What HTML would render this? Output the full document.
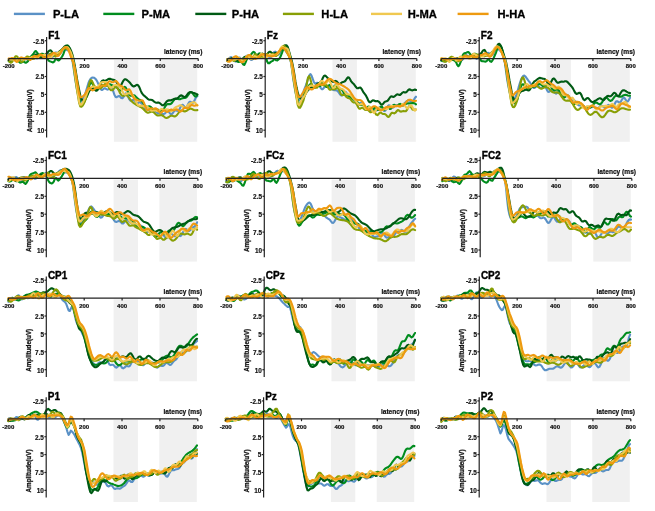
<!DOCTYPE html>
<html><head><meta charset="utf-8"><style>
html,body{margin:0;padding:0;background:#fff;}
svg{display:block;filter:blur(0.3px);}
text{font-family:"Liberation Sans",Arial,sans-serif;}
.t{font-weight:bold;font-size:10px;fill:#000;stroke:#000;stroke-width:0.35px;}
.lg{font-weight:bold;font-size:11.2px;fill:#000;stroke:#000;stroke-width:0.3px;}
.tk{font-weight:bold;font-size:6px;fill:#111;stroke:#111;stroke-width:0.2px;}
.ty{font-weight:bold;font-size:7.2px;fill:#111;stroke:#111;stroke-width:0.2px;}
.xl{font-weight:bold;font-size:6.6px;fill:#111;stroke:#111;stroke-width:0.2px;}
.yl{font-weight:bold;font-size:6.3px;fill:#111;stroke:#111;stroke-width:0.25px;}
.ax{stroke:#222;stroke-width:1.2;fill:none;}
.cv{fill:none;stroke-width:2.1;stroke-linejoin:round;stroke-linecap:round;}
</style></head><body>
<svg width="655" height="511" viewBox="0 0 655 511">
<rect width="655" height="511" fill="#fff"/>

<line x1="13.9" y1="13.9" x2="44.9" y2="13.9" stroke="#5a91c6" stroke-width="2.4"/>
<text class="lg" x="52.9" y="18">P-LA</text>
<line x1="103.3" y1="13.9" x2="134.3" y2="13.9" stroke="#008c1e" stroke-width="2.4"/>
<text class="lg" x="141.6" y="18">P-MA</text>
<line x1="195.3" y1="13.9" x2="226.3" y2="13.9" stroke="#005a14" stroke-width="2.4"/>
<text class="lg" x="231.8" y="18">P-HA</text>
<line x1="282.9" y1="13.9" x2="313.9" y2="13.9" stroke="#889f05" stroke-width="2.4"/>
<text class="lg" x="321.3" y="18">H-LA</text>
<line x1="371.0" y1="13.9" x2="402.0" y2="13.9" stroke="#f0c850" stroke-width="2.4"/>
<text class="lg" x="407.7" y="18">H-MA</text>
<line x1="457.6" y1="13.9" x2="488.6" y2="13.9" stroke="#ee9a10" stroke-width="2.4"/>
<text class="lg" x="497.4" y="18">H-HA</text>
<g><rect x="113.9" y="59.8" width="24.4" height="82.0" fill="#f0f0f0"/>
<rect x="159.7" y="59.8" width="37.5" height="82.0" fill="#f0f0f0"/>
<path class="cv" stroke="#5a91c6" d="M8.7,59.2 9.8,59.8 11.0,59.9 12.1,59.7 13.2,59.6 14.4,59.8 15.5,60.0 16.7,59.7 17.8,58.9 18.9,58.2 20.1,58.2 21.2,59.0 22.3,59.9 23.5,60.0 24.6,59.2 25.8,58.2 26.9,57.8 28.0,58.4 29.2,59.3 30.3,59.4 31.4,58.2 32.6,56.4 33.7,55.4 34.9,55.9 36.0,57.4 37.1,58.4 38.3,57.9 39.4,56.0 40.5,54.3 41.7,54.1 42.8,55.5 43.9,57.2 45.1,57.6 46.2,56.4 47.4,54.6 48.5,53.9 49.6,54.9 50.8,56.6 51.9,57.5 53.0,56.6 54.2,54.4 55.3,52.6 56.5,52.5 57.6,53.5 58.7,54.4 59.9,54.1 61.0,52.6 62.1,50.7 63.3,49.3 64.4,48.9 65.5,49.3 66.7,49.9 67.8,50.3 69.0,51.0 70.1,52.8 71.2,56.1 72.4,60.7 73.5,67.3 74.6,75.2 75.8,82.7 76.9,88.7 78.1,94.8 79.2,99.6 80.3,101.7 81.5,101.3 82.6,99.4 83.7,97.0 84.9,94.7 86.0,91.4 87.2,87.4 88.3,83.5 89.4,80.7 90.6,78.7 91.7,77.8 92.8,77.5 94.0,77.7 95.1,78.5 96.2,79.8 97.4,81.8 98.5,84.3 99.7,87.2 100.8,89.4 101.9,90.0 103.1,89.3 104.2,88.4 105.3,88.5 106.5,89.2 107.6,89.6 108.8,89.0 109.9,87.7 111.0,87.0 112.2,88.3 113.3,91.4 114.4,94.8 115.6,96.9 116.7,97.2 117.9,96.4 119.0,96.0 120.1,96.7 121.3,98.0 122.4,98.3 123.5,97.0 124.7,94.8 125.8,93.3 126.9,94.0 128.1,96.5 129.2,99.2 130.4,100.7 131.5,100.6 132.6,100.0 133.8,99.9 134.9,100.9 136.0,102.4 137.2,103.1 138.3,102.9 139.5,102.3 140.6,102.5 141.7,103.9 142.9,106.3 144.0,108.3 145.1,109.4 146.3,109.6 147.4,109.6 148.6,109.9 149.7,110.4 150.8,110.6 152.0,110.4 153.1,110.2 154.2,110.3 155.4,111.2 156.5,112.4 157.6,113.2 158.8,113.4 159.9,113.3 161.1,113.3 162.2,113.8 163.3,114.1 164.5,113.8 165.6,112.7 166.7,111.5 167.9,111.2 169.0,112.1 170.2,113.6 171.3,114.3 172.4,113.6 173.6,111.9 174.7,110.5 175.8,110.2 177.0,110.8 178.1,110.9 179.2,109.7 180.4,107.3 181.5,105.2 182.7,104.7 183.8,105.9 184.9,107.4 186.1,107.7 187.2,106.1 188.3,103.6 189.5,101.9 190.6,101.8 191.8,102.6 192.9,102.9 194.0,101.5 195.2,99.0 196.3,96.8 197.4,96.3"/>
<path class="cv" stroke="#008c1e" d="M8.7,61.2 9.8,60.6 11.0,60.3 12.1,60.2 13.2,60.0 14.4,59.7 15.5,59.5 16.7,59.6 17.8,60.4 18.9,61.6 20.1,62.6 21.2,62.7 22.3,62.1 23.5,61.5 24.6,62.2 25.8,62.8 26.9,62.1 28.0,61.2 29.2,59.1 30.3,57.2 31.4,56.1 32.6,54.8 33.7,53.3 34.9,51.5 36.0,51.0 37.1,52.5 38.3,54.4 39.4,54.9 40.5,54.4 41.7,53.8 42.8,53.8 43.9,54.6 45.1,55.7 46.2,56.8 47.4,58.4 48.5,60.6 49.6,61.2 50.8,61.6 51.9,62.1 53.0,62.5 54.2,61.7 55.3,59.4 56.5,59.0 57.6,60.0 58.7,60.5 59.9,59.4 61.0,58.1 62.1,56.5 63.3,54.2 64.4,51.2 65.5,48.2 66.7,46.1 67.8,45.5 69.0,46.9 70.1,49.9 71.2,53.9 72.4,58.0 73.5,62.2 74.6,67.0 75.8,73.9 76.9,81.8 78.1,89.4 79.2,97.3 80.3,103.3 81.5,105.2 82.6,104.5 83.7,102.6 84.9,100.3 86.0,97.7 87.2,93.9 88.3,89.5 89.4,85.3 90.6,82.5 91.7,82.3 92.8,84.4 94.0,87.3 95.1,89.4 96.2,90.1 97.4,89.5 98.5,87.9 99.7,86.1 100.8,84.9 101.9,84.7 103.1,85.3 104.2,86.0 105.3,86.1 106.5,85.5 107.6,84.7 108.8,84.2 109.9,84.2 111.0,84.7 112.2,85.3 113.3,85.8 114.4,86.0 115.6,86.4 116.7,87.3 117.9,88.6 119.0,89.9 120.1,90.6 121.3,90.2 122.4,89.0 123.5,87.6 124.7,86.9 125.8,87.7 126.9,89.7 128.1,92.3 129.2,94.5 130.4,95.6 131.5,95.7 132.6,95.4 133.8,95.3 134.9,95.8 136.0,96.9 137.2,98.1 138.3,99.1 139.5,99.6 140.6,100.2 141.7,101.2 142.9,102.7 144.0,104.5 145.1,106.0 146.3,106.7 147.4,106.7 148.6,106.4 149.7,106.4 150.8,107.0 152.0,108.2 153.1,109.3 154.2,110.0 155.4,110.1 156.5,109.8 157.6,109.6 158.8,109.9 159.9,110.6 161.1,111.1 162.2,110.9 163.3,109.7 164.5,107.8 165.6,105.9 166.7,104.5 167.9,104.0 169.0,104.1 170.2,104.1 171.3,103.5 172.4,102.2 173.6,100.5 174.7,99.1 175.8,98.5 177.0,98.6 178.1,99.0 179.2,99.3 180.4,99.1 181.5,98.6 182.7,98.2 183.8,97.9 184.9,97.9 186.1,97.5 187.2,96.5 188.3,94.8 189.5,93.1 190.6,92.0 191.8,92.2 192.9,93.6 194.0,95.3 195.2,96.5 196.3,96.4 197.4,94.9"/>
<path class="cv" stroke="#005a14" d="M8.7,60.2 9.8,60.7 11.0,60.9 12.1,60.5 13.2,59.7 14.4,59.1 15.5,58.9 16.7,59.2 17.8,59.5 18.9,59.5 20.1,59.1 21.2,58.7 22.3,58.5 23.5,58.7 24.6,59.1 25.8,59.3 26.9,59.2 28.0,58.9 29.2,58.6 30.3,58.4 31.4,58.1 32.6,57.5 33.7,56.4 34.9,55.2 36.0,54.5 37.1,54.6 38.3,55.5 39.4,56.5 40.5,57.1 41.7,57.0 42.8,56.3 43.9,55.4 45.1,54.6 46.2,53.8 47.4,52.7 48.5,51.4 49.6,50.5 50.8,50.4 51.9,51.6 53.0,53.9 54.2,55.8 55.3,56.2 56.5,55.1 57.6,53.5 58.7,52.0 59.9,51.1 61.0,50.3 62.1,49.2 63.3,47.9 64.4,46.6 65.5,45.8 66.7,45.6 67.8,46.0 69.0,47.1 70.1,48.8 71.2,51.2 72.4,54.6 73.5,59.1 74.6,64.7 75.8,71.5 76.9,78.4 78.1,84.7 79.2,90.1 80.3,95.5 81.5,99.1 82.6,100.5 83.7,100.6 84.9,99.6 86.0,98.1 87.2,95.8 88.3,93.1 89.4,90.7 90.6,89.3 91.7,88.8 92.8,88.8 94.0,89.3 95.1,90.2 96.2,90.8 97.4,90.3 98.5,88.5 99.7,85.7 100.8,82.9 101.9,81.0 103.1,80.4 104.2,80.6 105.3,80.7 106.5,80.3 107.6,79.5 108.8,78.9 109.9,78.8 111.0,79.1 112.2,79.6 113.3,79.8 114.4,80.0 115.6,80.8 116.7,82.5 117.9,84.5 119.0,86.1 120.1,86.2 121.3,84.8 122.4,82.5 123.5,80.4 124.7,79.3 125.8,79.3 126.9,80.0 128.1,81.0 129.2,82.0 130.4,83.3 131.5,84.8 132.6,86.0 133.8,86.5 134.9,86.1 136.0,85.2 137.2,84.8 138.3,85.5 139.5,87.6 140.6,90.3 141.7,92.8 142.9,94.5 144.0,95.6 145.1,96.4 146.3,97.5 147.4,98.6 148.6,99.5 149.7,99.8 150.8,99.8 152.0,100.0 153.1,100.7 154.2,101.7 155.4,102.5 156.5,102.7 157.6,102.6 158.8,102.6 159.9,103.2 161.1,104.2 162.2,105.2 163.3,105.3 164.5,104.4 165.6,102.8 166.7,101.4 167.9,100.6 169.0,100.4 170.2,100.4 171.3,100.2 172.4,99.6 173.6,99.1 174.7,98.9 175.8,98.9 177.0,98.7 178.1,97.9 179.2,96.6 180.4,95.6 181.5,95.4 182.7,96.0 183.8,96.8 184.9,97.0 186.1,96.2 187.2,94.7 188.3,93.2 189.5,92.3 190.6,92.1 191.8,92.4 192.9,92.8 194.0,93.1 195.2,93.5 196.3,94.0 197.4,94.4"/>
<path class="cv" stroke="#889f05" d="M8.7,60.4 9.8,62.1 11.0,62.7 12.1,61.9 13.2,60.0 14.4,57.9 15.5,56.4 16.7,56.2 17.8,57.2 18.9,59.1 20.1,60.9 21.2,61.9 22.3,61.7 23.5,60.6 24.6,59.0 25.8,57.5 26.9,56.6 28.0,56.6 29.2,57.1 30.3,57.8 31.4,58.5 32.6,58.9 33.7,58.8 34.9,58.2 36.0,57.3 37.1,56.3 38.3,55.3 39.4,54.7 40.5,54.5 41.7,55.0 42.8,55.9 43.9,56.9 45.1,57.6 46.2,57.6 47.4,56.8 48.5,55.5 49.6,54.2 50.8,53.5 51.9,53.6 53.0,54.4 54.2,55.6 55.3,56.4 56.5,56.3 57.6,55.2 58.7,53.5 59.9,51.9 61.0,50.5 62.1,49.4 63.3,48.7 64.4,48.5 65.5,48.4 66.7,48.7 67.8,49.1 69.0,49.8 70.1,51.4 71.2,54.2 72.4,58.5 73.5,65.1 74.6,73.4 75.8,81.9 76.9,89.3 78.1,96.5 79.2,103.0 80.3,106.4 81.5,106.7 82.6,105.8 83.7,103.9 84.9,101.5 86.0,98.1 87.2,93.1 88.3,87.6 89.4,82.9 90.6,80.1 91.7,80.4 92.8,82.8 94.0,85.4 95.1,86.7 96.2,87.3 97.4,87.8 98.5,88.3 99.7,88.5 100.8,88.2 101.9,87.3 103.1,86.1 104.2,84.7 105.3,83.9 106.5,84.1 107.6,85.4 108.8,87.3 109.9,89.2 111.0,90.3 112.2,90.3 113.3,89.4 114.4,88.0 115.6,87.2 116.7,87.3 117.9,88.7 119.0,90.9 120.1,93.2 121.3,95.0 122.4,95.8 123.5,95.8 124.7,95.4 125.8,95.1 126.9,95.5 128.1,96.5 129.2,98.0 130.4,99.7 131.5,101.1 132.6,102.2 133.8,103.1 134.9,103.8 136.0,104.5 137.2,105.3 138.3,105.9 139.5,106.5 140.6,107.1 141.7,107.7 142.9,108.6 144.0,109.7 145.1,110.9 146.3,112.0 147.4,112.6 148.6,112.6 149.7,112.2 150.8,111.7 152.0,111.5 153.1,111.9 154.2,112.8 155.4,114.0 156.5,115.0 157.6,115.5 158.8,115.5 159.9,115.2 161.1,115.1 162.2,115.3 163.3,116.0 164.5,117.0 165.6,117.8 166.7,118.0 167.9,117.6 169.0,116.8 170.2,116.0 171.3,115.7 172.4,115.8 173.6,116.2 174.7,116.4 175.8,116.0 177.0,115.0 178.1,113.5 179.2,112.0 180.4,111.0 181.5,110.6 182.7,110.8 183.8,111.2 184.9,111.4 186.1,111.1 187.2,110.4 188.3,109.5 189.5,108.8 190.6,108.6 191.8,108.9 192.9,109.5 194.0,110.0 195.2,110.3 196.3,110.3 197.4,110.1"/>
<path class="cv" stroke="#f0c850" d="M8.7,58.9 9.8,59.5 11.0,59.6 12.1,59.4 13.2,59.5 14.4,60.0 15.5,60.4 16.7,60.2 17.8,59.3 18.9,58.4 20.1,58.1 21.2,58.6 22.3,59.3 23.5,59.7 24.6,59.4 25.8,58.8 26.9,58.4 28.0,58.5 29.2,58.5 30.3,58.1 31.4,57.3 32.6,56.7 33.7,56.7 34.9,57.3 36.0,58.0 37.1,57.9 38.3,57.1 39.4,55.9 40.5,55.2 41.7,55.1 42.8,55.1 43.9,55.0 45.1,54.8 46.2,55.0 47.4,55.8 48.5,57.0 49.6,57.9 50.8,57.7 51.9,56.5 53.0,55.0 54.2,53.9 55.3,53.4 56.5,53.2 57.6,52.9 58.7,52.4 59.9,52.1 61.0,51.5 62.1,50.4 63.3,48.9 64.4,47.6 65.5,47.1 66.7,47.0 67.8,47.5 69.0,48.9 70.1,51.0 71.2,53.5 72.4,56.8 73.5,62.1 74.6,69.9 75.8,78.6 76.9,86.6 78.1,94.8 79.2,101.9 80.3,104.8 81.5,104.6 82.6,103.0 83.7,100.7 84.9,98.3 86.0,95.4 87.2,92.6 88.3,90.4 89.4,88.8 90.6,87.7 91.7,87.0 92.8,86.5 94.0,86.6 95.1,87.1 96.2,87.5 97.4,87.2 98.5,85.9 99.7,84.3 100.8,82.9 101.9,82.2 103.1,82.0 104.2,82.0 105.3,82.1 106.5,82.5 107.6,83.6 108.8,85.4 109.9,87.0 111.0,87.7 112.2,87.2 113.3,86.1 114.4,85.2 115.6,84.9 116.7,85.1 117.9,85.5 119.0,86.0 120.1,87.0 121.3,88.9 122.4,91.3 123.5,93.5 124.7,94.5 125.8,94.4 126.9,93.7 128.1,93.2 129.2,93.4 130.4,93.9 131.5,94.5 132.6,95.3 133.8,96.7 134.9,98.9 136.0,101.7 137.2,104.1 138.3,105.4 139.5,105.6 140.6,105.5 141.7,105.6 142.9,106.0 144.0,106.5 145.1,106.6 146.3,106.5 147.4,106.8 148.6,107.8 149.7,109.2 150.8,110.4 152.0,110.7 153.1,110.5 154.2,110.2 155.4,110.4 156.5,110.9 157.6,111.1 158.8,110.6 159.9,109.8 161.1,109.1 162.2,109.0 163.3,109.4 164.5,109.7 165.6,109.6 166.7,109.4 167.9,109.5 169.0,110.2 170.2,111.1 171.3,111.4 172.4,110.7 173.6,109.3 174.7,108.0 175.8,107.1 177.0,106.6 178.1,106.2 179.2,105.6 180.4,105.2 181.5,105.5 182.7,106.5 183.8,107.6 184.9,108.0 186.1,107.3 187.2,105.9 188.3,104.6 189.5,103.8 190.6,103.3 191.8,102.8 192.9,102.3 194.0,102.2 195.2,102.9 196.3,104.2 197.4,105.5"/>
<path class="cv" stroke="#ee9a10" d="M8.7,58.5 9.8,58.5 11.0,58.3 12.1,58.0 13.2,58.3 14.4,59.5 15.5,61.2 16.7,62.0 17.8,61.5 18.9,59.8 20.1,58.1 21.2,57.4 22.3,57.7 23.5,58.4 24.6,58.6 25.8,58.4 26.9,58.3 28.0,58.8 29.2,59.6 30.3,59.9 31.4,59.1 32.6,57.6 33.7,56.3 34.9,55.9 36.0,56.3 37.1,56.7 38.3,56.2 39.4,55.3 40.5,54.6 41.7,55.0 42.8,56.3 43.9,57.4 45.1,57.7 46.2,57.0 47.4,56.1 48.5,55.6 49.6,55.5 50.8,55.2 51.9,54.2 53.0,53.1 54.2,52.7 55.3,53.6 56.5,55.2 57.6,56.1 58.7,55.7 59.9,54.2 61.0,52.2 62.1,50.2 63.3,48.7 64.4,47.7 65.5,47.1 66.7,47.4 67.8,48.8 69.0,51.3 70.1,54.5 71.2,57.7 72.4,60.5 73.5,62.9 74.6,67.0 75.8,73.1 76.9,80.3 78.1,87.4 79.2,94.3 80.3,97.2 81.5,97.3 82.6,96.5 83.7,95.6 84.9,94.5 86.0,92.4 87.2,90.0 88.3,88.3 89.4,88.0 90.6,88.9 91.7,90.1 92.8,90.4 94.0,89.8 95.1,88.7 96.2,88.0 97.4,87.8 98.5,87.7 99.7,87.1 100.8,86.1 101.9,85.4 103.1,85.4 104.2,85.9 105.3,85.9 106.5,84.8 107.6,83.1 108.8,81.6 109.9,81.1 111.0,81.7 112.2,82.3 113.3,82.3 114.4,81.5 115.6,81.1 116.7,81.5 117.9,82.9 119.0,84.5 120.1,85.5 121.3,86.0 122.4,86.7 123.5,87.9 124.7,89.3 125.8,90.3 126.9,90.2 128.1,89.5 129.2,89.3 130.4,90.6 131.5,93.2 132.6,96.0 133.8,98.1 134.9,99.1 136.0,99.5 137.2,100.0 138.3,100.5 139.5,100.8 140.6,100.5 141.7,100.2 142.9,100.8 144.0,102.9 145.1,106.0 146.3,108.7 147.4,110.0 148.6,109.8 149.7,108.9 150.8,108.4 152.0,108.5 153.1,108.7 154.2,108.6 155.4,108.4 156.5,108.6 157.6,109.8 158.8,111.4 159.9,112.6 161.1,112.6 162.2,111.6 163.3,110.6 164.5,110.5 165.6,111.2 166.7,111.9 167.9,111.8 169.0,110.9 170.2,109.9 171.3,109.5 172.4,109.9 173.6,110.3 174.7,110.2 175.8,109.6 177.0,109.3 178.1,109.9 179.2,111.0 180.4,111.6 181.5,111.1 182.7,109.7 183.8,108.3 184.9,107.7 186.1,107.9 187.2,108.3 188.3,107.9 189.5,106.7 190.6,105.5 191.8,105.0 192.9,105.3 194.0,105.7 195.2,105.6 196.3,105.2 197.4,105.2"/>
<path class="ax" d="M8.7,58.6H198.2"/>
<path class="ax" d="M46.6,37.0V137.4"/>
<path class="ax" d="M8.7,58.6V61.0"/>
<text class="tk" x="8.7" y="68.3" text-anchor="middle">-200</text>
<path class="ax" d="M84.5,58.6V61.0"/>
<text class="tk" x="84.5" y="68.3" text-anchor="middle">200</text>
<path class="ax" d="M122.4,58.6V61.0"/>
<text class="tk" x="122.4" y="68.3" text-anchor="middle">400</text>
<path class="ax" d="M160.3,58.6V61.0"/>
<text class="tk" x="160.3" y="68.3" text-anchor="middle">600</text>
<path class="ax" d="M198.2,58.6V61.0"/>
<text class="tk" x="198.2" y="68.3" text-anchor="middle">800</text>
<path class="ax" d="M44.8,40.7H46.6"/>
<text class="ty" transform="translate(44.3,43.5) scale(0.89,1)" text-anchor="end">-2.5</text>
<path class="ax" d="M44.8,76.5H46.6"/>
<text class="ty" transform="translate(44.3,79.3) scale(0.89,1)" text-anchor="end">2.5</text>
<path class="ax" d="M44.8,94.4H46.6"/>
<text class="ty" transform="translate(44.3,97.2) scale(0.89,1)" text-anchor="end">5</text>
<path class="ax" d="M44.8,112.3H46.6"/>
<text class="ty" transform="translate(44.3,115.1) scale(0.89,1)" text-anchor="end">7.5</text>
<path class="ax" d="M44.8,130.2H46.6"/>
<text class="ty" transform="translate(44.3,133.0) scale(0.89,1)" text-anchor="end">10</text>
<text class="t" x="48.2" y="38.8">F1</text>
<text class="xl" x="202.4" y="54.1" text-anchor="end">latency (ms)</text>
<text class="yl" transform="translate(31.5,110.8) rotate(-90)" text-anchor="middle">Amplitude(uV)</text></g>
<g><rect x="332.5" y="59.8" width="24.4" height="82.0" fill="#f0f0f0"/>
<rect x="378.3" y="59.8" width="37.5" height="82.0" fill="#f0f0f0"/>
<path class="cv" stroke="#5a91c6" d="M227.3,59.9 228.4,59.0 229.6,57.9 230.7,57.2 231.8,57.4 233.0,58.7 234.1,60.5 235.3,61.6 236.4,61.2 237.5,59.6 238.7,58.0 239.8,57.6 240.9,58.7 242.1,60.4 243.2,61.0 244.4,59.9 245.5,57.6 246.6,55.8 247.8,55.6 248.9,57.0 250.0,59.0 251.2,60.0 252.3,59.5 253.5,57.9 254.6,56.3 255.7,55.4 256.9,55.3 258.0,55.6 259.1,55.8 260.3,55.9 261.4,56.0 262.5,56.1 263.7,55.9 264.8,55.5 266.0,55.1 267.1,55.2 268.2,56.1 269.4,57.2 270.5,57.5 271.6,56.4 272.8,54.2 273.9,52.1 275.1,51.6 276.2,52.6 277.3,54.1 278.5,54.7 279.6,53.6 280.7,51.2 281.9,48.9 283.0,47.8 284.1,48.4 285.3,50.2 286.4,52.0 287.6,53.6 288.7,55.2 289.8,57.8 291.0,62.4 292.1,70.0 293.2,78.7 294.4,86.1 295.5,92.2 296.7,97.2 297.8,100.2 298.9,100.5 300.1,99.0 301.2,96.5 302.3,94.0 303.5,91.6 304.6,88.7 305.8,85.7 306.9,82.4 308.0,78.8 309.2,75.5 310.3,74.0 311.4,75.4 312.6,78.5 313.7,81.7 314.8,83.4 316.0,83.2 317.1,82.7 318.3,83.4 319.4,85.3 320.5,87.7 321.7,89.2 322.8,89.1 323.9,87.8 325.1,86.3 326.2,85.7 327.4,85.9 328.5,86.8 329.6,87.7 330.8,88.4 331.9,89.1 333.0,89.8 334.2,90.2 335.3,90.3 336.5,90.4 337.6,91.0 338.7,92.4 339.9,94.2 341.0,95.4 342.1,95.4 343.3,94.0 344.4,92.4 345.5,91.8 346.7,93.1 347.8,95.4 349.0,97.5 350.1,98.3 351.2,97.7 352.4,97.1 353.5,97.6 354.6,99.6 355.8,102.2 356.9,104.1 358.1,104.4 359.2,103.6 360.3,102.8 361.5,102.9 362.6,103.9 363.7,105.5 364.9,106.9 366.0,107.9 367.2,108.8 368.3,109.5 369.4,109.9 370.6,109.9 371.7,109.4 372.8,109.1 374.0,109.3 375.1,110.1 376.2,110.6 377.4,110.3 378.5,108.9 379.7,107.3 380.8,106.7 381.9,107.7 383.1,109.6 384.2,111.1 385.3,110.8 386.5,108.9 387.6,106.6 388.8,105.3 389.9,105.5 391.0,106.8 392.2,107.7 393.3,107.5 394.4,106.4 395.6,105.3 396.7,105.0 397.9,105.5 399.0,106.2 400.1,106.4 401.3,105.9 402.4,105.1 403.5,104.1 404.7,103.2 405.8,102.1 406.9,101.1 408.1,100.3 409.2,100.4 410.4,101.2 411.5,101.9 412.6,101.7 413.8,100.1 414.9,98.0 416.0,96.7"/>
<path class="cv" stroke="#008c1e" d="M227.3,61.2 228.4,60.8 229.6,60.3 230.7,59.7 231.8,59.3 233.0,59.1 234.1,59.3 235.3,59.9 236.4,60.9 237.5,61.7 238.7,61.9 239.8,61.7 240.9,61.7 242.1,62.6 243.2,64.6 244.4,64.9 245.5,62.5 246.6,59.8 247.8,57.1 248.9,55.7 250.0,55.3 251.2,54.4 252.3,52.9 253.5,51.9 254.6,52.5 255.7,54.3 256.9,55.4 258.0,54.5 259.1,53.4 260.3,53.6 261.4,54.5 262.5,54.9 263.7,54.6 264.8,54.8 266.0,57.3 267.1,61.4 268.2,63.3 269.4,63.1 270.5,62.1 271.6,61.4 272.8,60.9 273.9,59.4 275.1,59.5 276.2,60.3 277.3,60.4 278.5,59.4 279.6,58.3 280.7,56.2 281.9,53.1 283.0,49.8 284.1,47.4 285.3,46.4 286.4,46.9 287.6,48.6 288.7,51.3 289.8,55.0 291.0,59.4 292.1,64.4 293.2,71.1 294.4,79.1 295.5,86.7 296.7,93.7 297.8,100.3 298.9,104.1 300.1,104.6 301.2,103.1 302.3,100.1 303.5,96.8 304.6,93.4 305.8,90.7 306.9,88.8 308.0,87.1 309.2,85.3 310.3,84.1 311.4,84.4 312.6,86.3 313.7,87.8 314.8,87.4 316.0,85.5 317.1,84.3 318.3,84.8 319.4,86.0 320.5,86.0 321.7,84.2 322.8,82.7 323.9,83.2 325.1,85.4 326.2,87.0 327.4,86.7 328.5,85.4 329.6,85.1 330.8,86.4 331.9,87.8 333.0,87.7 334.2,86.3 335.3,85.3 336.5,85.8 337.6,87.5 338.7,88.7 339.9,89.0 341.0,89.1 342.1,90.0 343.3,91.8 344.4,93.6 345.5,94.6 346.7,95.0 347.8,95.3 349.0,95.9 350.1,96.7 351.2,97.7 352.4,98.7 353.5,99.5 354.6,100.0 355.8,100.5 356.9,101.4 358.1,102.9 359.2,104.5 360.3,105.1 361.5,104.8 362.6,104.6 363.7,105.6 364.9,107.3 366.0,108.2 367.2,107.6 368.3,106.6 369.4,106.8 370.6,108.5 371.7,110.1 372.8,109.9 374.0,108.3 375.1,107.2 376.2,108.1 377.4,109.7 378.5,109.9 379.7,108.3 380.8,106.5 381.9,106.6 383.1,108.5 384.2,109.9 385.3,109.3 386.5,107.6 387.6,106.8 388.8,107.8 389.9,109.0 391.0,108.7 392.2,106.8 393.3,105.0 394.4,104.8 395.6,105.7 396.7,106.1 397.9,105.3 399.0,104.2 400.1,103.9 401.3,104.6 402.4,105.4 403.5,105.4 404.7,104.7 405.8,103.9 406.9,103.5 408.1,103.4 409.2,103.4 410.4,103.4 411.5,103.2 412.6,103.1 413.8,103.1 414.9,103.5 416.0,104.4"/>
<path class="cv" stroke="#005a14" d="M227.3,59.4 228.4,59.4 229.6,59.3 230.7,58.7 231.8,58.2 233.0,58.3 234.1,59.3 235.3,60.3 236.4,60.7 237.5,60.4 238.7,60.1 239.8,60.2 240.9,60.2 242.1,59.5 243.2,58.2 244.4,57.1 245.5,56.8 246.6,57.2 247.8,57.7 248.9,57.8 250.0,57.6 251.2,57.8 252.3,58.3 253.5,58.5 254.6,57.9 255.7,56.5 256.9,55.3 258.0,54.7 259.1,54.6 260.3,54.4 261.4,53.9 262.5,53.6 263.7,54.1 264.8,55.0 266.0,55.2 267.1,54.3 268.2,52.8 269.4,51.7 270.5,51.8 271.6,52.9 272.8,53.7 273.9,53.5 275.1,53.0 276.2,52.9 277.3,53.1 278.5,52.8 279.6,51.4 280.7,49.4 281.9,47.8 283.0,46.8 284.1,45.9 285.3,45.2 286.4,45.2 287.6,46.7 288.7,49.9 289.8,54.0 291.0,58.2 292.1,62.2 293.2,67.6 294.4,74.5 295.5,81.9 296.7,88.1 297.8,92.9 298.9,96.2 300.1,97.8 301.2,98.6 302.3,98.6 303.5,97.6 304.6,95.8 305.8,93.5 306.9,91.5 308.0,90.2 309.2,89.2 310.3,88.0 311.4,87.2 312.6,87.3 313.7,87.7 314.8,87.5 316.0,86.2 317.1,84.4 318.3,83.2 319.4,82.8 320.5,82.3 321.7,80.6 322.8,78.0 323.9,76.0 325.1,75.6 326.2,76.4 327.4,77.7 328.5,78.6 329.6,79.4 330.8,80.3 331.9,81.3 333.0,81.9 334.2,81.5 335.3,80.9 336.5,81.2 337.6,82.5 338.7,83.8 339.9,84.0 341.0,83.1 342.1,82.2 343.3,81.9 344.4,81.6 345.5,80.6 346.7,78.7 347.8,77.4 349.0,77.6 350.1,79.3 351.2,81.4 352.4,82.8 353.5,83.8 354.6,85.1 355.8,86.8 356.9,88.1 358.1,88.3 359.2,87.7 360.3,87.5 361.5,88.7 362.6,90.7 363.7,92.7 364.9,94.2 366.0,95.7 367.2,98.0 368.3,100.6 369.4,102.2 370.6,102.2 371.7,101.1 372.8,100.3 374.0,100.5 375.1,101.1 376.2,101.3 377.4,101.1 378.5,101.4 379.7,102.6 380.8,104.1 381.9,104.6 383.1,103.8 384.2,102.4 385.3,101.5 386.5,101.2 387.6,100.7 388.8,99.3 389.9,97.5 391.0,96.4 392.2,96.5 393.3,96.9 394.4,96.6 395.6,95.5 396.7,94.5 397.9,94.4 399.0,94.9 400.1,94.9 401.3,93.9 402.4,92.6 403.5,92.1 404.7,92.4 405.8,92.5 406.9,91.7 408.1,90.2 409.2,89.4 410.4,89.6 411.5,90.3 412.6,90.4 413.8,89.9 414.9,89.5 416.0,90.0"/>
<path class="cv" stroke="#889f05" d="M227.3,59.3 228.4,59.9 229.6,59.7 230.7,59.2 231.8,59.6 233.0,60.5 234.1,60.9 235.3,59.8 236.4,58.0 237.5,57.3 238.7,58.2 239.8,59.6 240.9,60.1 242.1,59.4 243.2,58.6 244.4,58.7 245.5,59.1 246.6,59.0 247.8,58.2 248.9,57.6 250.0,58.0 251.2,58.7 252.3,58.4 253.5,56.6 254.6,54.7 255.7,54.3 256.9,55.5 258.0,56.9 259.1,57.3 260.3,56.7 261.4,56.5 262.5,56.8 263.7,56.9 264.8,56.0 266.0,54.6 267.1,54.0 268.2,54.8 269.4,55.8 270.5,55.7 271.6,54.5 272.8,53.8 273.9,54.4 275.1,55.7 276.2,56.0 277.3,54.9 278.5,53.2 279.6,51.5 280.7,49.8 281.9,48.0 283.0,46.3 284.1,45.7 285.3,47.1 286.4,49.9 287.6,53.0 288.7,55.5 289.8,58.1 291.0,62.0 292.1,68.8 293.2,77.0 294.4,84.7 295.5,91.3 296.7,98.8 297.8,105.0 298.9,107.7 300.1,107.7 301.2,105.8 302.3,103.1 303.5,100.3 304.6,96.1 305.8,90.1 306.9,83.3 308.0,77.7 309.2,76.1 310.3,78.8 311.4,83.1 312.6,86.0 313.7,86.8 314.8,87.3 316.0,87.8 317.1,87.6 318.3,86.0 319.4,84.0 320.5,83.0 321.7,83.7 322.8,85.0 323.9,85.5 325.1,85.1 326.2,85.0 327.4,86.3 328.5,88.3 329.6,89.7 330.8,89.7 331.9,89.1 333.0,89.0 334.2,89.3 335.3,89.1 336.5,88.2 337.6,87.7 338.7,89.0 339.9,91.8 341.0,94.3 342.1,95.2 343.3,94.9 344.4,94.8 345.5,95.8 346.7,97.2 347.8,98.0 349.0,98.1 350.1,98.6 351.2,100.1 352.4,101.7 353.5,102.5 354.6,102.5 355.8,102.8 356.9,104.6 358.1,107.1 359.2,108.7 360.3,108.6 361.5,107.8 362.6,107.7 363.7,108.7 364.9,109.7 366.0,109.9 367.2,109.8 368.3,110.2 369.4,111.4 370.6,112.3 371.7,112.0 372.8,111.2 374.0,111.2 375.1,112.7 376.2,114.6 377.4,115.1 378.5,114.1 379.7,112.8 380.8,112.7 381.9,113.4 383.1,114.0 384.2,114.0 385.3,114.3 386.5,115.3 387.6,116.7 388.8,116.9 389.9,115.5 391.0,113.6 392.2,112.7 393.3,113.1 394.4,113.4 395.6,112.7 396.7,111.1 397.9,110.1 399.0,110.5 400.1,111.4 401.3,111.6 402.4,111.2 403.5,110.9 404.7,111.2 405.8,111.3 406.9,110.0 408.1,107.7 409.2,106.0 410.4,106.2 411.5,108.0 412.6,109.6 413.8,110.0 414.9,109.5 416.0,109.5"/>
<path class="cv" stroke="#f0c850" d="M227.3,59.1 228.4,58.6 229.6,58.8 230.7,59.3 231.8,59.6 233.0,59.6 234.1,59.5 235.3,59.5 236.4,59.3 237.5,58.7 238.7,58.1 239.8,58.2 240.9,59.2 242.1,60.6 243.2,61.4 244.4,60.5 245.5,58.3 246.6,56.3 247.8,55.7 248.9,56.8 250.0,58.5 251.2,59.1 252.3,58.3 253.5,56.9 254.6,56.1 255.7,56.5 256.9,57.3 258.0,57.4 259.1,56.2 260.3,54.5 261.4,53.7 262.5,54.4 263.7,56.1 264.8,57.5 266.0,57.6 267.1,56.6 268.2,55.4 269.4,54.6 270.5,54.6 271.6,54.7 272.8,54.8 273.9,54.7 275.1,54.7 276.2,54.7 277.3,54.1 278.5,52.8 279.6,50.5 280.7,48.1 281.9,46.6 283.0,46.9 284.1,48.0 285.3,48.3 286.4,48.3 287.6,48.9 288.7,51.3 289.8,55.6 291.0,61.2 292.1,68.3 293.2,75.4 294.4,82.1 295.5,88.9 296.7,97.4 297.8,103.7 298.9,105.2 300.1,103.8 301.2,101.0 302.3,98.7 303.5,97.1 304.6,95.6 305.8,93.7 306.9,91.1 308.0,88.5 309.2,86.5 310.3,85.6 311.4,85.6 312.6,85.8 313.7,85.9 314.8,85.8 316.0,85.7 317.1,85.5 318.3,84.8 319.4,83.4 320.5,81.7 321.7,80.8 322.8,81.3 323.9,82.7 325.1,83.6 326.2,83.1 327.4,81.5 328.5,80.3 329.6,81.0 330.8,83.5 331.9,86.4 333.0,87.9 334.2,87.5 335.3,85.9 336.5,84.9 337.6,85.3 338.7,86.8 339.9,88.1 341.0,88.8 342.1,89.0 343.3,89.6 344.4,91.0 345.5,92.7 346.7,94.0 347.8,94.4 349.0,94.4 350.1,94.8 351.2,95.7 352.4,97.1 353.5,98.5 354.6,99.6 355.8,100.9 356.9,102.4 358.1,103.9 359.2,104.7 360.3,104.5 361.5,103.9 362.6,104.0 363.7,105.4 364.9,107.7 366.0,109.2 367.2,109.2 368.3,107.8 369.4,106.7 370.6,107.3 371.7,109.5 372.8,111.9 374.0,112.8 375.1,111.7 376.2,109.4 377.4,107.8 378.5,107.6 379.7,108.6 380.8,109.6 381.9,109.9 383.1,109.6 384.2,109.3 385.3,109.2 386.5,109.1 387.6,108.6 388.8,107.5 389.9,106.4 391.0,105.9 392.2,106.0 393.3,106.3 394.4,106.2 395.6,105.8 396.7,105.7 397.9,106.1 399.0,106.7 400.1,106.6 401.3,105.6 402.4,104.3 403.5,103.8 404.7,104.9 405.8,106.9 406.9,108.4 408.1,108.2 409.2,106.7 410.4,105.3 411.5,105.6 412.6,107.6 413.8,109.8 414.9,110.7 416.0,109.6"/>
<path class="cv" stroke="#ee9a10" d="M227.3,61.0 228.4,61.7 229.6,61.7 230.7,61.0 231.8,59.8 233.0,58.3 234.1,57.0 235.3,56.3 236.4,56.4 237.5,57.4 238.7,59.0 239.8,60.6 240.9,61.9 242.1,62.4 243.2,61.9 244.4,60.6 245.5,58.8 246.6,57.0 247.8,55.6 248.9,55.0 250.0,55.1 251.2,55.9 252.3,57.0 253.5,58.1 254.6,58.8 255.7,58.9 256.9,58.4 258.0,57.5 259.1,56.4 260.3,55.5 261.4,54.8 262.5,54.4 263.7,54.4 264.8,54.6 266.0,54.9 267.1,55.3 268.2,55.7 269.4,56.1 270.5,56.3 271.6,56.4 272.8,56.3 273.9,55.8 275.1,55.0 276.2,54.0 277.3,52.9 278.5,51.8 279.6,50.6 280.7,49.3 281.9,48.3 283.0,48.0 284.1,48.6 285.3,50.1 286.4,51.8 287.6,53.7 288.7,55.6 289.8,57.8 291.0,60.3 292.1,64.0 293.2,69.8 294.4,76.8 295.5,83.8 296.7,90.6 297.8,95.6 298.9,97.1 300.1,96.8 301.2,95.5 302.3,93.8 303.5,91.8 304.6,89.6 305.8,88.0 306.9,87.3 308.0,87.6 309.2,88.3 310.3,89.1 311.4,89.5 312.6,89.2 313.7,88.3 314.8,87.1 316.0,85.9 317.1,85.0 318.3,84.5 319.4,84.5 320.5,84.7 321.7,84.9 322.8,84.6 323.9,83.9 325.1,82.7 326.2,81.3 327.4,80.0 328.5,79.1 329.6,78.8 330.8,79.0 331.9,79.8 333.0,80.7 334.2,81.7 335.3,82.6 336.5,83.2 337.6,83.6 338.7,83.9 339.9,84.3 341.0,84.7 342.1,85.3 343.3,86.0 344.4,86.7 345.5,87.4 346.7,88.1 347.8,89.0 349.0,90.1 350.1,91.5 351.2,93.2 352.4,95.0 353.5,96.8 354.6,98.4 355.8,99.4 356.9,99.9 358.1,100.0 359.2,100.0 360.3,100.1 361.5,100.7 362.6,101.9 363.7,103.5 364.9,105.5 366.0,107.4 367.2,108.9 368.3,109.6 369.4,109.5 370.6,108.8 371.7,107.8 372.8,106.8 374.0,106.2 375.1,106.3 376.2,107.0 377.4,108.0 378.5,109.2 379.7,110.0 380.8,110.4 381.9,110.2 383.1,109.5 384.2,108.5 385.3,107.6 386.5,107.0 387.6,106.7 388.8,106.8 389.9,107.0 391.0,107.2 392.2,107.2 393.3,107.0 394.4,106.6 395.6,106.2 396.7,105.9 397.9,105.8 399.0,105.9 400.1,106.1 401.3,106.1 402.4,105.8 403.5,105.0 404.7,103.9 405.8,102.6 406.9,101.3 408.1,100.3 409.2,99.8 410.4,99.8 411.5,100.2 412.6,100.7 413.8,101.1 414.9,101.1 416.0,100.8"/>
<path class="ax" d="M227.3,58.6H416.8"/>
<path class="ax" d="M265.2,37.0V137.4"/>
<path class="ax" d="M227.3,58.6V61.0"/>
<text class="tk" x="227.3" y="68.3" text-anchor="middle">-200</text>
<path class="ax" d="M303.1,58.6V61.0"/>
<text class="tk" x="303.1" y="68.3" text-anchor="middle">200</text>
<path class="ax" d="M341.0,58.6V61.0"/>
<text class="tk" x="341.0" y="68.3" text-anchor="middle">400</text>
<path class="ax" d="M378.9,58.6V61.0"/>
<text class="tk" x="378.9" y="68.3" text-anchor="middle">600</text>
<path class="ax" d="M416.8,58.6V61.0"/>
<text class="tk" x="416.8" y="68.3" text-anchor="middle">800</text>
<path class="ax" d="M263.4,40.7H265.2"/>
<text class="ty" transform="translate(262.9,43.5) scale(0.89,1)" text-anchor="end">-2.5</text>
<path class="ax" d="M263.4,76.5H265.2"/>
<text class="ty" transform="translate(262.9,79.3) scale(0.89,1)" text-anchor="end">2.5</text>
<path class="ax" d="M263.4,94.4H265.2"/>
<text class="ty" transform="translate(262.9,97.2) scale(0.89,1)" text-anchor="end">5</text>
<path class="ax" d="M263.4,112.3H265.2"/>
<text class="ty" transform="translate(262.9,115.1) scale(0.89,1)" text-anchor="end">7.5</text>
<path class="ax" d="M263.4,130.2H265.2"/>
<text class="ty" transform="translate(262.9,133.0) scale(0.89,1)" text-anchor="end">10</text>
<text class="t" x="266.8" y="38.8">Fz</text>
<text class="xl" x="421.0" y="54.1" text-anchor="end">latency (ms)</text>
<text class="yl" transform="translate(250.1,110.8) rotate(-90)" text-anchor="middle">Amplitude(uV)</text></g>
<g><rect x="546.5" y="59.8" width="24.4" height="82.0" fill="#f0f0f0"/>
<rect x="592.3" y="59.8" width="37.5" height="82.0" fill="#f0f0f0"/>
<path class="cv" stroke="#5a91c6" d="M441.3,60.2 442.4,61.1 443.6,61.2 444.7,60.7 445.8,60.1 447.0,59.5 448.1,59.1 449.3,58.6 450.4,58.1 451.5,57.9 452.7,58.1 453.8,58.6 454.9,59.1 456.1,59.2 457.2,59.1 458.4,59.1 459.5,59.6 460.6,60.3 461.8,60.3 462.9,59.3 464.0,57.5 465.2,55.7 466.3,55.1 467.5,55.6 468.6,56.7 469.7,57.0 470.9,56.3 472.0,55.2 473.1,54.8 474.3,55.8 475.4,57.6 476.5,58.9 477.7,58.4 478.8,56.3 480.0,54.2 481.1,53.4 482.2,54.2 483.4,55.7 484.5,56.3 485.6,55.4 486.8,53.7 487.9,52.7 489.1,53.2 490.2,54.6 491.3,55.5 492.5,54.9 493.6,52.9 494.7,50.4 495.9,48.6 497.0,48.1 498.1,48.8 499.3,50.0 500.4,51.1 501.6,52.2 502.7,54.4 503.8,58.0 505.0,63.6 506.1,71.7 507.2,79.9 508.4,86.3 509.5,91.5 510.7,96.1 511.8,99.2 512.9,100.1 514.1,99.4 515.2,97.4 516.3,94.8 517.5,91.5 518.6,87.4 519.8,83.3 520.9,80.0 522.0,77.6 523.2,76.0 524.3,75.6 525.4,76.5 526.6,78.1 527.7,79.7 528.8,81.1 530.0,82.5 531.1,84.3 532.3,86.4 533.4,87.9 534.5,87.9 535.7,86.9 536.8,85.8 537.9,85.8 539.1,86.8 540.2,87.9 541.4,88.1 542.5,87.2 543.6,86.1 544.8,86.1 545.9,87.6 547.0,90.1 548.2,91.9 549.3,91.8 550.5,90.4 551.6,89.1 552.7,89.2 553.9,90.9 555.0,92.9 556.1,93.7 557.3,92.9 558.4,91.5 559.5,90.9 560.7,92.0 561.8,94.2 563.0,96.1 564.1,96.5 565.2,95.7 566.4,94.7 567.5,95.0 568.6,96.6 569.8,98.8 570.9,100.4 572.1,100.7 573.2,100.3 574.3,100.3 575.5,101.4 576.6,103.1 577.7,104.7 578.9,105.5 580.0,105.5 581.2,105.3 582.3,105.5 583.4,106.1 584.6,106.7 585.7,107.1 586.8,107.0 588.0,106.9 589.1,106.9 590.2,107.1 591.4,107.1 592.5,107.0 593.7,107.0 594.8,107.2 595.9,107.8 597.1,108.2 598.2,108.0 599.3,107.1 600.5,106.0 601.6,105.6 602.8,106.1 603.9,107.1 605.0,107.5 606.2,106.9 607.3,105.7 608.4,104.9 609.6,105.3 610.7,106.7 611.9,107.7 613.0,107.3 614.1,105.2 615.3,102.7 616.4,101.2 617.5,101.3 618.7,102.2 619.8,102.5 620.9,101.4 622.1,99.3 623.2,97.8 624.4,97.9 625.5,99.5 626.6,101.2 627.8,101.5 628.9,99.9 630.0,97.7"/>
<path class="cv" stroke="#008c1e" d="M441.3,60.6 442.4,60.7 443.6,60.9 444.7,61.1 445.8,61.1 447.0,60.9 448.1,60.6 449.3,60.1 450.4,59.9 451.5,59.9 452.7,60.0 453.8,60.2 454.9,60.9 456.1,62.2 457.2,64.8 458.4,66.2 459.5,64.9 460.6,62.2 461.8,58.2 462.9,54.8 464.0,53.4 465.2,53.0 466.3,52.7 467.5,52.1 468.6,52.1 469.7,53.5 470.9,55.0 472.0,55.1 473.1,54.4 474.3,53.8 475.4,53.9 476.5,54.7 477.7,55.7 478.8,56.8 480.0,58.4 481.1,60.7 482.2,61.2 483.4,61.3 484.5,61.5 485.6,61.6 486.8,61.0 487.9,59.3 489.1,59.7 490.2,61.4 491.3,61.9 492.5,60.4 493.6,58.2 494.7,55.7 495.9,52.8 497.0,49.7 498.1,47.0 499.3,45.3 500.4,45.4 501.6,47.5 502.7,51.4 503.8,56.3 505.0,61.6 506.1,66.6 507.2,72.5 508.4,79.0 509.5,85.1 510.7,91.1 511.8,97.4 512.9,101.8 514.1,103.4 515.2,103.1 516.3,101.4 517.5,98.8 518.6,95.0 519.8,90.7 520.9,86.9 522.0,84.6 523.2,84.3 524.3,85.4 525.4,86.9 526.6,88.1 527.7,88.5 528.8,88.1 530.0,87.5 531.1,87.0 532.3,86.9 533.4,86.9 534.5,86.8 535.7,86.2 536.8,85.4 537.9,84.5 539.1,84.0 540.2,84.2 541.4,84.9 542.5,85.8 543.6,86.4 544.8,86.3 545.9,85.5 547.0,84.6 548.2,84.2 549.3,84.7 550.5,86.0 551.6,87.8 552.7,89.4 553.9,90.2 555.0,90.1 556.1,89.6 557.3,89.4 558.4,89.9 559.5,91.4 560.7,93.6 561.8,95.8 563.0,97.2 564.1,97.5 565.2,96.8 566.4,95.9 567.5,95.5 568.6,96.1 569.8,97.9 570.9,100.2 572.1,102.5 573.2,103.8 574.3,104.1 575.5,103.5 576.6,102.6 577.7,102.0 578.9,102.2 580.0,103.1 581.2,104.3 582.3,105.4 583.4,106.2 584.6,106.7 585.7,107.0 586.8,107.3 588.0,107.7 589.1,107.9 590.2,107.7 591.4,106.8 592.5,105.5 593.7,104.0 594.8,102.8 595.9,102.4 597.1,102.8 598.2,103.6 599.3,104.2 600.5,104.1 601.6,103.0 602.8,101.2 603.9,99.2 605.0,97.7 606.2,97.4 607.3,98.1 608.4,99.4 609.6,100.5 610.7,100.9 611.9,100.3 613.0,98.9 614.1,97.3 615.3,96.1 616.4,95.6 617.5,95.8 618.7,96.4 619.8,96.8 620.9,96.7 622.1,96.2 623.2,95.5 624.4,95.0 625.5,94.8 626.6,95.0 627.8,95.4 628.9,95.7 630.0,95.8"/>
<path class="cv" stroke="#005a14" d="M441.3,59.6 442.4,60.1 443.6,60.4 444.7,60.5 445.8,60.5 447.0,60.3 448.1,59.8 449.3,59.1 450.4,58.6 451.5,58.7 452.7,59.1 453.8,59.4 454.9,59.1 456.1,58.6 457.2,58.2 458.4,58.6 459.5,59.4 460.6,59.8 461.8,59.4 462.9,58.0 464.0,56.6 465.2,55.9 466.3,56.2 467.5,56.9 468.6,57.2 469.7,56.8 470.9,55.8 472.0,55.0 473.1,54.7 474.3,54.7 475.4,55.0 476.5,55.1 477.7,55.3 478.8,55.3 480.0,54.8 481.1,53.5 482.2,51.7 483.4,50.2 484.5,49.9 485.6,51.6 486.8,54.0 487.9,55.6 489.1,55.5 490.2,54.3 491.3,52.8 492.5,51.7 493.6,51.0 494.7,49.9 495.9,48.2 497.0,46.1 498.1,44.3 499.3,43.8 500.4,45.1 501.6,47.8 502.7,51.3 503.8,54.8 505.0,58.4 506.1,62.3 507.2,67.6 508.4,74.0 509.5,80.5 510.7,86.6 511.8,92.4 512.9,97.3 514.1,99.8 515.2,100.2 516.3,98.9 517.5,96.7 518.6,94.5 519.8,92.7 520.9,91.6 522.0,91.1 523.2,90.8 524.3,90.2 525.4,89.7 526.6,89.7 527.7,90.2 528.8,90.4 530.0,89.4 531.1,87.3 532.3,84.7 533.4,82.6 534.5,81.3 535.7,80.6 536.8,79.7 537.9,78.8 539.1,78.1 540.2,77.9 541.4,78.2 542.5,78.6 543.6,78.8 544.8,79.1 545.9,80.2 547.0,81.9 548.2,83.8 549.3,84.5 550.5,83.4 551.6,81.0 552.7,78.9 553.9,78.4 555.0,79.5 556.1,81.3 557.3,82.6 558.4,82.7 559.5,82.2 560.7,81.7 561.8,81.6 563.0,81.7 564.1,81.6 565.2,81.3 566.4,81.3 567.5,82.0 568.6,83.2 569.8,84.5 570.9,85.7 572.1,87.1 573.2,88.9 574.3,91.1 575.5,93.1 576.6,94.0 577.7,93.6 578.9,92.8 580.0,92.9 581.2,94.5 582.3,97.1 583.4,99.3 584.6,100.1 585.7,99.3 586.8,98.2 588.0,98.0 589.1,99.0 590.2,100.5 591.4,101.7 592.5,102.1 593.7,101.7 594.8,101.0 595.9,100.4 597.1,99.7 598.2,98.9 599.3,98.3 600.5,98.3 601.6,99.1 602.8,99.9 603.9,99.9 605.0,98.8 606.2,97.2 607.3,96.0 608.4,95.9 609.6,96.3 610.7,96.3 611.9,95.3 613.0,93.8 614.1,92.8 615.3,93.2 616.4,94.7 617.5,96.1 618.7,96.1 619.8,94.6 620.9,92.5 622.1,90.8 623.2,90.2 624.4,90.4 625.5,90.9 626.6,91.6 627.8,92.3 628.9,92.9 630.0,93.1"/>
<path class="cv" stroke="#889f05" d="M441.3,58.8 442.4,60.1 443.6,61.2 444.7,61.7 445.8,61.6 447.0,60.8 448.1,59.6 449.3,58.2 450.4,57.2 451.5,56.8 452.7,57.1 453.8,58.0 454.9,59.3 456.1,60.5 457.2,61.2 458.4,61.3 459.5,60.6 460.6,59.4 461.8,57.9 462.9,56.5 464.0,55.6 465.2,55.4 466.3,55.7 467.5,56.4 468.6,57.2 469.7,57.9 470.9,58.1 472.0,57.9 473.1,57.2 474.3,56.3 475.4,55.4 476.5,54.8 477.7,54.5 478.8,54.6 480.0,54.9 481.1,55.4 482.2,55.9 483.4,56.2 484.5,56.2 485.6,56.0 486.8,55.5 487.9,55.0 489.1,54.4 490.2,53.9 491.3,53.3 492.5,52.6 493.6,51.5 494.7,50.0 495.9,48.5 497.0,47.4 498.1,47.2 499.3,48.1 500.4,49.6 501.6,51.7 502.7,54.5 503.8,57.9 505.0,62.4 506.1,68.9 507.2,76.5 508.4,84.1 509.5,91.3 510.7,98.9 511.8,104.8 512.9,107.0 514.1,107.1 515.2,105.6 516.3,102.8 517.5,99.3 518.6,93.9 519.8,87.6 520.9,81.9 522.0,78.0 523.2,77.3 524.3,79.9 525.4,83.7 526.6,86.8 527.7,87.9 528.8,88.2 530.0,87.8 531.1,86.8 532.3,85.7 533.4,84.9 534.5,84.6 535.7,84.9 536.8,85.7 537.9,86.7 539.1,87.7 540.2,88.4 541.4,88.6 542.5,88.4 543.6,87.9 544.8,87.3 545.9,87.1 547.0,87.3 548.2,88.0 549.3,89.1 550.5,90.3 551.6,91.5 552.7,92.2 553.9,92.6 555.0,92.5 556.1,92.4 557.3,92.4 558.4,92.8 559.5,93.7 560.7,95.2 561.8,96.8 563.0,98.5 564.1,99.7 565.2,100.5 566.4,100.7 567.5,100.6 568.6,100.5 569.8,100.7 570.9,101.4 572.1,102.8 573.2,104.7 574.3,106.7 575.5,108.5 576.6,109.6 577.7,109.9 578.9,109.5 580.0,108.5 581.2,107.5 582.3,106.8 583.4,106.9 584.6,107.8 585.7,109.4 586.8,111.4 588.0,113.2 589.1,114.4 590.2,114.9 591.4,114.6 592.5,113.7 593.7,112.7 594.8,111.9 595.9,111.8 597.1,112.4 598.2,113.6 599.3,115.0 600.5,116.4 601.6,117.2 602.8,117.2 603.9,116.5 605.0,115.1 606.2,113.4 607.3,111.9 608.4,110.9 609.6,110.6 610.7,110.7 611.9,111.2 613.0,111.8 614.1,112.2 615.3,112.2 616.4,111.8 617.5,111.0 618.7,110.1 619.8,109.2 620.9,108.6 622.1,108.2 623.2,108.2 624.4,108.5 625.5,108.9 626.6,109.3 627.8,109.6 628.9,109.7 630.0,109.7"/>
<path class="cv" stroke="#f0c850" d="M441.3,58.0 442.4,58.8 443.6,58.9 444.7,58.4 445.8,58.2 447.0,59.2 448.1,60.9 449.3,61.9 450.4,61.2 451.5,59.3 452.7,57.7 453.8,57.7 454.9,59.1 456.1,60.5 457.2,60.4 458.4,58.9 459.5,57.2 460.6,56.5 461.8,57.1 462.9,58.0 464.0,58.2 465.2,57.7 466.3,57.3 467.5,57.6 468.6,58.4 469.7,58.6 470.9,57.6 472.0,55.7 473.1,54.1 474.3,53.7 475.4,54.5 476.5,55.5 477.7,56.1 478.8,56.2 480.0,56.2 481.1,56.4 482.2,56.4 483.4,56.0 484.5,55.2 485.6,54.7 486.8,54.9 487.9,55.5 489.1,55.6 490.2,54.8 491.3,53.1 492.5,51.6 493.6,49.9 494.7,48.1 495.9,46.6 497.0,46.1 498.1,46.6 499.3,47.7 500.4,49.8 501.6,52.3 502.7,54.7 503.8,56.6 505.0,59.2 506.1,64.7 507.2,72.8 508.4,81.7 509.5,90.1 510.7,98.1 511.8,102.7 512.9,103.1 514.1,102.2 515.2,100.7 516.3,99.1 517.5,96.9 518.6,93.9 519.8,91.2 520.9,89.5 522.0,88.7 523.2,88.0 524.3,86.6 525.4,85.0 526.6,84.0 527.7,84.3 528.8,85.6 530.0,86.7 531.1,86.8 532.3,86.1 533.4,85.1 534.5,84.5 535.7,84.0 536.8,83.2 537.9,82.3 539.1,81.6 540.2,81.8 541.4,82.8 542.5,84.0 543.6,84.5 544.8,84.4 545.9,84.2 547.0,84.6 548.2,85.4 549.3,86.2 550.5,86.5 551.6,86.6 552.7,87.0 553.9,88.0 555.0,88.7 556.1,88.5 557.3,87.5 558.4,86.6 559.5,87.2 560.7,89.5 561.8,92.5 563.0,94.6 564.1,95.2 565.2,95.0 566.4,95.3 567.5,96.5 568.6,98.0 569.8,98.6 570.9,98.1 572.1,97.6 573.2,98.4 574.3,100.6 575.5,103.0 576.6,104.2 577.7,103.7 578.9,102.7 580.0,102.7 581.2,104.3 582.3,106.7 583.4,108.2 584.6,108.2 585.7,107.2 586.8,106.4 588.0,106.3 589.1,106.6 590.2,106.5 591.4,105.9 592.5,105.3 593.7,105.8 594.8,107.3 595.9,108.8 597.1,109.4 598.2,108.7 599.3,107.5 600.5,106.6 601.6,106.4 602.8,106.4 603.9,106.2 605.0,105.9 606.2,105.8 607.3,106.0 608.4,106.2 609.6,105.8 610.7,104.8 611.9,104.1 613.0,104.3 614.1,105.5 615.3,106.8 616.4,107.0 617.5,106.0 618.7,104.6 619.8,103.8 620.9,103.7 622.1,103.7 623.2,103.1 624.4,102.1 625.5,101.9 626.6,103.2 627.8,105.5 628.9,107.4 630.0,107.4"/>
<path class="cv" stroke="#ee9a10" d="M441.3,59.1 442.4,58.5 443.6,58.7 444.7,59.2 445.8,59.6 447.0,59.6 448.1,59.2 449.3,59.0 450.4,59.0 451.5,59.2 452.7,59.2 453.8,58.9 454.9,58.5 456.1,58.4 457.2,58.9 458.4,59.8 459.5,60.5 460.6,60.3 461.8,59.2 462.9,57.6 464.0,56.4 465.2,56.0 466.3,56.3 467.5,56.7 468.6,56.7 469.7,56.3 470.9,55.9 472.0,55.8 473.1,56.3 474.3,57.0 475.4,57.4 476.5,57.2 477.7,56.6 478.8,55.9 480.0,55.5 481.1,55.2 482.2,54.8 483.4,54.1 484.5,53.4 485.6,53.1 486.8,53.8 487.9,55.2 489.1,56.4 490.2,56.8 491.3,55.9 492.5,54.1 493.6,51.8 494.7,49.6 495.9,47.9 497.0,47.0 498.1,47.0 499.3,48.1 500.4,49.8 501.6,52.2 502.7,55.3 503.8,58.8 505.0,62.4 506.1,66.3 507.2,71.7 508.4,78.0 509.5,84.1 510.7,90.1 511.8,94.6 512.9,95.4 514.1,94.4 515.2,92.9 516.3,91.9 517.5,91.3 518.6,90.9 519.8,90.6 520.9,90.1 522.0,89.4 523.2,88.5 524.3,87.9 525.4,87.6 526.6,87.3 527.7,86.9 528.8,86.3 530.0,85.8 531.1,85.6 532.3,85.8 533.4,86.2 534.5,86.1 535.7,85.2 536.8,83.6 537.9,82.1 539.1,81.2 540.2,81.3 541.4,81.9 542.5,82.2 543.6,81.9 544.8,81.1 545.9,80.5 547.0,80.4 548.2,81.2 549.3,82.3 550.5,83.3 551.6,84.0 552.7,84.6 553.9,85.4 555.0,86.5 556.1,87.6 557.3,88.3 558.4,88.4 559.5,88.2 560.7,88.4 561.8,89.4 563.0,91.0 564.1,92.7 565.2,93.9 566.4,94.6 567.5,95.1 568.6,96.1 569.8,97.8 570.9,99.9 572.1,101.7 573.2,102.6 574.3,102.6 575.5,102.1 576.6,101.7 577.7,101.7 578.9,102.2 580.0,102.7 581.2,103.3 582.3,104.2 583.4,105.6 584.6,107.4 585.7,109.1 586.8,109.8 588.0,109.4 589.1,108.0 590.2,106.5 591.4,105.7 592.5,105.8 593.7,106.6 594.8,107.5 595.9,107.9 597.1,108.1 598.2,108.3 599.3,108.9 600.5,109.8 601.6,110.5 602.8,110.5 603.9,109.8 605.0,108.8 606.2,107.9 607.3,107.4 608.4,107.1 609.6,106.8 610.7,106.2 611.9,105.9 613.0,106.1 614.1,107.0 615.3,108.3 616.4,109.2 617.5,108.9 618.7,107.5 619.8,105.6 620.9,104.0 622.1,103.3 623.2,103.6 624.4,104.2 625.5,104.8 626.6,105.2 627.8,105.5 628.9,106.0 630.0,106.5"/>
<path class="ax" d="M441.3,58.6H630.8"/>
<path class="ax" d="M479.2,37.0V137.4"/>
<path class="ax" d="M441.3,58.6V61.0"/>
<text class="tk" x="441.3" y="68.3" text-anchor="middle">-200</text>
<path class="ax" d="M517.1,58.6V61.0"/>
<text class="tk" x="517.1" y="68.3" text-anchor="middle">200</text>
<path class="ax" d="M555.0,58.6V61.0"/>
<text class="tk" x="555.0" y="68.3" text-anchor="middle">400</text>
<path class="ax" d="M592.9,58.6V61.0"/>
<text class="tk" x="592.9" y="68.3" text-anchor="middle">600</text>
<path class="ax" d="M630.8,58.6V61.0"/>
<text class="tk" x="630.8" y="68.3" text-anchor="middle">800</text>
<path class="ax" d="M477.4,40.7H479.2"/>
<text class="ty" transform="translate(476.9,43.5) scale(0.89,1)" text-anchor="end">-2.5</text>
<path class="ax" d="M477.4,76.5H479.2"/>
<text class="ty" transform="translate(476.9,79.3) scale(0.89,1)" text-anchor="end">2.5</text>
<path class="ax" d="M477.4,94.4H479.2"/>
<text class="ty" transform="translate(476.9,97.2) scale(0.89,1)" text-anchor="end">5</text>
<path class="ax" d="M477.4,112.3H479.2"/>
<text class="ty" transform="translate(476.9,115.1) scale(0.89,1)" text-anchor="end">7.5</text>
<path class="ax" d="M477.4,130.2H479.2"/>
<text class="ty" transform="translate(476.9,133.0) scale(0.89,1)" text-anchor="end">10</text>
<text class="t" x="480.8" y="38.8">F2</text>
<text class="xl" x="635.0" y="54.1" text-anchor="end">latency (ms)</text>
<text class="yl" transform="translate(464.1,110.8) rotate(-90)" text-anchor="middle">Amplitude(uV)</text></g>
<g><rect x="113.6" y="179.6" width="24.4" height="82.0" fill="#f0f0f0"/>
<rect x="159.4" y="179.6" width="37.5" height="82.0" fill="#f0f0f0"/>
<path class="cv" stroke="#5a91c6" d="M8.4,180.1 9.5,178.9 10.7,178.4 11.8,178.5 12.9,178.5 14.1,178.0 15.2,177.3 16.4,177.0 17.5,178.0 18.6,179.9 19.8,181.6 20.9,182.2 22.0,181.2 23.2,179.4 24.3,177.9 25.5,177.3 26.6,177.5 27.7,177.7 28.9,177.3 30.0,176.5 31.1,176.0 32.3,176.5 33.4,177.7 34.6,178.7 35.7,178.7 36.8,177.6 38.0,176.2 39.1,175.4 40.2,175.6 41.4,176.2 42.5,176.3 43.6,175.3 44.8,174.0 45.9,173.1 47.1,173.5 48.2,175.0 49.3,176.6 50.5,177.3 51.6,177.0 52.7,176.1 53.9,175.4 55.0,175.1 56.2,174.7 57.3,173.6 58.4,172.0 59.6,170.6 60.7,170.1 61.8,170.4 63.0,171.2 64.1,172.1 65.2,172.5 66.4,172.5 67.5,172.6 68.7,173.4 69.8,175.1 70.9,177.8 72.1,181.2 73.2,186.9 74.3,196.3 75.5,205.4 76.6,212.1 77.8,217.6 78.9,221.5 80.0,223.1 81.2,222.7 82.3,221.4 83.4,220.1 84.6,218.4 85.7,216.3 86.9,213.8 88.0,211.2 89.1,208.6 90.3,206.8 91.4,206.4 92.5,207.5 93.7,209.2 94.8,210.8 95.9,211.8 97.1,212.8 98.2,214.3 99.4,216.3 100.5,217.6 101.6,217.5 102.8,216.2 103.9,214.5 105.0,213.6 106.2,214.0 107.3,215.1 108.5,215.9 109.6,216.0 110.7,216.0 111.9,216.7 113.0,218.3 114.1,220.4 115.3,221.8 116.4,222.0 117.6,221.4 118.7,220.9 119.8,221.2 121.0,222.3 122.1,223.4 123.2,223.4 124.4,222.2 125.5,220.5 126.6,219.6 127.8,219.9 128.9,221.3 130.1,222.6 131.2,223.1 132.3,222.8 133.5,222.6 134.6,223.1 135.7,224.2 136.9,225.3 138.0,225.6 139.2,225.3 140.3,225.2 141.4,226.1 142.6,228.1 143.7,230.6 144.8,232.2 146.0,232.6 147.1,232.0 148.3,231.4 149.4,231.7 150.5,232.8 151.7,233.9 152.8,234.1 153.9,233.6 155.1,233.0 156.2,233.1 157.3,234.2 158.5,235.5 159.6,236.1 160.8,235.9 161.9,235.2 163.0,235.2 164.2,236.0 165.3,237.3 166.4,238.1 167.6,237.5 168.7,235.9 169.9,234.3 171.0,233.7 172.1,234.3 173.3,235.4 174.4,236.1 175.5,236.1 176.7,235.6 177.8,235.4 178.9,235.8 180.1,236.1 181.2,235.5 182.4,233.7 183.5,231.3 184.6,229.4 185.8,228.9 186.9,229.7 188.0,230.7 189.2,231.0 190.3,230.2 191.5,228.9 192.6,227.7 193.7,226.9 194.9,226.2 196.0,224.7 197.1,222.3"/>
<path class="cv" stroke="#008c1e" d="M8.4,181.3 9.5,181.6 10.7,181.3 11.8,180.4 12.9,179.3 14.1,178.5 15.2,178.3 16.4,179.0 17.5,180.3 18.6,181.7 19.8,182.5 20.9,182.4 22.0,181.9 23.2,181.7 24.3,183.1 25.5,183.9 26.6,182.8 27.7,180.8 28.9,177.6 30.0,175.0 31.1,173.9 32.3,173.6 33.4,173.3 34.6,172.5 35.7,172.4 36.8,173.7 38.0,175.2 39.1,175.2 40.2,174.3 41.4,173.4 42.5,173.1 43.6,173.4 44.8,174.1 45.9,175.2 47.1,177.3 48.2,180.5 49.3,182.1 50.5,183.1 51.6,183.4 52.7,183.0 53.9,181.3 55.0,178.4 56.2,178.1 57.3,179.6 58.4,180.6 59.6,179.4 60.7,177.9 61.8,176.3 63.0,174.2 64.1,172.2 65.2,170.7 66.4,170.1 67.5,170.4 68.7,171.7 69.8,173.7 70.9,176.0 72.1,178.8 73.2,182.4 74.3,187.6 75.5,196.6 76.6,206.7 77.8,215.0 78.9,221.8 80.0,225.1 81.2,225.0 82.3,223.5 83.4,221.8 84.6,220.8 85.7,220.0 86.9,218.8 88.0,216.9 89.1,214.7 90.3,212.6 91.4,211.5 92.5,211.7 93.7,213.1 94.8,215.1 95.9,216.6 97.1,216.9 98.2,216.1 99.4,214.6 100.5,213.3 101.6,212.7 102.8,212.9 103.9,213.7 105.0,214.5 106.2,214.7 107.3,214.4 108.5,213.9 109.6,213.7 110.7,214.0 111.9,214.8 113.0,215.7 114.1,216.3 115.3,216.3 116.4,215.9 117.6,215.6 118.7,215.6 119.8,216.1 121.0,216.9 122.1,217.6 123.2,218.1 124.4,218.3 125.5,218.3 126.6,218.3 127.8,218.6 128.9,219.0 130.1,219.5 131.2,220.1 132.3,220.7 133.5,221.6 134.6,222.9 135.7,224.5 136.9,226.1 138.0,227.2 139.2,227.6 140.3,227.4 141.4,227.0 142.6,226.8 143.7,227.2 144.8,228.1 146.0,229.1 147.1,229.9 148.3,230.3 149.4,230.5 150.5,230.9 151.7,232.0 152.8,233.7 153.9,235.5 155.1,236.8 156.2,237.0 157.3,236.0 158.5,234.3 159.6,232.8 160.8,232.2 161.9,232.6 163.0,233.6 164.2,234.3 165.3,234.3 166.4,233.3 167.6,231.9 168.7,230.8 169.9,230.4 171.0,230.6 172.1,230.9 173.3,230.6 174.4,229.3 175.5,227.1 176.7,224.8 177.8,223.2 178.9,222.8 180.1,223.6 181.2,225.0 182.4,225.9 183.5,225.9 184.6,224.9 185.8,223.4 186.9,222.0 188.0,221.2 189.2,220.9 190.3,220.8 191.5,220.4 192.6,219.5 193.7,218.3 194.9,217.3 196.0,216.9 197.1,217.2"/>
<path class="cv" stroke="#005a14" d="M8.4,179.2 9.5,178.2 10.7,177.7 11.8,177.8 12.9,178.6 14.1,179.7 15.2,180.7 16.4,181.2 17.5,181.0 18.6,180.3 19.8,179.2 20.9,178.1 22.0,177.4 23.2,177.2 24.3,177.5 25.5,178.1 26.6,178.7 27.7,179.1 28.9,179.1 30.0,178.7 31.1,178.0 32.3,177.2 33.4,176.5 34.6,176.0 35.7,175.7 36.8,175.5 38.0,175.3 39.1,175.2 40.2,175.0 41.4,174.9 42.5,174.8 43.6,174.8 44.8,174.8 45.9,174.7 47.1,174.2 48.2,173.1 49.3,172.0 50.5,171.1 51.6,171.0 52.7,172.0 53.9,173.3 55.0,174.0 56.2,174.0 57.3,173.5 58.4,172.7 59.6,172.0 60.7,171.2 61.8,170.3 63.0,169.5 64.1,169.0 65.2,168.8 66.4,168.9 67.5,169.3 68.7,170.0 69.8,171.3 70.9,173.3 72.1,176.2 73.2,180.1 74.3,185.3 75.5,193.0 76.6,201.8 77.8,209.3 78.9,215.1 80.0,218.6 81.2,219.0 82.3,217.5 83.4,215.3 84.6,213.5 85.7,212.9 86.9,212.8 88.0,213.1 89.1,213.5 90.3,213.9 91.4,213.9 92.5,213.6 93.7,213.1 94.8,212.5 95.9,212.2 97.1,212.2 98.2,212.7 99.4,213.5 100.5,214.1 101.6,214.4 102.8,214.1 103.9,213.2 105.0,212.1 106.2,211.3 107.3,210.9 108.5,211.2 109.6,212.0 110.7,212.9 111.9,213.6 113.0,213.7 114.1,213.3 115.3,212.6 116.4,212.1 117.6,212.0 118.7,212.4 119.8,213.1 121.0,213.8 122.1,214.2 123.2,213.9 124.4,213.2 125.5,212.3 126.6,211.5 127.8,211.1 128.9,211.3 130.1,212.0 131.2,213.0 132.3,214.0 133.5,214.8 134.6,215.2 135.7,215.4 136.9,215.7 138.0,216.2 139.2,217.1 140.3,218.3 141.4,219.6 142.6,220.8 143.7,221.7 144.8,222.1 146.0,222.5 147.1,222.9 148.3,223.7 149.4,224.9 150.5,226.6 151.7,228.5 152.8,230.2 153.9,231.4 155.1,231.8 156.2,231.5 157.3,230.9 158.5,230.3 159.6,230.0 160.8,230.3 161.9,231.1 163.0,232.2 164.2,233.3 165.3,233.9 166.4,233.9 167.6,233.2 168.7,232.0 169.9,230.6 171.0,229.3 172.1,228.3 173.3,227.7 174.4,227.4 175.5,227.3 176.7,227.0 177.8,226.6 178.9,226.0 180.1,225.3 181.2,224.7 182.4,224.2 183.5,223.8 184.6,223.5 185.8,223.0 186.9,222.3 188.0,221.5 189.2,220.6 190.3,219.9 191.5,219.4 192.6,219.2 193.7,219.2 194.9,219.2 196.0,219.2 197.1,218.8"/>
<path class="cv" stroke="#889f05" d="M8.4,180.6 9.5,181.0 10.7,180.2 11.8,178.8 12.9,177.8 14.1,177.9 15.2,178.9 16.4,179.8 17.5,179.8 18.6,178.9 19.8,177.9 20.9,177.6 22.0,178.4 23.2,179.6 24.3,180.5 25.5,180.4 26.6,179.6 27.7,178.5 28.9,177.6 30.0,176.8 31.1,176.2 32.3,175.8 33.4,175.8 34.6,176.4 35.7,177.1 36.8,177.6 38.0,177.4 39.1,176.7 40.2,176.1 41.4,176.1 42.5,176.4 43.6,176.5 44.8,175.6 45.9,174.1 47.1,172.8 48.2,172.7 49.3,174.1 50.5,176.3 51.6,177.8 52.7,177.9 53.9,176.7 55.0,174.9 56.2,173.5 57.3,172.9 58.4,172.6 59.6,172.2 60.7,171.4 61.8,170.4 63.0,169.7 64.1,169.7 65.2,170.2 66.4,171.2 67.5,172.5 68.7,173.9 69.8,175.7 70.9,178.1 72.1,181.1 73.2,185.8 74.3,193.5 75.5,202.3 76.6,210.6 77.8,218.8 78.9,224.9 80.0,226.8 81.2,226.2 82.3,224.4 83.4,222.5 84.6,221.0 85.7,219.2 86.9,216.4 88.0,212.8 89.1,209.2 90.3,207.1 91.4,207.5 92.5,210.2 93.7,213.4 94.8,215.4 95.9,215.7 97.1,215.3 98.2,214.7 99.4,214.4 100.5,214.4 101.6,214.3 102.8,214.4 103.9,214.6 105.0,215.0 106.2,215.6 107.3,215.9 108.5,216.0 109.6,216.1 110.7,216.5 111.9,217.5 113.0,218.4 114.1,218.7 115.3,218.0 116.4,217.0 117.6,216.6 118.7,217.4 119.8,219.2 121.0,221.0 122.1,221.9 123.2,221.5 124.4,220.8 125.5,220.8 126.6,221.9 127.8,223.7 128.9,225.2 130.1,225.8 131.2,225.6 132.3,225.3 133.5,225.4 134.6,226.1 135.7,227.1 136.9,227.8 138.0,228.3 139.2,228.8 140.3,229.5 141.4,230.2 142.6,230.8 143.7,231.3 144.8,232.0 146.0,232.9 147.1,234.1 148.3,235.0 149.4,234.9 150.5,234.1 151.7,233.2 152.8,233.1 153.9,234.4 155.1,236.5 156.2,238.3 157.3,239.0 158.5,238.6 159.6,238.0 160.8,237.9 161.9,238.7 163.0,239.6 164.2,239.8 165.3,238.9 166.4,237.6 167.6,236.8 168.7,237.0 169.9,238.1 171.0,239.5 172.1,240.4 173.3,240.6 174.4,240.1 175.5,239.2 176.7,238.0 177.8,236.5 178.9,234.9 180.1,233.8 181.2,233.5 182.4,233.9 183.5,234.3 184.6,234.4 185.8,234.0 186.9,233.5 188.0,233.6 189.2,234.3 190.3,234.9 191.5,234.5 192.6,232.7 193.7,230.3 194.9,228.6 196.0,228.5 197.1,229.8"/>
<path class="cv" stroke="#f0c850" d="M8.4,180.6 9.5,180.5 10.7,179.4 11.8,177.9 12.9,177.2 14.1,177.6 15.2,179.0 16.4,180.5 17.5,181.2 18.6,180.6 19.8,179.2 20.9,177.9 22.0,177.4 23.2,177.7 24.3,178.5 25.5,179.1 26.6,179.2 27.7,178.8 28.9,178.3 30.0,178.1 31.1,177.9 32.3,177.6 33.4,176.9 34.6,176.0 35.7,175.2 36.8,175.2 38.0,175.9 39.1,176.9 40.2,177.6 41.4,177.4 42.5,176.2 43.6,174.8 44.8,174.0 45.9,174.1 47.1,175.0 48.2,176.1 49.3,176.6 50.5,176.2 51.6,175.4 52.7,174.6 53.9,174.3 55.0,174.4 56.2,174.4 57.3,173.9 58.4,173.0 59.6,172.1 60.7,171.4 61.8,171.0 63.0,170.9 64.1,171.0 65.2,171.4 66.4,171.5 67.5,171.6 68.7,172.2 69.8,173.9 70.9,176.7 72.1,180.3 73.2,185.6 74.3,193.3 75.5,201.5 76.6,208.5 77.8,215.6 78.9,220.6 80.0,221.7 81.2,220.9 82.3,219.2 83.4,217.8 84.6,217.4 85.7,217.4 86.9,217.5 88.0,217.2 89.1,216.2 90.3,214.6 91.4,213.2 92.5,212.8 93.7,213.5 94.8,214.9 95.9,216.1 97.1,216.1 98.2,214.8 99.4,212.7 100.5,211.1 101.6,210.8 102.8,211.6 103.9,212.9 105.0,213.6 106.2,213.3 107.3,212.3 108.5,211.7 109.6,212.1 110.7,213.6 111.9,215.2 113.0,216.2 114.1,216.0 115.3,214.8 116.4,213.8 117.6,213.8 118.7,215.1 119.8,217.1 121.0,218.7 122.1,219.0 123.2,218.1 124.4,216.7 125.5,215.8 126.6,216.2 127.8,217.7 128.9,219.9 130.1,221.7 131.2,222.9 132.3,223.2 133.5,223.2 134.6,223.3 135.7,223.6 136.9,224.3 138.0,225.2 139.2,226.4 140.3,227.8 141.4,229.1 142.6,230.3 143.7,230.9 144.8,230.9 146.0,230.5 147.1,230.4 148.3,230.9 149.4,232.1 150.5,233.5 151.7,234.5 152.8,234.7 153.9,234.2 155.1,233.6 156.2,233.6 157.3,234.5 158.5,235.6 159.6,236.3 160.8,235.9 161.9,234.5 163.0,233.2 164.2,232.9 165.3,233.9 166.4,235.9 167.6,237.4 168.7,237.4 169.9,235.6 171.0,233.0 172.1,231.0 173.3,230.8 174.4,232.3 175.5,234.6 176.7,236.1 177.8,235.6 178.9,233.4 180.1,230.6 181.2,228.7 182.4,228.5 183.5,229.6 184.6,231.1 185.8,231.8 186.9,231.2 188.0,229.8 189.2,228.5 190.3,228.1 191.5,228.6 192.6,229.3 193.7,229.7 194.9,229.3 196.0,228.4 197.1,227.6"/>
<path class="cv" stroke="#ee9a10" d="M8.4,176.8 9.5,176.8 10.7,177.7 11.8,178.9 12.9,179.9 14.1,180.4 15.2,180.2 16.4,179.7 17.5,179.2 18.6,179.1 19.8,179.3 20.9,179.5 22.0,179.4 23.2,178.9 24.3,178.1 25.5,177.3 26.6,177.0 27.7,177.4 28.9,178.2 30.0,179.0 31.1,179.4 32.3,178.9 33.4,177.6 34.6,176.1 35.7,174.9 36.8,174.5 38.0,175.0 39.1,175.9 40.2,176.8 41.4,177.2 42.5,176.9 43.6,176.2 44.8,175.5 45.9,175.0 47.1,175.0 48.2,175.2 49.3,175.4 50.5,175.2 51.6,174.7 52.7,174.1 53.9,173.7 55.0,173.9 56.2,174.4 57.3,174.9 58.4,174.9 59.6,174.3 60.7,173.0 61.8,171.4 63.0,169.8 64.1,168.9 65.2,169.0 66.4,170.2 67.5,172.1 68.7,174.1 69.8,176.1 70.9,178.2 72.1,180.7 73.2,183.7 74.3,188.4 75.5,195.3 76.6,202.6 77.8,209.0 78.9,214.7 80.0,215.8 81.2,215.3 82.3,214.6 83.4,214.5 84.6,215.2 85.7,215.9 86.9,216.2 88.0,215.8 89.1,214.7 90.3,213.5 91.4,212.5 92.5,212.0 93.7,212.1 94.8,212.5 95.9,213.0 97.1,213.1 98.2,213.0 99.4,212.7 100.5,212.6 101.6,212.8 102.8,213.2 103.9,213.4 105.0,213.1 106.2,212.1 107.3,210.7 108.5,209.4 109.6,208.8 110.7,209.1 111.9,210.4 113.0,212.1 114.1,213.5 115.3,214.1 116.4,213.9 117.6,213.2 118.7,212.5 119.8,212.2 121.0,212.6 122.1,213.5 123.2,214.4 124.4,215.0 125.5,215.3 126.6,215.5 127.8,215.8 128.9,216.5 130.1,217.7 131.2,219.0 132.3,220.1 133.5,220.6 134.6,220.6 135.7,220.6 136.9,220.9 138.0,222.0 139.2,224.0 140.3,226.4 141.4,228.6 142.6,230.0 143.7,230.4 144.8,229.9 146.0,229.1 147.1,228.6 148.3,228.7 149.4,229.3 150.5,230.3 151.7,231.2 152.8,231.9 153.9,232.3 155.1,232.8 156.2,233.6 157.3,234.7 158.5,235.7 159.6,236.2 160.8,236.0 161.9,234.9 163.0,233.4 164.2,232.1 165.3,231.7 166.4,232.4 167.6,233.9 168.7,235.8 169.9,237.2 171.0,237.7 172.1,237.2 173.3,236.0 174.4,234.6 175.5,233.4 176.7,232.4 177.8,231.7 178.9,231.0 180.1,230.1 181.2,229.2 182.4,228.6 183.5,228.6 184.6,229.2 185.8,230.1 186.9,230.8 188.0,230.8 189.2,229.9 190.3,228.1 191.5,226.0 192.6,224.3 193.7,223.6 194.9,223.9 196.0,224.7 197.1,225.6"/>
<path class="ax" d="M8.4,178.4H197.9"/>
<path class="ax" d="M46.3,156.8V257.2"/>
<path class="ax" d="M8.4,178.4V180.8"/>
<text class="tk" x="8.4" y="188.1" text-anchor="middle">-200</text>
<path class="ax" d="M84.2,178.4V180.8"/>
<text class="tk" x="84.2" y="188.1" text-anchor="middle">200</text>
<path class="ax" d="M122.1,178.4V180.8"/>
<text class="tk" x="122.1" y="188.1" text-anchor="middle">400</text>
<path class="ax" d="M160.0,178.4V180.8"/>
<text class="tk" x="160.0" y="188.1" text-anchor="middle">600</text>
<path class="ax" d="M197.9,178.4V180.8"/>
<text class="tk" x="197.9" y="188.1" text-anchor="middle">800</text>
<path class="ax" d="M44.5,160.5H46.3"/>
<text class="ty" transform="translate(44.0,163.3) scale(0.89,1)" text-anchor="end">-2.5</text>
<path class="ax" d="M44.5,196.3H46.3"/>
<text class="ty" transform="translate(44.0,199.1) scale(0.89,1)" text-anchor="end">2.5</text>
<path class="ax" d="M44.5,214.2H46.3"/>
<text class="ty" transform="translate(44.0,217.0) scale(0.89,1)" text-anchor="end">5</text>
<path class="ax" d="M44.5,232.1H46.3"/>
<text class="ty" transform="translate(44.0,234.9) scale(0.89,1)" text-anchor="end">7.5</text>
<path class="ax" d="M44.5,250.0H46.3"/>
<text class="ty" transform="translate(44.0,252.8) scale(0.89,1)" text-anchor="end">10</text>
<text class="t" x="47.9" y="159.3">FC1</text>
<text class="xl" x="202.1" y="173.9" text-anchor="end">latency (ms)</text>
<text class="yl" transform="translate(31.2,230.6) rotate(-90)" text-anchor="middle">Amplitude(uV)</text></g>
<g><rect x="331.6" y="179.6" width="24.4" height="82.0" fill="#f0f0f0"/>
<rect x="377.4" y="179.6" width="37.5" height="82.0" fill="#f0f0f0"/>
<path class="cv" stroke="#5a91c6" d="M226.4,180.4 227.5,181.1 228.7,180.6 229.8,179.3 230.9,177.9 232.1,177.2 233.2,177.5 234.4,178.1 235.5,178.5 236.6,178.8 237.8,179.5 238.9,180.4 240.0,181.2 241.2,181.0 242.3,179.7 243.5,178.0 244.6,176.9 245.7,176.8 246.9,177.3 248.0,177.6 249.1,177.3 250.3,176.7 251.4,176.6 252.6,177.0 253.7,177.5 254.8,177.4 256.0,176.8 257.1,176.2 258.2,176.2 259.4,176.5 260.5,176.4 261.6,175.5 262.8,174.1 263.9,173.2 265.1,173.4 266.2,174.7 267.3,176.1 268.5,176.9 269.6,176.9 270.7,176.5 271.9,176.2 273.0,175.5 274.2,174.3 275.3,172.6 276.4,171.2 277.6,170.8 278.7,171.2 279.8,171.7 281.0,171.8 282.1,171.4 283.2,171.1 284.4,171.5 285.5,172.6 286.7,174.0 287.8,175.7 288.9,177.7 290.1,180.8 291.2,187.0 292.3,197.2 293.5,206.4 294.6,211.9 295.8,215.6 296.9,218.3 298.0,219.9 299.2,220.2 300.3,219.2 301.4,217.3 302.6,214.2 303.7,210.8 304.9,207.8 306.0,205.8 307.1,204.2 308.3,202.9 309.4,202.5 310.5,203.5 311.7,206.0 312.8,208.9 313.9,210.8 315.1,211.5 316.2,211.7 317.4,212.2 318.5,213.3 319.6,214.5 320.8,215.0 321.9,215.0 323.0,214.9 324.2,215.5 325.3,216.6 326.5,217.7 327.6,218.4 328.7,219.0 329.9,219.9 331.0,221.4 332.1,222.7 333.3,222.9 334.4,221.6 335.6,219.3 336.7,217.2 337.8,216.2 339.0,216.4 340.1,217.1 341.2,217.7 342.4,218.2 343.5,218.9 344.6,219.7 345.8,220.2 346.9,219.8 348.1,218.6 349.2,217.6 350.3,217.7 351.5,218.9 352.6,220.6 353.7,221.9 354.9,222.6 356.0,223.4 357.2,224.8 358.3,226.7 359.4,228.5 360.6,229.6 361.7,230.0 362.8,230.4 364.0,231.1 365.1,231.8 366.3,231.8 367.4,231.2 368.5,230.5 369.7,230.7 370.8,232.2 371.9,234.4 373.1,236.2 374.2,236.9 375.3,236.9 376.5,236.5 377.6,236.2 378.8,235.7 379.9,234.8 381.0,233.6 382.2,233.0 383.3,233.6 384.4,235.2 385.6,236.8 386.7,237.6 387.9,237.5 389.0,237.0 390.1,236.9 391.3,237.1 392.4,237.0 393.5,236.0 394.7,234.4 395.8,232.9 397.0,232.0 398.1,231.6 399.2,231.2 400.4,230.5 401.5,229.9 402.6,230.2 403.8,231.3 404.9,232.3 406.0,232.2 407.2,230.7 408.3,228.3 409.5,226.0 410.6,224.2 411.7,222.7 412.9,221.2 414.0,219.7 415.1,218.7"/>
<path class="cv" stroke="#008c1e" d="M226.4,181.8 227.5,182.2 228.7,182.1 229.8,181.3 230.9,179.9 232.1,178.6 233.2,177.9 234.4,178.1 235.5,179.0 236.6,180.1 237.8,181.1 238.9,181.8 240.0,182.6 241.2,183.7 242.3,185.5 243.5,185.7 244.6,183.2 245.7,179.8 246.9,176.0 248.0,173.8 249.1,173.7 250.3,174.1 251.4,173.7 252.6,172.5 253.7,171.9 254.8,173.2 256.0,174.9 257.1,175.1 258.2,174.2 259.4,173.2 260.5,173.1 261.6,174.0 262.8,175.5 263.9,176.9 265.1,178.5 266.2,180.5 267.3,180.8 268.5,180.9 269.6,181.2 270.7,181.4 271.9,180.6 273.0,178.8 274.2,179.5 275.3,181.7 276.4,182.9 277.6,181.2 278.7,178.5 279.8,175.6 281.0,172.6 282.1,170.4 283.2,169.4 284.4,169.4 285.5,170.0 286.7,171.4 287.8,173.6 288.9,176.6 290.1,180.5 291.2,184.7 292.3,189.4 293.5,196.9 294.6,205.3 295.8,212.7 296.9,219.8 298.0,224.4 299.2,225.7 300.3,224.9 301.4,223.0 302.6,221.4 303.7,220.2 304.9,219.0 306.0,217.8 307.1,216.6 308.3,215.6 309.4,215.4 310.5,216.0 311.7,217.0 312.8,217.6 313.9,217.3 315.1,216.1 316.2,215.0 317.4,214.5 318.5,214.7 319.6,215.0 320.8,214.9 321.9,214.3 323.0,213.6 324.2,213.1 325.3,212.9 326.5,212.5 327.6,211.6 328.7,210.6 329.9,210.2 331.0,210.7 332.1,212.1 333.3,213.6 334.4,214.5 335.6,214.5 336.7,214.0 337.8,213.7 339.0,213.9 340.1,214.2 341.2,214.3 342.4,214.2 343.5,214.3 344.6,215.1 345.8,216.8 346.9,218.6 348.1,220.0 349.2,220.6 350.3,220.8 351.5,221.1 352.6,222.0 353.7,223.0 354.9,223.7 356.0,223.8 357.2,223.6 358.3,223.9 359.4,225.0 360.6,226.7 361.7,228.4 362.8,229.4 364.0,230.0 365.1,230.5 366.3,231.3 367.4,232.2 368.5,232.7 369.7,232.4 370.8,231.5 371.9,230.9 373.1,231.0 374.2,232.0 375.3,233.1 376.5,233.6 377.6,233.3 378.8,232.7 379.9,232.3 381.0,231.9 382.2,231.4 383.3,230.3 384.4,228.7 385.6,227.2 386.7,226.4 387.9,226.5 389.0,226.8 390.1,226.5 391.3,225.4 392.4,224.1 393.5,223.1 394.7,222.9 395.8,223.3 397.0,223.5 398.1,223.3 399.2,222.7 400.4,222.1 401.5,221.7 402.6,221.1 403.8,219.9 404.9,218.1 406.0,216.1 407.2,214.9 408.3,215.0 409.5,216.0 410.6,217.2 411.7,217.7 412.9,217.2 414.0,216.2 415.1,215.0"/>
<path class="cv" stroke="#005a14" d="M226.4,178.1 227.5,178.5 228.7,179.2 229.8,180.1 230.9,180.8 232.1,181.2 233.2,181.1 234.4,180.6 235.5,179.8 236.6,178.8 237.8,178.0 238.9,177.5 240.0,177.4 241.2,177.6 242.3,178.1 243.5,178.7 244.6,179.1 245.7,179.2 246.9,179.0 248.0,178.5 249.1,177.8 250.3,177.1 251.4,176.5 252.6,176.0 253.7,175.7 254.8,175.5 256.0,175.4 257.1,175.2 258.2,175.0 259.4,174.9 260.5,174.7 261.6,174.7 262.8,174.7 263.9,174.6 265.1,174.1 266.2,173.3 267.3,172.3 268.5,171.4 269.6,171.2 270.7,171.9 271.9,173.0 273.0,173.5 274.2,173.5 275.3,173.2 276.4,172.9 277.6,172.6 278.7,172.1 279.8,171.1 281.0,169.9 282.1,168.7 283.2,167.7 284.4,167.4 285.5,167.8 286.7,169.1 287.8,171.5 288.9,174.6 290.1,178.3 291.2,182.4 292.3,186.9 293.5,193.3 294.6,200.6 295.8,207.2 296.9,213.4 298.0,218.7 299.2,221.0 300.3,221.5 301.4,221.1 302.6,220.5 303.7,220.1 304.9,219.4 306.0,218.4 307.1,217.4 308.3,216.4 309.4,215.7 310.5,215.3 311.7,215.1 312.8,215.0 313.9,214.9 315.1,214.6 316.2,214.1 317.4,213.6 318.5,213.0 319.6,212.5 320.8,212.3 321.9,212.1 323.0,211.9 324.2,211.6 325.3,211.2 326.5,210.8 327.6,210.4 328.7,210.2 329.9,210.2 331.0,210.5 332.1,211.0 333.3,211.5 334.4,212.1 335.6,212.5 336.7,212.6 337.8,212.3 339.0,211.7 340.1,210.8 341.2,209.7 342.4,208.9 343.5,208.5 344.6,208.6 345.8,209.3 346.9,210.2 348.1,211.4 349.2,212.4 350.3,213.2 351.5,213.8 352.6,214.2 353.7,214.7 354.9,215.3 356.0,216.2 357.2,217.4 358.3,218.8 359.4,220.3 360.6,221.6 361.7,222.6 362.8,223.3 364.0,223.8 365.1,224.3 366.3,224.9 367.4,225.8 368.5,226.9 369.7,228.2 370.8,229.4 371.9,230.4 373.1,231.1 374.2,231.2 375.3,231.0 376.5,230.6 377.6,230.2 378.8,229.8 379.9,229.5 381.0,229.3 382.2,229.2 383.3,229.2 384.4,229.0 385.6,228.6 386.7,228.0 387.9,227.4 389.0,226.6 390.1,225.8 391.3,225.0 392.4,224.2 393.5,223.4 394.7,222.5 395.8,221.5 397.0,220.5 398.1,219.5 399.2,218.7 400.4,218.3 401.5,218.2 402.6,218.5 403.8,218.9 404.9,219.2 406.0,219.2 407.2,218.6 408.3,217.4 409.5,215.7 410.6,213.8 411.7,212.0 412.9,210.6 414.0,209.9 415.1,209.9"/>
<path class="cv" stroke="#889f05" d="M226.4,182.2 227.5,182.1 228.7,181.1 229.8,179.6 230.9,178.1 232.1,177.1 233.2,176.9 234.4,177.4 235.5,178.4 236.6,179.3 237.8,179.8 238.9,179.8 240.0,179.4 241.2,178.9 242.3,178.5 243.5,178.5 244.6,178.9 245.7,179.4 246.9,179.6 248.0,179.2 249.1,178.1 250.3,176.7 251.4,175.1 252.6,174.1 253.7,173.8 254.8,174.5 256.0,175.9 257.1,177.5 258.2,178.6 259.4,179.0 260.5,178.4 261.6,177.0 262.8,175.3 263.9,173.8 265.1,173.0 266.2,173.0 267.3,173.7 268.5,174.7 269.6,175.6 270.7,176.1 271.9,176.0 273.0,175.3 274.2,174.5 275.3,173.8 276.4,173.3 277.6,173.0 278.7,172.6 279.8,171.8 281.0,170.8 282.1,169.8 283.2,169.0 284.4,169.0 285.5,169.9 286.7,171.7 287.8,174.4 288.9,178.1 290.1,182.6 291.2,188.7 292.3,196.9 293.5,205.2 294.6,211.7 295.8,217.5 296.9,221.7 298.0,222.9 299.2,222.9 300.3,222.2 301.4,221.0 302.6,219.7 303.7,217.5 304.9,214.5 306.0,211.2 307.1,208.3 308.3,206.6 309.4,206.9 310.5,209.2 311.7,211.8 312.8,213.3 313.9,213.5 315.1,213.3 316.2,212.9 317.4,212.7 318.5,212.8 319.6,213.4 320.8,214.3 321.9,215.2 323.0,215.8 324.2,215.9 325.3,215.5 326.5,214.8 327.6,214.0 328.7,213.5 329.9,213.4 331.0,213.9 332.1,214.7 333.3,215.7 334.4,216.8 335.6,217.8 336.7,218.5 337.8,219.1 339.0,219.4 340.1,219.7 341.2,220.0 342.4,220.1 343.5,220.3 344.6,220.5 345.8,220.8 346.9,221.2 348.1,221.9 349.2,222.9 350.3,224.2 351.5,225.7 352.6,227.1 353.7,228.3 354.9,229.1 356.0,229.6 357.2,229.8 358.3,229.9 359.4,230.0 360.6,230.4 361.7,231.0 362.8,231.8 364.0,232.7 365.1,233.6 366.3,234.4 367.4,235.1 368.5,235.7 369.7,236.3 370.8,236.9 371.9,237.4 373.1,237.9 374.2,238.2 375.3,238.4 376.5,238.5 377.6,238.6 378.8,238.8 379.9,239.0 381.0,239.4 382.2,240.0 383.3,240.7 384.4,241.1 385.6,241.2 386.7,240.7 387.9,239.9 389.0,238.8 390.1,237.9 391.3,237.2 392.4,236.8 393.5,236.8 394.7,236.9 395.8,236.8 397.0,236.5 398.1,236.0 399.2,235.3 400.4,234.6 401.5,234.1 402.6,234.0 403.8,234.1 404.9,234.3 406.0,234.2 407.2,233.8 408.3,232.8 409.5,231.7 410.6,230.5 411.7,229.7 412.9,229.3 414.0,229.6 415.1,230.1"/>
<path class="cv" stroke="#f0c850" d="M226.4,178.5 227.5,177.9 228.7,177.7 229.8,178.1 230.9,178.9 232.1,179.7 233.2,180.2 234.4,180.2 235.5,179.9 236.6,179.5 237.8,179.3 238.9,179.4 240.0,179.5 241.2,179.3 242.3,178.6 243.5,177.6 244.6,176.7 245.7,176.3 246.9,176.6 248.0,177.5 249.1,178.5 250.3,179.2 251.4,179.2 252.6,178.4 253.7,177.2 254.8,176.0 256.0,175.4 257.1,175.2 258.2,175.2 259.4,175.3 260.5,175.1 261.6,174.9 262.8,174.8 263.9,175.0 265.1,175.6 266.2,176.4 267.3,176.8 268.5,176.7 269.6,175.9 270.7,175.0 271.9,174.1 273.0,173.7 274.2,173.7 275.3,173.8 276.4,173.6 277.6,173.0 278.7,171.8 279.8,170.5 281.0,169.4 282.1,169.3 283.2,170.2 284.4,171.6 285.5,173.1 286.7,174.4 287.8,175.8 288.9,177.5 290.1,180.1 291.2,184.6 292.3,192.2 293.5,200.7 294.6,208.0 295.8,214.9 296.9,219.6 298.0,220.8 299.2,220.8 300.3,220.2 301.4,219.7 302.6,219.4 303.7,218.4 304.9,216.9 306.0,214.9 307.1,213.1 308.3,211.9 309.4,211.5 310.5,211.8 311.7,212.3 312.8,212.6 313.9,212.7 315.1,212.3 316.2,211.8 317.4,211.5 318.5,211.1 319.6,210.8 320.8,210.1 321.9,209.3 323.0,208.5 324.2,208.1 325.3,208.4 326.5,209.3 327.6,210.5 328.7,211.5 329.9,212.0 331.0,211.8 332.1,211.3 333.3,211.0 334.4,211.3 335.6,212.3 336.7,213.7 337.8,214.9 339.0,215.5 340.1,215.4 341.2,214.7 342.4,214.0 343.5,213.6 344.6,213.8 345.8,214.5 346.9,215.6 348.1,216.9 349.2,218.2 350.3,219.9 351.5,221.7 352.6,223.8 353.7,225.6 354.9,226.8 356.0,227.2 357.2,226.7 358.3,225.9 359.4,225.4 360.6,225.8 361.7,227.2 362.8,229.3 364.0,231.5 365.1,233.2 366.3,234.2 367.4,234.4 368.5,234.2 369.7,233.9 370.8,233.9 371.9,233.9 373.1,233.9 374.2,233.8 375.3,233.5 376.5,233.4 377.6,233.6 378.8,234.2 379.9,234.9 381.0,235.4 382.2,235.3 383.3,234.6 384.4,233.5 385.6,232.7 386.7,232.5 387.9,233.1 389.0,234.0 390.1,234.9 391.3,235.1 392.4,234.4 393.5,233.0 394.7,231.4 395.8,230.1 397.0,229.5 398.1,229.6 399.2,230.1 400.4,230.6 401.5,231.0 402.6,231.2 403.8,231.3 404.9,231.4 406.0,231.3 407.2,230.8 408.3,229.6 409.5,228.0 410.6,226.2 411.7,224.8 412.9,224.4 414.0,225.1 415.1,226.6"/>
<path class="cv" stroke="#ee9a10" d="M226.4,179.3 227.5,178.8 228.7,178.0 229.8,178.0 230.9,179.4 232.1,181.0 233.2,181.2 234.4,180.0 235.5,178.4 236.6,177.8 237.8,178.2 238.9,178.7 240.0,178.7 241.2,178.7 242.3,179.3 243.5,179.9 244.6,179.5 245.7,177.9 246.9,176.2 248.0,176.1 249.1,177.6 250.3,179.0 251.4,179.1 252.6,177.8 253.7,176.3 254.8,175.6 256.0,175.2 257.1,174.6 258.2,174.1 259.4,174.7 260.5,176.5 261.6,178.0 262.8,178.0 263.9,176.4 265.1,174.8 266.2,174.4 267.3,174.9 268.5,175.3 269.6,174.7 270.7,173.9 271.9,173.9 273.0,174.5 274.2,174.7 275.3,174.0 276.4,173.3 277.6,173.2 278.7,173.3 279.8,172.7 281.0,171.1 282.1,169.3 283.2,168.7 284.4,169.9 285.5,172.2 286.7,174.4 287.8,176.3 288.9,178.3 290.1,180.9 291.2,183.9 292.3,187.8 293.5,193.7 294.6,200.8 295.8,208.0 296.9,214.6 298.0,216.7 299.2,216.1 300.3,214.4 301.4,213.2 302.6,213.1 303.7,213.1 304.9,212.7 306.0,212.2 307.1,212.1 308.3,212.3 309.4,212.1 310.5,211.0 311.7,209.6 312.8,209.2 313.9,210.0 315.1,211.0 316.2,211.0 317.4,209.9 318.5,208.9 319.6,208.8 320.8,209.4 321.9,209.4 323.0,208.7 324.2,208.1 325.3,208.2 326.5,208.2 327.6,207.5 328.7,206.1 329.9,205.4 331.0,206.5 332.1,208.9 333.3,210.7 334.4,210.7 335.6,209.4 336.7,208.3 337.8,207.9 339.0,207.8 340.1,207.8 341.2,208.2 342.4,209.9 343.5,212.6 344.6,214.7 345.8,215.0 346.9,214.1 348.1,213.5 349.2,214.4 350.3,216.3 351.5,217.7 352.6,218.4 353.7,219.2 354.9,220.8 356.0,222.8 357.2,224.2 358.3,224.8 359.4,225.6 360.6,227.3 361.7,229.2 362.8,230.0 364.0,229.2 365.1,228.1 366.3,228.3 367.4,230.0 368.5,232.0 369.7,233.0 370.8,233.1 371.9,233.0 373.1,233.3 374.2,233.4 375.3,232.8 376.5,232.1 377.6,232.6 378.8,234.5 379.9,236.4 381.0,236.7 382.2,235.3 383.3,233.7 384.4,233.3 385.6,234.0 386.7,234.8 387.9,235.1 389.0,235.3 390.1,235.9 391.3,236.4 392.4,235.7 393.5,233.7 394.7,231.7 395.8,231.2 397.0,232.0 398.1,232.9 399.2,232.7 400.4,231.6 401.5,230.8 402.6,230.9 403.8,231.1 404.9,230.5 406.0,229.1 407.2,227.9 408.3,227.4 409.5,226.9 410.6,225.6 411.7,223.9 412.9,223.2 414.0,224.3 415.1,226.0"/>
<path class="ax" d="M226.4,178.4H415.9"/>
<path class="ax" d="M264.3,156.8V257.2"/>
<path class="ax" d="M226.4,178.4V180.8"/>
<text class="tk" x="226.4" y="188.1" text-anchor="middle">-200</text>
<path class="ax" d="M302.2,178.4V180.8"/>
<text class="tk" x="302.2" y="188.1" text-anchor="middle">200</text>
<path class="ax" d="M340.1,178.4V180.8"/>
<text class="tk" x="340.1" y="188.1" text-anchor="middle">400</text>
<path class="ax" d="M378.0,178.4V180.8"/>
<text class="tk" x="378.0" y="188.1" text-anchor="middle">600</text>
<path class="ax" d="M415.9,178.4V180.8"/>
<text class="tk" x="415.9" y="188.1" text-anchor="middle">800</text>
<path class="ax" d="M262.5,160.5H264.3"/>
<text class="ty" transform="translate(262.0,163.3) scale(0.89,1)" text-anchor="end">-2.5</text>
<path class="ax" d="M262.5,196.3H264.3"/>
<text class="ty" transform="translate(262.0,199.1) scale(0.89,1)" text-anchor="end">2.5</text>
<path class="ax" d="M262.5,214.2H264.3"/>
<text class="ty" transform="translate(262.0,217.0) scale(0.89,1)" text-anchor="end">5</text>
<path class="ax" d="M262.5,232.1H264.3"/>
<text class="ty" transform="translate(262.0,234.9) scale(0.89,1)" text-anchor="end">7.5</text>
<path class="ax" d="M262.5,250.0H264.3"/>
<text class="ty" transform="translate(262.0,252.8) scale(0.89,1)" text-anchor="end">10</text>
<text class="t" x="265.9" y="159.3">FCz</text>
<text class="xl" x="420.1" y="173.9" text-anchor="end">latency (ms)</text>
<text class="yl" transform="translate(249.2,230.6) rotate(-90)" text-anchor="middle">Amplitude(uV)</text></g>
<g><rect x="547.5" y="179.6" width="24.4" height="82.0" fill="#f0f0f0"/>
<rect x="593.3" y="179.6" width="37.5" height="82.0" fill="#f0f0f0"/>
<path class="cv" stroke="#5a91c6" d="M442.3,178.6 443.4,178.8 444.6,178.9 445.7,179.3 446.8,180.0 448.0,180.7 449.1,181.0 450.3,180.5 451.4,179.2 452.5,177.6 453.7,176.6 454.8,176.7 455.9,177.8 457.1,179.3 458.2,180.4 459.4,180.5 460.5,179.7 461.6,178.6 462.8,177.7 463.9,177.5 465.0,177.5 466.2,177.4 467.3,176.8 468.5,175.8 469.6,175.1 470.7,175.1 471.9,176.0 473.0,177.3 474.1,178.0 475.3,177.8 476.4,176.4 477.5,174.8 478.7,173.8 479.8,173.8 481.0,174.8 482.1,176.0 483.2,176.5 484.4,176.1 485.5,175.1 486.6,174.3 487.8,174.2 488.9,174.6 490.1,175.0 491.2,174.7 492.3,173.6 493.5,172.2 494.6,171.1 495.7,170.5 496.9,170.6 498.0,171.2 499.1,171.9 500.3,172.4 501.4,172.7 502.6,173.6 503.7,175.9 504.8,180.1 506.0,187.5 507.1,199.1 508.2,208.8 509.4,214.5 510.5,217.8 511.7,218.8 512.8,218.8 513.9,218.5 515.1,217.8 516.2,216.6 517.3,214.2 518.5,211.3 519.6,208.8 520.8,207.6 521.9,207.2 523.0,207.2 524.2,207.0 525.3,206.7 526.4,206.7 527.6,207.4 528.7,209.2 529.8,211.7 531.0,214.4 532.1,216.5 533.3,217.1 534.4,216.5 535.5,215.5 536.7,215.0 537.8,215.5 538.9,216.8 540.1,217.9 541.2,218.3 542.4,218.0 543.5,217.6 544.6,218.0 545.8,219.5 546.9,221.5 548.0,222.9 549.2,222.7 550.3,221.1 551.5,218.8 552.6,217.2 553.7,217.2 554.9,218.7 556.0,220.6 557.1,221.8 558.3,221.6 559.4,220.3 560.5,219.0 561.7,218.4 562.8,218.8 564.0,219.8 565.1,220.5 566.2,220.6 567.4,220.4 568.5,220.5 569.6,221.7 570.8,224.0 571.9,226.4 573.1,228.1 574.2,228.3 575.3,227.2 576.5,225.8 577.6,225.3 578.7,226.2 579.9,228.3 581.0,230.6 582.2,232.2 583.3,232.6 584.4,232.4 585.6,232.2 586.7,232.5 587.8,233.2 589.0,233.8 590.1,233.6 591.2,232.7 592.4,231.6 593.5,231.2 594.7,232.1 595.8,234.0 596.9,236.2 598.1,237.4 599.2,237.1 600.3,235.6 601.5,233.7 602.6,232.5 603.8,232.4 604.9,232.9 606.0,233.5 607.2,233.5 608.3,232.9 609.4,232.1 610.6,231.7 611.7,231.8 612.9,232.2 614.0,232.0 615.1,231.0 616.3,229.2 617.4,227.5 618.5,226.4 619.7,226.6 620.8,227.7 621.9,228.8 623.1,229.1 624.2,228.2 625.4,226.0 626.5,223.6 627.6,221.5 628.8,220.0 629.9,219.4 631.0,219.6"/>
<path class="cv" stroke="#008c1e" d="M442.3,181.2 443.4,180.5 444.6,179.9 445.7,179.5 446.8,179.1 448.0,179.0 449.1,179.1 450.3,179.6 451.4,180.6 452.5,181.6 453.7,182.2 454.8,182.0 455.9,181.6 457.1,181.6 458.2,183.1 459.4,183.9 460.5,182.8 461.6,180.9 462.8,177.8 463.9,175.4 465.0,174.6 466.2,174.3 467.3,173.5 468.5,172.0 469.6,171.2 470.7,172.3 471.9,174.1 473.0,174.9 474.1,174.9 475.3,174.5 476.4,174.3 477.5,174.4 478.7,174.7 479.8,175.4 481.0,177.1 482.1,179.8 483.2,181.0 484.4,181.8 485.5,182.4 486.6,182.6 487.8,181.8 488.9,179.6 490.1,179.4 491.2,180.5 492.3,180.8 493.5,179.0 494.6,177.1 495.7,175.4 496.9,173.5 498.0,171.6 499.1,170.4 500.3,170.1 501.4,171.1 502.6,173.2 503.7,176.1 504.8,179.7 506.0,183.9 507.1,189.4 508.2,197.7 509.4,206.6 510.5,213.5 511.7,218.5 512.8,221.1 513.9,221.2 515.1,220.1 516.2,218.8 517.3,218.2 518.5,217.6 519.6,217.0 520.8,216.5 521.9,216.4 523.0,216.8 524.2,217.6 525.3,218.1 526.4,217.9 527.6,217.2 528.7,216.4 529.8,216.1 531.0,216.5 532.1,217.1 533.3,217.4 534.4,217.0 535.5,216.2 536.7,215.4 537.8,214.9 538.9,214.6 540.1,214.1 541.2,213.0 542.4,211.8 543.5,211.2 544.6,211.8 545.8,213.4 546.9,215.3 548.0,216.4 549.2,216.3 550.3,215.4 551.5,214.5 552.6,214.4 553.7,215.1 554.9,215.9 556.0,216.3 557.1,216.1 558.3,215.8 559.4,216.3 560.5,217.6 561.7,219.2 562.8,220.2 564.0,220.1 565.1,219.4 566.2,219.2 567.4,220.0 568.5,221.9 569.6,223.9 570.8,224.9 571.9,224.7 573.1,223.7 574.2,223.2 575.3,223.7 576.5,225.0 577.6,226.3 578.7,226.9 579.9,226.9 581.0,227.1 582.2,228.1 583.3,230.0 584.4,231.7 585.6,232.2 586.7,231.0 587.8,229.0 589.0,227.3 590.1,227.0 591.2,227.9 592.4,229.1 593.5,229.5 594.7,228.9 595.8,227.7 596.9,227.1 598.1,227.3 599.2,227.8 600.3,227.6 601.5,226.1 602.6,224.0 603.8,222.4 604.9,222.2 606.0,223.2 607.2,224.4 608.3,224.5 609.4,223.0 610.6,220.7 611.7,219.1 612.9,219.0 614.0,219.8 615.1,220.6 616.3,220.3 617.4,218.9 618.5,217.3 619.7,216.6 620.8,216.8 621.9,217.3 623.1,216.9 624.2,215.2 625.4,213.0 626.5,211.7 627.6,212.2 628.8,214.0 629.9,215.9 631.0,216.7"/>
<path class="cv" stroke="#005a14" d="M442.3,179.8 443.4,179.0 444.6,178.3 445.7,178.4 446.8,179.3 448.0,180.2 449.1,180.5 450.3,179.9 451.4,179.3 452.5,179.2 453.7,179.4 454.8,179.3 455.9,178.6 457.1,177.8 458.2,177.6 459.4,178.3 460.5,179.1 461.6,179.2 462.8,178.4 463.9,177.4 465.0,176.9 466.2,177.1 467.3,177.2 468.5,176.8 469.6,176.1 470.7,175.6 471.9,175.7 473.0,176.0 474.1,175.6 475.3,174.6 476.4,173.5 477.5,173.2 478.7,174.0 479.8,174.9 481.0,174.9 482.1,173.9 483.2,172.6 484.4,171.9 485.5,172.0 486.6,172.5 487.8,172.6 488.9,172.1 490.1,171.8 491.2,172.3 492.3,173.2 493.5,173.6 494.6,172.9 495.7,171.4 496.9,170.0 498.0,169.0 499.1,168.3 500.3,167.7 501.4,167.8 502.6,169.7 503.7,173.5 504.8,178.4 506.0,183.3 507.1,188.1 508.2,193.9 509.4,200.6 510.5,207.2 511.7,212.8 512.8,216.8 513.9,218.0 515.1,217.8 516.2,217.4 517.3,217.3 518.5,217.0 519.6,215.7 520.8,213.8 521.9,212.7 523.0,213.0 524.2,214.4 525.3,215.8 526.4,216.5 527.6,216.7 528.7,216.7 529.8,216.7 531.0,216.1 532.1,214.5 533.3,212.5 534.4,211.3 535.5,211.5 536.7,212.6 537.8,213.3 538.9,212.8 540.1,211.7 541.2,211.1 542.4,211.4 543.5,212.1 544.6,212.1 545.8,211.4 546.9,211.0 548.0,211.6 549.2,212.9 550.3,213.9 551.5,213.8 552.6,212.9 553.7,212.4 554.9,212.7 556.0,213.1 557.1,212.5 558.3,210.8 559.4,208.9 560.5,208.1 561.7,208.5 562.8,209.2 564.0,209.4 565.1,209.1 566.2,209.3 567.4,210.5 568.5,212.1 569.6,212.8 570.8,212.3 571.9,211.3 573.1,211.3 574.2,212.7 575.3,214.7 576.5,216.1 577.6,216.7 578.7,217.2 579.9,218.4 581.0,220.2 582.2,221.4 583.3,221.5 584.4,220.9 585.6,221.0 586.7,222.3 587.8,224.1 589.0,225.2 590.1,225.1 591.2,224.7 592.4,225.0 593.5,225.9 594.7,226.6 595.8,226.4 596.9,225.8 598.1,225.4 599.2,226.0 600.3,226.8 601.5,226.5 602.6,224.5 603.8,221.5 604.9,219.3 606.0,218.5 607.2,218.8 608.3,219.0 609.4,219.0 610.6,219.0 611.7,219.8 612.9,220.7 614.0,220.6 615.1,218.8 616.3,216.1 617.4,214.1 618.5,213.6 619.7,214.4 620.8,215.1 621.9,215.1 623.1,214.7 624.2,214.7 625.4,215.2 626.5,215.2 627.6,213.9 628.8,211.9 629.9,210.4 631.0,210.6"/>
<path class="cv" stroke="#889f05" d="M442.3,177.9 443.4,179.4 444.6,180.7 445.7,181.2 446.8,180.7 448.0,179.6 449.1,178.4 450.3,177.9 451.4,178.1 452.5,178.9 453.7,179.7 454.8,179.9 455.9,179.5 457.1,178.6 458.2,177.8 459.4,177.5 460.5,177.9 461.6,178.6 462.8,179.1 463.9,179.1 465.0,178.4 466.2,177.5 467.3,176.6 468.5,176.1 469.6,176.0 470.7,176.1 471.9,176.0 473.0,175.7 474.1,175.4 475.3,175.2 476.4,175.6 477.5,176.3 478.7,177.0 479.8,177.3 481.0,176.7 482.1,175.4 483.2,174.0 484.4,173.0 485.5,173.1 486.6,174.1 487.8,175.4 488.9,176.3 490.1,176.1 491.2,174.9 492.3,173.3 493.5,172.0 494.6,171.0 495.7,170.4 496.9,170.1 498.0,170.1 499.1,170.4 500.3,171.0 501.4,171.9 502.6,173.3 503.7,175.5 504.8,178.7 506.0,183.2 507.1,191.5 508.2,202.1 509.4,210.0 510.5,215.6 511.7,219.6 512.8,221.7 513.9,222.4 515.1,221.8 516.2,220.1 517.3,217.6 518.5,214.2 519.6,210.6 520.8,207.7 521.9,205.8 523.0,205.2 524.2,206.2 525.3,208.5 526.4,210.7 527.6,211.9 528.7,212.1 529.8,212.6 531.0,213.4 532.1,214.5 533.3,215.3 534.4,215.7 535.5,215.5 536.7,215.1 537.8,214.8 538.9,214.9 540.1,215.2 541.2,215.5 542.4,215.5 543.5,215.2 544.6,214.8 545.8,214.6 546.9,214.9 548.0,215.6 549.2,216.4 550.3,216.8 551.5,216.7 552.6,216.2 553.7,215.9 554.9,216.3 556.0,217.6 557.1,219.4 558.3,221.1 559.4,222.2 560.5,222.2 561.7,221.4 562.8,220.6 564.0,220.5 565.1,221.5 566.2,223.3 567.4,225.6 568.5,227.5 569.6,228.7 570.8,229.0 571.9,228.9 573.1,228.7 574.2,228.8 575.3,229.1 576.5,229.5 577.6,229.9 578.7,230.2 579.9,230.8 581.0,231.8 582.2,233.2 583.3,234.8 584.4,236.0 585.6,236.3 586.7,235.7 587.8,234.5 589.0,233.5 590.1,233.2 591.2,234.0 592.4,235.7 593.5,237.4 594.7,238.6 595.8,238.9 596.9,238.3 598.1,237.5 599.2,236.9 600.3,236.8 601.5,237.1 602.6,237.5 603.8,237.4 604.9,236.8 606.0,235.8 607.2,235.0 608.3,234.7 609.4,235.0 610.6,235.6 611.7,236.0 612.9,235.9 614.0,235.2 615.1,234.2 616.3,233.2 617.4,232.4 618.5,232.0 619.7,231.5 620.8,230.9 621.9,230.1 623.1,229.2 624.2,228.9 625.4,229.2 626.5,230.1 627.6,231.2 628.8,231.6 629.9,230.9 631.0,229.5"/>
<path class="cv" stroke="#f0c850" d="M442.3,178.5 443.4,178.6 444.6,178.9 445.7,179.3 446.8,179.5 448.0,179.5 449.1,179.2 450.3,178.8 451.4,178.4 452.5,178.3 453.7,178.5 454.8,179.0 455.9,179.6 457.1,180.1 458.2,180.1 459.4,179.7 460.5,178.9 461.6,177.8 462.8,176.8 463.9,176.2 465.0,176.0 466.2,176.3 467.3,176.9 468.5,177.5 469.6,177.9 470.7,177.9 471.9,177.4 473.0,176.5 474.1,175.7 475.3,175.0 476.4,174.6 477.5,174.7 478.7,175.1 479.8,175.5 481.0,175.8 482.1,175.9 483.2,175.7 484.4,175.3 485.5,175.0 486.6,174.7 487.8,174.7 488.9,174.7 490.1,174.7 491.2,174.4 492.3,173.8 493.5,173.0 494.6,171.8 495.7,170.4 496.9,169.3 498.0,169.1 499.1,170.1 500.3,171.5 501.4,173.2 502.6,175.3 503.7,177.8 504.8,180.7 506.0,184.9 507.1,191.9 508.2,199.8 509.4,206.7 510.5,213.2 511.7,218.1 512.8,219.7 513.9,219.5 515.1,218.5 516.2,217.3 517.3,216.5 518.5,215.4 519.6,214.3 520.8,213.3 521.9,212.6 523.0,212.2 524.2,212.0 525.3,212.1 526.4,212.1 527.6,212.0 528.7,211.6 529.8,211.0 531.0,210.6 532.1,210.4 533.3,210.7 534.4,211.2 535.5,211.9 536.7,212.4 537.8,212.6 538.9,212.3 540.1,211.8 541.2,211.1 542.4,210.6 543.5,210.6 544.6,211.1 545.8,212.1 546.9,213.4 548.0,214.6 549.2,215.6 550.3,216.1 551.5,216.1 552.6,215.9 553.7,215.5 554.9,215.3 556.0,215.4 557.1,215.8 558.3,216.3 559.4,216.9 560.5,217.4 561.7,217.8 562.8,218.1 564.0,218.5 565.1,219.1 566.2,220.1 567.4,221.3 568.5,222.8 569.6,224.3 570.8,225.4 571.9,226.0 573.1,226.1 574.2,225.8 575.3,225.4 576.5,225.2 577.6,225.5 578.7,226.3 579.9,227.6 581.0,229.1 582.2,230.4 583.3,231.4 584.4,231.7 585.6,231.6 586.7,231.1 587.8,230.5 589.0,230.1 590.1,230.0 591.2,230.2 592.4,230.6 593.5,231.0 594.7,231.3 595.8,231.4 596.9,231.3 598.1,231.3 599.2,231.4 600.3,231.7 601.5,232.1 602.6,232.6 603.8,233.0 604.9,232.9 606.0,232.4 607.2,231.5 608.3,230.4 609.4,229.4 610.6,228.8 611.7,228.8 612.9,229.3 614.0,230.3 615.1,231.3 616.3,232.0 617.4,232.2 618.5,231.8 619.7,230.8 620.8,229.5 621.9,228.3 623.1,227.4 624.2,226.9 625.4,226.8 626.5,227.0 627.6,227.2 628.8,227.3 629.9,227.2 631.0,227.2"/>
<path class="cv" stroke="#ee9a10" d="M442.3,180.2 443.4,178.6 444.6,177.5 445.7,177.4 446.8,178.1 448.0,179.0 449.1,179.6 450.3,179.5 451.4,178.9 452.5,178.2 453.7,177.9 454.8,178.4 455.9,179.3 457.1,180.3 458.2,180.7 459.4,180.4 460.5,179.4 461.6,178.2 462.8,177.1 463.9,176.6 465.0,176.4 466.2,176.4 467.3,176.4 468.5,176.3 469.6,176.1 470.7,176.2 471.9,176.5 473.0,177.0 474.1,177.3 475.3,177.2 476.4,176.7 477.5,175.8 478.7,175.0 479.8,174.6 481.0,174.6 482.1,174.9 483.2,175.1 484.4,175.1 485.5,174.7 486.6,174.3 487.8,174.1 488.9,174.3 490.1,174.6 491.2,174.9 492.3,174.7 493.5,174.0 494.6,172.7 495.7,171.2 496.9,170.0 498.0,169.4 499.1,169.7 500.3,171.0 501.4,172.9 502.6,175.1 503.7,177.5 504.8,180.4 506.0,183.8 507.1,188.8 508.2,195.5 509.4,202.4 510.5,208.7 511.7,214.2 512.8,215.8 513.9,215.3 515.1,214.0 516.2,212.8 517.3,212.3 518.5,212.0 519.6,212.0 520.8,212.1 521.9,212.4 523.0,212.7 524.2,212.8 525.3,212.5 526.4,211.7 527.6,210.7 528.7,209.8 529.8,209.3 531.0,209.4 532.1,210.1 533.3,210.8 534.4,211.1 535.5,210.8 536.7,210.0 537.8,209.1 538.9,208.9 540.1,209.7 541.2,211.2 542.4,212.7 543.5,213.6 544.6,213.3 545.8,212.0 546.9,210.2 548.0,209.1 549.2,209.3 550.3,210.8 551.5,213.1 552.6,215.1 553.7,216.2 554.9,216.1 556.0,215.4 557.1,214.8 558.3,215.2 559.4,216.6 560.5,218.6 561.7,220.5 562.8,221.5 564.0,221.3 565.1,220.3 566.2,219.4 567.4,219.3 568.5,220.4 569.6,222.5 570.8,224.8 571.9,226.8 573.1,227.9 574.2,228.1 575.3,227.7 576.5,227.4 577.6,227.4 578.7,227.9 579.9,228.6 581.0,229.2 582.2,229.5 583.3,229.4 584.4,229.0 585.6,228.6 586.7,228.5 587.8,228.8 589.0,229.6 590.1,230.6 591.2,231.6 592.4,232.5 593.5,232.9 594.7,232.8 595.8,232.1 596.9,231.1 598.1,230.2 599.2,229.7 600.3,230.0 601.5,230.7 602.6,231.7 603.8,232.4 604.9,232.4 606.0,231.9 607.2,231.0 608.3,230.3 609.4,230.1 610.6,230.4 611.7,230.8 612.9,230.8 614.0,230.0 615.1,228.5 616.3,226.8 617.4,225.3 618.5,224.8 619.7,225.1 620.8,226.1 621.9,227.0 623.1,227.3 624.2,226.8 625.4,225.6 626.5,224.3 627.6,223.3 628.8,222.8 629.9,222.8 631.0,223.0"/>
<path class="ax" d="M442.3,178.4H631.8"/>
<path class="ax" d="M480.2,156.8V257.2"/>
<path class="ax" d="M442.3,178.4V180.8"/>
<text class="tk" x="442.3" y="188.1" text-anchor="middle">-200</text>
<path class="ax" d="M518.1,178.4V180.8"/>
<text class="tk" x="518.1" y="188.1" text-anchor="middle">200</text>
<path class="ax" d="M556.0,178.4V180.8"/>
<text class="tk" x="556.0" y="188.1" text-anchor="middle">400</text>
<path class="ax" d="M593.9,178.4V180.8"/>
<text class="tk" x="593.9" y="188.1" text-anchor="middle">600</text>
<path class="ax" d="M631.8,178.4V180.8"/>
<text class="tk" x="631.8" y="188.1" text-anchor="middle">800</text>
<path class="ax" d="M478.4,160.5H480.2"/>
<text class="ty" transform="translate(477.9,163.3) scale(0.89,1)" text-anchor="end">-2.5</text>
<path class="ax" d="M478.4,196.3H480.2"/>
<text class="ty" transform="translate(477.9,199.1) scale(0.89,1)" text-anchor="end">2.5</text>
<path class="ax" d="M478.4,214.2H480.2"/>
<text class="ty" transform="translate(477.9,217.0) scale(0.89,1)" text-anchor="end">5</text>
<path class="ax" d="M478.4,232.1H480.2"/>
<text class="ty" transform="translate(477.9,234.9) scale(0.89,1)" text-anchor="end">7.5</text>
<path class="ax" d="M478.4,250.0H480.2"/>
<text class="ty" transform="translate(477.9,252.8) scale(0.89,1)" text-anchor="end">10</text>
<text class="t" x="481.8" y="159.3">FC2</text>
<text class="xl" x="636.0" y="173.9" text-anchor="end">latency (ms)</text>
<text class="yl" transform="translate(465.1,230.6) rotate(-90)" text-anchor="middle">Amplitude(uV)</text></g>
<g><rect x="113.6" y="299.3" width="24.4" height="82.0" fill="#f0f0f0"/>
<rect x="159.4" y="299.3" width="37.5" height="82.0" fill="#f0f0f0"/>
<path class="cv" stroke="#5a91c6" d="M8.4,301.8 9.5,300.9 10.7,299.0 11.8,297.8 12.9,298.1 14.1,299.0 15.2,298.9 16.4,297.5 17.5,295.8 18.6,295.3 19.8,296.7 20.9,298.7 22.0,299.5 23.2,298.7 24.3,297.1 25.5,296.5 26.6,297.3 27.7,298.3 28.9,298.0 30.0,296.3 31.1,294.3 32.3,293.8 33.4,295.0 34.6,296.7 35.7,297.2 36.8,296.2 38.0,295.0 39.1,294.9 40.2,296.2 41.4,297.6 42.5,297.4 43.6,295.7 44.8,293.9 45.9,293.5 47.1,294.7 48.2,296.1 49.3,296.1 50.5,294.9 51.6,293.7 52.7,293.9 53.9,295.5 55.0,296.9 56.2,296.7 57.3,295.4 58.4,294.5 59.6,295.0 60.7,296.9 61.8,299.1 63.0,300.5 64.1,301.3 65.2,302.3 66.4,304.3 67.5,307.4 68.7,310.5 69.8,311.0 70.9,308.6 72.1,306.1 73.2,307.3 74.3,313.1 75.5,318.6 76.6,322.4 77.8,324.6 78.9,325.9 80.0,327.9 81.2,330.8 82.3,333.5 83.4,335.9 84.6,338.4 85.7,341.6 86.9,346.5 88.0,351.9 89.1,356.5 90.3,359.5 91.4,361.2 92.5,362.5 93.7,363.6 94.8,364.8 95.9,365.5 97.1,364.8 98.2,363.3 99.4,362.2 100.5,362.3 101.6,362.9 102.8,362.6 103.9,360.9 105.0,359.0 106.2,358.4 107.3,360.0 108.5,362.7 109.6,364.6 110.7,365.1 111.9,364.7 113.0,364.7 114.1,365.7 115.3,367.2 116.4,367.6 117.6,366.7 118.7,365.4 119.8,365.1 121.0,366.2 122.1,367.8 123.2,368.4 124.4,367.7 125.5,366.5 126.6,365.9 127.8,366.3 128.9,366.5 130.1,365.6 131.2,363.4 132.3,361.1 133.5,360.2 134.6,360.7 135.7,361.8 136.9,362.2 138.0,361.8 139.2,361.4 140.3,362.0 141.4,363.7 142.6,365.1 143.7,365.1 144.8,363.8 146.0,362.3 147.1,361.7 148.3,362.3 149.4,363.1 150.5,363.1 151.7,362.6 152.8,362.5 153.9,363.6 155.1,365.6 156.2,367.3 157.3,367.6 158.5,366.8 159.6,365.8 160.8,365.5 161.9,365.9 163.0,365.9 164.2,365.1 165.3,363.7 166.4,362.8 167.6,363.1 168.7,364.2 169.9,365.0 171.0,364.7 172.1,363.3 173.3,361.7 174.4,360.6 175.5,359.9 176.7,358.8 177.8,356.8 178.9,354.5 180.1,352.8 181.2,352.3 182.4,352.6 183.5,352.7 184.6,352.2 185.8,351.2 186.9,350.5 188.0,350.4 189.2,350.4 190.3,349.6 191.5,347.8 192.6,345.5 193.7,343.6 194.9,342.6 196.0,341.9 197.1,340.9"/>
<path class="cv" stroke="#008c1e" d="M8.4,300.5 9.5,299.5 10.7,298.6 11.8,298.0 12.9,297.9 14.1,298.3 15.2,299.0 16.4,299.8 17.5,300.3 18.6,300.4 19.8,300.0 20.9,299.2 22.0,298.1 23.2,296.9 24.3,296.0 25.5,295.3 26.6,294.8 27.7,294.6 28.9,294.3 30.0,293.9 31.1,293.5 32.3,293.0 33.4,292.5 34.6,292.0 35.7,291.6 36.8,291.6 38.0,292.1 39.1,292.9 40.2,293.2 41.4,293.5 42.5,293.6 43.6,293.2 44.8,292.8 45.9,292.8 47.1,293.6 48.2,294.9 49.3,296.1 50.5,296.6 51.6,296.4 52.7,295.7 53.9,294.8 55.0,294.2 56.2,293.7 57.3,293.5 58.4,293.8 59.6,294.3 60.7,295.0 61.8,295.6 63.0,296.1 64.1,296.4 65.2,296.8 66.4,297.3 67.5,298.0 68.7,299.3 69.8,300.9 70.9,302.8 72.1,304.9 73.2,307.7 74.3,311.7 75.5,316.0 76.6,319.5 77.8,322.5 78.9,324.5 80.0,326.1 81.2,328.3 82.3,331.1 83.4,334.5 84.6,338.7 85.7,343.2 86.9,347.9 88.0,352.5 89.1,356.3 90.3,359.5 91.4,362.1 92.5,363.9 93.7,364.6 94.8,364.8 95.9,364.8 97.1,364.7 98.2,364.4 99.4,363.8 100.5,363.2 101.6,363.0 102.8,363.3 103.9,363.5 105.0,363.3 106.2,362.6 107.3,361.4 108.5,360.0 109.6,358.7 110.7,357.9 111.9,357.8 113.0,358.7 114.1,360.1 115.3,361.9 116.4,363.6 117.6,364.8 118.7,365.3 119.8,365.1 121.0,364.3 122.1,363.3 123.2,362.4 124.4,361.7 125.5,361.4 126.6,361.4 127.8,361.5 128.9,361.4 130.1,361.1 131.2,360.6 132.3,360.1 133.5,359.7 134.6,359.5 135.7,359.5 136.9,359.7 138.0,360.0 139.2,360.1 140.3,360.0 141.4,359.6 142.6,359.2 143.7,358.8 144.8,358.7 146.0,358.9 147.1,359.6 148.3,360.5 149.4,361.5 150.5,362.3 151.7,362.8 152.8,363.0 153.9,363.1 155.1,362.9 156.2,362.8 157.3,362.7 158.5,362.5 159.6,362.2 160.8,361.4 161.9,360.3 163.0,358.9 164.2,357.5 165.3,356.4 166.4,355.8 167.6,355.8 168.7,356.2 169.9,356.8 171.0,357.3 172.1,357.1 173.3,356.2 174.4,354.5 175.5,352.2 176.7,349.8 177.8,347.7 178.9,346.3 180.1,345.7 181.2,345.9 182.4,346.4 183.5,347.0 184.6,347.2 185.8,346.8 186.9,345.8 188.0,344.2 189.2,342.4 190.3,340.7 191.5,339.1 192.6,337.9 193.7,336.9 194.9,336.0 196.0,335.2 197.1,334.4"/>
<path class="cv" stroke="#005a14" d="M8.4,299.2 9.5,298.9 10.7,298.9 11.8,299.1 12.9,299.5 14.1,299.5 15.2,299.1 16.4,298.3 17.5,297.5 18.6,297.0 19.8,297.0 20.9,297.5 22.0,297.8 23.2,297.8 24.3,297.1 25.5,296.2 26.6,295.5 27.7,295.3 28.9,295.5 30.0,295.8 31.1,295.8 32.3,295.4 33.4,294.7 34.6,294.3 35.7,294.3 36.8,294.7 38.0,295.1 39.1,295.1 40.2,294.4 41.4,293.4 42.5,292.6 43.6,292.3 44.8,292.5 45.9,292.2 47.1,291.5 48.2,290.8 49.3,289.7 50.5,288.7 51.6,288.2 52.7,288.6 53.9,289.4 55.0,290.1 56.2,290.4 57.3,290.9 58.4,292.1 59.6,293.6 60.7,294.9 61.8,295.7 63.0,296.4 64.1,297.1 65.2,297.8 66.4,298.9 67.5,300.4 68.7,301.8 69.8,303.0 70.9,303.9 72.1,304.4 73.2,305.7 74.3,309.3 75.5,314.7 76.6,320.1 77.8,325.0 78.9,328.2 80.0,329.5 81.2,330.2 82.3,331.3 83.4,333.4 84.6,337.3 85.7,342.4 86.9,348.0 88.0,353.3 89.1,357.2 90.3,360.2 91.4,362.7 92.5,365.0 93.7,366.3 94.8,367.1 95.9,367.3 97.1,366.8 98.2,365.9 99.4,364.6 100.5,363.5 101.6,362.7 102.8,362.2 103.9,361.3 105.0,360.1 106.2,358.9 107.3,358.2 108.5,358.3 109.6,358.8 110.7,359.4 111.9,359.5 113.0,359.2 114.1,358.8 115.3,358.5 116.4,358.5 117.6,358.6 118.7,358.5 119.8,357.9 121.0,357.1 122.1,356.5 123.2,356.4 124.4,356.8 125.5,357.1 126.6,356.8 127.8,355.7 128.9,354.2 130.1,353.2 131.2,353.6 132.3,355.3 133.5,357.6 134.6,359.5 135.7,359.9 136.9,359.1 138.0,357.6 139.2,356.5 140.3,356.5 141.4,357.7 142.6,359.0 143.7,359.7 144.8,359.4 146.0,358.1 147.1,356.7 148.3,355.9 149.4,356.0 150.5,356.9 151.7,358.0 152.8,359.0 153.9,359.8 155.1,360.4 156.2,360.8 157.3,361.0 158.5,360.7 159.6,359.8 160.8,358.7 161.9,357.8 163.0,357.5 164.2,357.8 165.3,358.3 166.4,358.1 167.6,356.9 168.7,354.8 169.9,352.7 171.0,351.3 172.1,351.1 173.3,351.6 174.4,352.2 175.5,352.0 176.7,350.8 177.8,349.0 178.9,347.5 180.1,346.9 181.2,347.2 182.4,347.6 183.5,347.7 184.6,346.9 185.8,345.7 186.9,344.6 188.0,344.3 189.2,344.7 190.3,345.3 191.5,345.4 192.6,344.4 193.7,342.6 194.9,340.6 196.0,339.2 197.1,338.8"/>
<path class="cv" stroke="#889f05" d="M8.4,300.6 9.5,301.4 10.7,301.7 11.8,301.2 12.9,300.2 14.1,298.8 15.2,297.5 16.4,296.5 17.5,296.1 18.6,296.3 19.8,297.0 20.9,297.8 22.0,298.5 23.2,298.8 24.3,298.7 25.5,298.0 26.6,297.1 27.7,296.1 28.9,295.3 30.0,294.9 31.1,295.0 32.3,295.4 33.4,296.0 34.6,296.6 35.7,296.8 36.8,296.5 38.0,295.9 39.1,295.0 40.2,294.1 41.4,293.4 42.5,293.2 43.6,293.4 44.8,294.1 45.9,295.0 47.1,295.7 48.2,296.2 49.3,296.2 50.5,295.5 51.6,294.4 52.7,292.9 53.9,291.1 55.0,289.8 56.2,289.4 57.3,290.1 58.4,291.9 59.6,294.1 60.7,296.0 61.8,297.4 63.0,298.6 64.1,299.4 65.2,300.0 66.4,300.4 67.5,300.7 68.7,301.1 69.8,301.8 70.9,302.9 72.1,304.6 73.2,307.1 74.3,311.2 75.5,315.9 76.6,319.8 77.8,323.0 78.9,325.1 80.0,326.3 81.2,327.7 82.3,329.5 83.4,331.8 84.6,335.1 85.7,338.9 86.9,343.1 88.0,347.5 89.1,351.4 90.3,354.7 91.4,357.5 92.5,359.7 93.7,360.8 94.8,360.7 95.9,360.7 97.1,360.5 98.2,360.1 99.4,359.5 100.5,358.9 101.6,358.2 102.8,357.6 103.9,357.3 105.0,357.4 106.2,357.8 107.3,358.6 108.5,359.5 109.6,360.4 110.7,361.0 111.9,361.2 113.0,361.1 114.1,360.5 115.3,359.8 116.4,359.2 117.6,358.9 118.7,359.0 119.8,359.6 121.0,360.6 122.1,361.8 123.2,362.9 124.4,363.8 125.5,364.3 126.6,364.3 127.8,363.9 128.9,363.2 130.1,362.5 131.2,361.8 132.3,361.5 133.5,361.6 134.6,362.0 135.7,362.7 136.9,363.5 138.0,364.2 139.2,364.7 140.3,364.9 141.4,364.9 142.6,364.6 143.7,364.1 144.8,363.6 146.0,363.2 147.1,363.0 148.3,363.1 149.4,363.5 150.5,364.1 151.7,364.9 152.8,365.7 153.9,366.5 155.1,367.0 156.2,367.1 157.3,366.9 158.5,366.4 159.6,365.6 160.8,364.7 161.9,363.8 163.0,363.0 164.2,362.4 165.3,362.1 166.4,362.1 167.6,362.2 168.7,362.2 169.9,362.1 171.0,361.7 172.1,360.9 173.3,359.9 174.4,358.8 175.5,357.6 176.7,356.5 177.8,355.7 178.9,355.2 180.1,354.9 181.2,354.6 182.4,354.3 183.5,353.7 184.6,352.7 185.8,351.5 186.9,350.1 188.0,348.7 189.2,347.5 190.3,346.7 191.5,346.2 192.6,346.2 193.7,346.5 194.9,346.7 196.0,346.8 197.1,346.6"/>
<path class="cv" stroke="#f0c850" d="M8.4,298.8 9.5,298.2 10.7,298.2 11.8,298.4 12.9,298.5 14.1,298.4 15.2,297.9 16.4,297.4 17.5,297.3 18.6,297.6 19.8,298.0 20.9,298.2 22.0,298.1 23.2,297.7 24.3,297.3 25.5,297.2 26.6,297.5 27.7,297.9 28.9,297.8 30.0,296.9 31.1,295.4 32.3,293.9 33.4,293.2 34.6,293.6 35.7,295.0 36.8,296.8 38.0,298.2 39.1,298.5 40.2,297.9 41.4,296.7 42.5,295.6 43.6,294.9 44.8,294.7 45.9,294.6 47.1,294.3 48.2,293.9 49.3,293.6 50.5,293.7 51.6,294.5 52.7,295.6 53.9,296.6 55.0,297.0 56.2,296.7 57.3,296.1 58.4,295.6 59.6,295.4 60.7,295.5 61.8,295.8 63.0,296.2 64.1,296.6 65.2,297.1 66.4,298.0 67.5,299.2 68.7,300.6 69.8,302.0 70.9,303.1 72.1,303.8 73.2,304.5 74.3,306.4 75.5,310.4 76.6,314.6 77.8,318.9 78.9,322.3 80.0,324.4 81.2,325.7 82.3,327.0 83.4,328.8 84.6,331.5 85.7,335.4 86.9,339.8 88.0,344.6 89.1,348.8 90.3,352.4 91.4,355.3 92.5,358.1 93.7,359.4 94.8,359.7 95.9,359.5 97.1,358.7 98.2,357.6 99.4,356.7 100.5,356.4 101.6,356.7 102.8,357.3 103.9,357.7 105.0,357.7 106.2,357.3 107.3,357.1 108.5,357.4 109.6,358.3 110.7,359.3 111.9,359.8 113.0,359.4 114.1,358.2 115.3,356.7 116.4,355.7 117.6,355.8 118.7,357.0 119.8,358.8 121.0,360.4 122.1,361.4 123.2,361.5 124.4,361.2 125.5,360.8 126.6,360.6 127.8,360.5 128.9,360.3 130.1,359.9 131.2,359.5 132.3,359.3 133.5,359.8 134.6,360.8 135.7,362.0 136.9,362.9 138.0,363.2 139.2,363.0 140.3,362.6 141.4,362.3 142.6,362.5 143.7,362.7 144.8,362.8 146.0,362.3 147.1,361.4 148.3,360.6 149.4,360.5 150.5,361.3 151.7,362.9 152.8,364.4 153.9,365.3 155.1,365.1 156.2,364.1 157.3,362.7 158.5,361.8 159.6,361.5 160.8,361.9 161.9,362.3 163.0,362.3 164.2,361.7 165.3,360.8 166.4,360.0 167.6,359.4 168.7,359.1 169.9,358.9 171.0,358.4 172.1,357.8 173.3,357.2 174.4,356.9 175.5,356.9 176.7,357.0 177.8,356.7 178.9,355.7 180.1,354.1 181.2,352.2 182.4,350.6 183.5,349.7 184.6,349.5 185.8,349.5 186.9,349.4 188.0,348.8 189.2,347.9 190.3,347.3 191.5,347.2 192.6,347.9 193.7,348.8 194.9,349.2 196.0,348.6 197.1,347.1"/>
<path class="cv" stroke="#ee9a10" d="M8.4,298.0 9.5,299.1 10.7,299.6 11.8,299.7 12.9,299.6 14.1,299.4 15.2,299.0 16.4,298.5 17.5,297.8 18.6,297.2 19.8,296.9 20.9,296.9 22.0,297.1 23.2,297.2 24.3,297.1 25.5,297.1 26.6,296.9 27.7,296.7 28.9,296.5 30.0,296.5 31.1,296.9 32.3,297.4 33.4,297.6 34.6,297.1 35.7,295.6 36.8,293.9 38.0,293.0 39.1,293.6 40.2,295.4 41.4,297.3 42.5,298.0 43.6,297.2 44.8,295.5 45.9,294.3 47.1,294.3 48.2,295.3 49.3,296.1 50.5,295.9 51.6,294.9 52.7,293.8 53.9,293.7 55.0,294.6 56.2,295.6 57.3,295.9 58.4,295.4 59.6,294.9 60.7,295.2 61.8,296.3 63.0,297.7 64.1,298.4 65.2,298.0 66.4,297.0 67.5,296.0 68.7,295.8 69.8,296.9 70.9,298.9 72.1,301.1 73.2,303.1 74.3,305.1 75.5,308.4 76.6,312.7 77.8,317.0 78.9,320.8 80.0,323.0 81.2,324.2 82.3,325.5 83.4,327.1 84.6,329.6 85.7,332.9 86.9,336.8 88.0,341.2 89.1,345.8 90.3,350.1 91.4,353.9 92.5,356.9 93.7,358.9 94.8,359.0 95.9,357.9 97.1,356.8 98.2,355.8 99.4,355.2 100.5,355.1 101.6,355.7 102.8,356.5 103.9,357.0 105.0,356.7 106.2,355.6 107.3,354.4 108.5,354.1 109.6,354.8 110.7,356.1 111.9,356.8 113.0,356.1 114.1,354.4 115.3,352.7 116.4,352.3 117.6,353.4 118.7,355.3 119.8,356.9 121.0,357.3 122.1,356.9 123.2,356.7 124.4,357.2 125.5,358.2 126.6,358.6 127.8,358.1 128.9,357.0 130.1,356.5 131.2,357.3 132.3,359.3 133.5,361.3 134.6,362.0 135.7,361.2 136.9,359.8 138.0,359.4 139.2,360.5 140.3,362.5 141.4,364.0 142.6,363.9 143.7,362.4 144.8,360.6 146.0,359.7 147.1,360.1 148.3,361.4 149.4,362.7 150.5,363.4 151.7,363.5 152.8,363.4 153.9,363.5 155.1,363.6 156.2,363.3 157.3,362.7 158.5,361.9 159.6,361.3 160.8,361.2 161.9,361.4 163.0,361.6 164.2,361.5 165.3,361.2 166.4,360.8 167.6,360.4 168.7,360.2 169.9,360.3 171.0,360.5 172.1,360.6 173.3,360.1 174.4,358.9 175.5,356.8 176.7,354.5 177.8,352.9 178.9,352.5 180.1,353.5 181.2,354.7 182.4,355.0 183.5,354.0 184.6,352.1 185.8,350.5 186.9,349.9 188.0,350.3 189.2,350.7 190.3,350.3 191.5,348.9 192.6,347.4 193.7,346.6 194.9,346.9 196.0,347.5 197.1,347.6"/>
<path class="ax" d="M8.4,298.1H197.9"/>
<path class="ax" d="M46.3,276.5V376.9"/>
<path class="ax" d="M8.4,298.1V300.5"/>
<text class="tk" x="8.4" y="307.8" text-anchor="middle">-200</text>
<path class="ax" d="M84.2,298.1V300.5"/>
<text class="tk" x="84.2" y="307.8" text-anchor="middle">200</text>
<path class="ax" d="M122.1,298.1V300.5"/>
<text class="tk" x="122.1" y="307.8" text-anchor="middle">400</text>
<path class="ax" d="M160.0,298.1V300.5"/>
<text class="tk" x="160.0" y="307.8" text-anchor="middle">600</text>
<path class="ax" d="M197.9,298.1V300.5"/>
<text class="tk" x="197.9" y="307.8" text-anchor="middle">800</text>
<path class="ax" d="M44.5,280.2H46.3"/>
<text class="ty" transform="translate(44.0,283.0) scale(0.89,1)" text-anchor="end">-2.5</text>
<path class="ax" d="M44.5,316.0H46.3"/>
<text class="ty" transform="translate(44.0,318.8) scale(0.89,1)" text-anchor="end">2.5</text>
<path class="ax" d="M44.5,333.9H46.3"/>
<text class="ty" transform="translate(44.0,336.7) scale(0.89,1)" text-anchor="end">5</text>
<path class="ax" d="M44.5,351.8H46.3"/>
<text class="ty" transform="translate(44.0,354.6) scale(0.89,1)" text-anchor="end">7.5</text>
<path class="ax" d="M44.5,369.7H46.3"/>
<text class="ty" transform="translate(44.0,372.5) scale(0.89,1)" text-anchor="end">10</text>
<text class="t" x="47.9" y="279.0">CP1</text>
<text class="xl" x="202.1" y="293.6" text-anchor="end">latency (ms)</text>
<text class="yl" transform="translate(31.2,350.3) rotate(-90)" text-anchor="middle">Amplitude(uV)</text></g>
<g><rect x="331.5" y="299.3" width="24.4" height="82.0" fill="#f0f0f0"/>
<rect x="377.3" y="299.3" width="37.5" height="82.0" fill="#f0f0f0"/>
<path class="cv" stroke="#5a91c6" d="M226.3,298.7 227.4,299.0 228.6,299.3 229.7,299.6 230.8,299.8 232.0,299.6 233.1,298.9 234.3,298.0 235.4,297.0 236.5,296.1 237.7,295.7 238.8,295.7 239.9,296.3 241.1,297.3 242.2,298.4 243.4,299.2 244.5,299.5 245.6,299.1 246.8,298.1 247.9,296.7 249.0,295.2 250.2,294.1 251.3,293.5 252.5,293.5 253.6,294.2 254.7,295.3 255.9,296.5 257.0,297.4 258.1,297.8 259.3,297.7 260.4,297.1 261.5,296.2 262.7,295.3 263.8,294.5 265.0,294.1 266.1,294.0 267.2,294.1 268.4,294.4 269.5,294.7 270.6,294.9 271.8,295.0 272.9,295.2 274.1,295.4 275.2,295.7 276.3,296.2 277.5,296.8 278.6,297.7 279.7,298.9 280.9,300.2 282.0,301.5 283.1,302.7 284.3,303.8 285.4,304.9 286.6,306.0 287.7,307.0 288.8,306.7 290.0,307.5 291.1,311.4 292.2,316.4 293.4,320.9 294.5,324.6 295.7,326.1 296.8,326.4 297.9,326.6 299.1,326.6 300.2,327.1 301.3,329.0 302.5,332.9 303.6,337.4 304.8,342.2 305.9,346.7 307.0,350.7 308.2,353.5 309.3,354.8 310.4,355.0 311.6,353.9 312.7,352.4 313.8,352.1 315.0,352.8 316.1,353.8 317.3,355.0 318.4,356.1 319.5,356.8 320.7,357.3 321.8,357.8 322.9,358.3 324.1,359.0 325.2,359.9 326.4,360.9 327.5,361.8 328.6,362.3 329.8,362.4 330.9,362.0 332.0,361.4 333.2,360.7 334.3,360.4 335.5,360.5 336.6,361.3 337.7,362.5 338.9,364.1 340.0,365.7 341.1,366.9 342.3,367.4 343.4,367.0 344.5,365.9 345.7,364.3 346.8,362.7 348.0,361.5 349.1,360.9 350.2,361.1 351.4,362.0 352.5,363.1 353.6,364.1 354.8,364.9 355.9,365.1 357.1,364.9 358.2,364.4 359.3,363.9 360.5,363.4 361.6,363.3 362.7,363.5 363.9,363.9 365.0,364.4 366.2,364.8 367.3,365.1 368.4,365.2 369.6,365.2 370.7,365.2 371.8,365.3 373.0,365.7 374.1,366.1 375.2,366.6 376.4,367.0 377.5,367.1 378.7,366.8 379.8,366.1 380.9,365.3 382.1,364.4 383.2,363.9 384.3,363.8 385.5,364.2 386.6,365.0 387.8,365.8 388.9,366.3 390.0,366.2 391.2,365.4 392.3,363.9 393.4,361.9 394.6,359.8 395.7,357.8 396.9,356.3 398.0,355.3 399.1,354.7 400.3,354.4 401.4,354.1 402.5,353.7 403.7,352.9 404.8,351.8 405.9,350.3 407.1,348.8 408.2,347.3 409.4,346.0 410.5,345.1 411.6,344.3 412.8,343.6 413.9,342.0 415.0,339.7"/>
<path class="cv" stroke="#008c1e" d="M226.3,299.7 227.4,299.8 228.6,299.5 229.7,299.4 230.8,299.8 232.0,300.5 233.1,301.0 234.3,300.7 235.4,299.6 236.5,298.4 237.7,297.7 238.8,297.5 239.9,297.3 241.1,296.8 242.2,295.8 243.4,295.1 244.5,295.1 245.6,295.6 246.8,296.0 247.9,295.5 249.0,294.4 250.2,293.1 251.3,292.2 252.5,291.7 253.6,291.4 254.7,290.8 255.9,290.5 257.0,290.7 258.1,291.5 259.3,293.1 260.4,294.7 261.5,295.1 262.7,294.6 263.8,294.0 265.0,294.3 266.1,295.5 267.2,296.5 268.4,296.4 269.5,295.2 270.6,293.8 271.8,293.1 272.9,293.2 274.1,293.5 275.2,293.4 276.3,292.9 277.5,292.5 278.6,293.0 279.7,294.4 280.9,296.2 282.0,297.3 283.1,297.6 284.3,297.6 285.4,298.0 286.6,299.3 287.7,300.8 288.8,302.0 290.0,302.9 291.1,306.0 292.2,311.1 293.4,317.3 294.5,324.0 295.7,328.2 296.8,329.8 297.9,330.6 299.1,331.5 300.2,332.7 301.3,334.7 302.5,337.9 303.6,341.6 304.8,345.2 305.9,349.7 307.0,355.0 308.2,360.3 309.3,363.8 310.4,365.0 311.6,364.7 312.7,364.6 313.8,365.0 315.0,365.6 316.1,365.3 317.3,363.6 318.4,361.4 319.5,360.0 320.7,360.3 321.8,361.3 322.9,361.8 324.1,361.2 325.2,360.4 326.4,360.5 327.5,361.9 328.6,363.7 329.8,364.5 330.9,363.6 332.0,362.0 333.2,361.0 334.3,361.3 335.5,362.2 336.6,362.3 337.7,361.2 338.9,359.8 340.0,359.4 341.1,360.6 342.3,362.6 343.4,363.7 344.5,363.3 345.7,362.2 346.8,361.6 348.0,362.2 349.1,363.3 350.2,363.5 351.4,362.2 352.5,360.3 353.6,359.3 354.8,360.0 355.9,361.6 357.1,362.7 358.2,362.4 359.3,361.4 360.5,361.0 361.6,362.1 362.7,363.7 363.9,364.3 365.0,363.3 366.2,361.3 367.3,360.0 368.4,360.3 369.6,361.5 370.7,362.3 371.8,361.8 373.0,360.8 374.1,360.6 375.2,362.0 376.4,364.2 377.5,365.6 378.7,365.3 379.8,363.7 380.9,362.4 382.1,362.4 383.2,363.2 384.3,363.2 385.5,361.7 386.6,359.3 387.8,357.4 388.9,356.9 390.0,357.3 391.2,357.1 392.3,355.4 393.4,352.8 394.6,350.8 395.7,350.2 396.9,350.5 398.0,350.2 399.1,348.2 400.3,345.1 401.4,342.4 402.5,341.2 403.7,341.2 404.8,340.9 405.9,339.3 407.1,336.9 408.2,335.1 409.4,335.2 410.5,336.5 411.6,337.4 412.8,336.7 413.9,334.7 415.0,333.0"/>
<path class="cv" stroke="#005a14" d="M226.3,300.1 227.4,300.7 228.6,300.6 229.7,299.6 230.8,298.4 232.0,297.5 233.1,297.6 234.3,298.1 235.4,298.4 236.5,298.1 237.7,297.3 238.8,296.7 239.9,296.6 241.1,297.0 242.2,297.4 243.4,297.3 244.5,296.9 245.6,296.4 246.8,296.0 247.9,295.6 249.0,294.9 250.2,294.2 251.3,293.9 252.5,294.2 253.6,294.8 254.7,295.2 255.9,294.8 257.0,293.9 258.1,293.2 259.3,293.4 260.4,294.4 261.5,295.2 262.7,294.7 263.8,292.3 265.0,289.5 266.1,287.9 267.2,287.8 268.4,288.7 269.5,289.8 270.6,290.2 271.8,289.9 272.9,289.4 274.1,289.4 275.2,290.1 276.3,291.1 277.5,292.0 278.6,292.9 279.7,293.7 280.9,294.5 282.0,295.1 283.1,295.5 284.3,296.1 285.4,297.4 286.6,299.5 287.7,302.0 288.8,304.0 290.0,305.4 291.1,307.9 292.2,312.1 293.4,317.6 294.5,324.5 295.7,329.6 296.8,331.7 297.9,331.9 299.1,331.6 300.2,331.4 301.3,333.1 302.5,337.3 303.6,342.9 304.8,347.8 305.9,352.2 307.0,356.2 308.2,360.3 309.3,363.6 310.4,365.9 311.6,366.8 312.7,367.0 313.8,366.7 315.0,365.9 316.1,364.6 317.3,362.3 318.4,359.9 319.5,358.7 320.7,359.3 321.8,361.1 322.9,362.4 324.1,362.3 325.2,361.4 326.4,360.7 327.5,361.2 328.6,362.9 329.8,364.3 330.9,364.2 332.0,362.5 333.2,360.4 334.3,359.4 335.5,359.9 336.6,361.3 337.7,362.4 338.9,362.4 340.0,361.9 341.1,361.6 342.3,361.8 343.4,362.1 344.5,362.1 345.7,361.5 346.8,360.8 348.0,360.4 349.1,360.1 350.2,359.5 351.4,358.5 352.5,357.3 353.6,357.0 354.8,358.0 355.9,359.8 357.1,361.3 358.2,361.6 359.3,360.7 360.5,359.5 361.6,358.8 362.7,358.9 363.9,359.0 365.0,358.5 366.2,357.8 367.3,357.4 368.4,358.2 369.6,359.9 370.7,361.6 371.8,362.2 373.0,362.3 374.1,362.3 375.2,363.1 376.4,364.3 377.5,365.2 378.7,364.9 379.8,363.5 380.9,362.0 382.1,361.3 383.2,361.4 384.3,361.3 385.5,360.5 386.6,358.8 387.8,357.1 388.9,356.3 390.0,356.4 391.2,356.8 392.3,356.7 393.4,355.8 394.6,354.7 395.7,353.8 396.9,353.1 398.0,352.2 399.1,350.7 400.3,349.2 401.4,348.3 402.5,348.2 403.7,348.5 404.8,348.2 405.9,347.0 407.1,345.5 408.2,344.8 409.4,345.4 410.5,346.7 411.6,347.0 412.8,345.5 413.9,342.6 415.0,339.9"/>
<path class="cv" stroke="#889f05" d="M226.3,298.4 227.4,298.7 228.6,299.0 229.7,298.9 230.8,298.6 232.0,298.4 233.1,298.5 234.3,298.3 235.4,297.6 236.5,296.9 237.7,297.1 238.8,298.3 239.9,299.9 241.1,300.3 242.2,299.0 243.4,296.5 244.5,294.5 245.6,293.8 246.8,294.5 247.9,295.5 249.0,296.1 250.2,296.5 251.3,296.9 252.5,297.1 253.6,296.8 254.7,295.7 255.9,294.5 257.0,294.1 258.1,294.7 259.3,295.6 260.4,295.7 261.5,294.6 262.7,293.2 263.8,292.7 265.0,293.4 266.1,294.6 267.2,295.2 268.4,295.0 269.5,294.4 270.6,293.9 271.8,293.6 272.9,292.9 274.1,291.7 275.2,290.7 276.3,290.2 277.5,290.6 278.6,291.5 279.7,292.5 280.9,293.6 282.0,295.2 283.1,297.6 284.3,300.2 285.4,302.0 286.6,302.4 287.7,301.9 288.8,301.5 290.0,302.5 291.1,306.0 292.2,310.9 293.4,315.9 294.5,321.0 295.7,324.7 296.8,326.8 297.9,328.0 299.1,328.8 300.2,329.0 301.3,330.2 302.5,333.8 303.6,339.1 304.8,343.9 305.9,347.7 307.0,350.3 308.2,352.8 309.3,355.0 310.4,357.0 311.6,358.5 312.7,358.9 313.8,359.2 315.0,359.6 316.1,360.1 317.3,360.3 318.4,359.8 319.5,358.9 320.7,358.4 321.8,358.8 322.9,359.6 324.1,359.9 325.2,359.4 326.4,358.8 327.5,359.1 328.6,360.5 329.8,362.2 330.9,363.0 332.0,362.7 333.2,361.8 334.3,361.6 335.5,362.1 336.6,362.9 337.7,363.2 338.9,363.0 340.0,362.8 341.1,362.9 342.3,363.0 343.4,362.8 344.5,362.4 345.7,362.6 346.8,364.0 348.0,366.3 349.1,367.9 350.2,367.8 351.4,366.1 352.5,364.1 353.6,363.2 354.8,363.6 355.9,364.6 357.1,365.5 358.2,366.1 359.3,366.7 360.5,367.4 361.6,367.8 362.7,367.5 363.9,366.9 365.0,366.7 366.2,367.6 367.3,369.0 368.4,369.6 369.6,368.7 370.7,366.8 371.8,365.3 373.0,365.0 374.1,365.9 375.2,367.0 376.4,367.6 377.5,367.9 378.7,368.2 379.8,368.7 380.9,368.9 382.1,368.3 383.2,367.0 384.3,365.7 385.5,364.8 386.6,364.2 387.8,363.2 388.9,361.8 390.0,360.6 391.2,360.4 392.3,361.4 393.4,362.4 394.6,362.2 395.7,360.4 396.9,358.0 398.0,356.1 399.1,355.3 400.3,354.9 401.4,354.4 402.5,353.3 403.7,352.2 404.8,351.2 405.9,350.3 407.1,349.0 408.2,347.6 409.4,346.8 410.5,347.4 411.6,348.8 412.8,349.8 413.9,349.2 415.0,346.9"/>
<path class="cv" stroke="#f0c850" d="M226.3,299.2 227.4,299.6 228.6,300.0 229.7,300.4 230.8,300.7 232.0,300.5 233.1,299.5 234.3,297.7 235.4,295.9 236.5,294.9 237.7,295.1 238.8,296.3 239.9,297.7 241.1,298.4 242.2,298.4 243.4,297.8 244.5,297.3 245.6,297.2 246.8,297.3 247.9,297.3 249.0,296.9 250.2,296.2 251.3,295.6 252.5,295.3 253.6,295.5 254.7,295.5 255.9,295.2 257.0,294.7 258.1,294.3 259.3,294.7 260.4,295.8 261.5,297.1 262.7,298.0 263.8,297.7 265.0,296.4 266.1,294.9 267.2,293.8 268.4,293.6 269.5,294.0 270.6,294.5 271.8,294.8 272.9,294.6 274.1,294.2 275.2,293.9 276.3,293.6 277.5,293.3 278.6,293.0 279.7,293.1 280.9,293.7 282.0,295.1 283.1,296.9 284.3,298.7 285.4,299.8 286.6,300.0 287.7,299.7 288.8,299.7 290.0,300.7 291.1,303.3 292.2,308.1 293.4,313.3 294.5,318.4 295.7,322.6 296.8,324.7 297.9,326.1 299.1,327.3 300.2,328.0 301.3,328.6 302.5,330.2 303.6,333.8 304.8,338.3 305.9,343.4 307.0,348.3 308.2,352.6 309.3,355.2 310.4,356.1 311.6,356.2 312.7,356.6 313.8,357.6 315.0,358.8 316.1,359.7 317.3,359.9 318.4,359.5 319.5,359.1 320.7,358.9 321.8,358.8 322.9,358.8 324.1,358.5 325.2,358.2 326.4,358.3 327.5,359.1 328.6,360.3 329.8,361.4 330.9,361.8 332.0,361.3 333.2,360.5 334.3,360.0 335.5,360.4 336.6,361.3 337.7,362.2 338.9,362.5 340.0,361.9 341.1,361.0 342.3,360.3 343.4,360.2 344.5,360.7 345.7,361.4 346.8,362.1 348.0,362.6 349.1,363.4 350.2,364.3 351.4,365.2 352.5,365.5 353.6,364.8 354.8,363.3 355.9,361.8 357.1,361.1 358.2,361.4 359.3,362.6 360.5,363.9 361.6,364.6 362.7,364.7 363.9,364.4 365.0,364.4 366.2,364.8 367.3,365.4 368.4,365.8 369.6,365.6 370.7,365.1 371.8,364.7 373.0,364.6 374.1,364.8 375.2,364.9 376.4,364.6 377.5,364.1 378.7,363.9 379.8,364.5 380.9,365.8 382.1,367.2 383.2,367.9 384.3,367.2 385.5,365.4 386.6,363.1 387.8,361.2 388.9,360.0 390.0,359.3 391.2,358.8 392.3,358.2 393.4,357.7 394.6,357.4 395.7,357.5 396.9,357.7 398.0,357.5 399.1,356.5 400.3,355.0 401.4,353.5 402.5,352.5 403.7,352.1 404.8,351.7 405.9,350.8 407.1,349.2 408.2,347.2 409.4,345.7 410.5,345.2 411.6,345.7 412.8,346.7 413.9,347.4 415.0,347.4"/>
<path class="cv" stroke="#ee9a10" d="M226.3,297.0 227.4,296.2 228.6,296.3 229.7,297.2 230.8,298.5 232.0,299.6 233.1,300.0 234.3,299.7 235.4,299.0 236.5,298.4 237.7,298.1 238.8,298.2 239.9,298.2 241.1,297.7 242.2,296.8 243.4,295.6 244.5,294.8 245.6,294.8 246.8,295.5 247.9,296.5 249.0,297.3 250.2,297.4 251.3,297.1 252.5,296.5 253.6,296.2 254.7,296.4 255.9,296.8 257.0,296.9 258.1,296.5 259.3,295.4 260.4,294.1 261.5,293.2 262.7,293.1 263.8,293.8 265.0,294.9 266.1,296.0 267.2,296.5 268.4,296.5 269.5,296.3 270.6,296.2 271.8,296.3 272.9,296.2 274.1,295.6 275.2,294.4 276.3,292.9 277.5,291.7 278.6,291.3 279.7,292.0 280.9,293.6 282.0,295.5 283.1,297.4 284.3,298.5 285.4,298.9 286.6,298.7 287.7,298.5 288.8,298.9 290.0,300.1 291.1,302.1 292.2,305.0 293.4,308.8 294.5,312.9 295.7,317.7 296.8,321.4 297.9,324.3 299.1,326.8 300.2,328.7 301.3,329.6 302.5,330.6 303.6,333.2 304.8,336.8 305.9,340.7 307.0,344.8 308.2,348.7 309.3,351.8 310.4,353.5 311.6,354.5 312.7,355.3 313.8,356.2 315.0,357.8 316.1,359.2 317.3,359.9 318.4,359.7 319.5,358.7 320.7,357.5 321.8,356.6 322.9,356.4 324.1,356.6 325.2,356.8 326.4,356.9 327.5,356.7 328.6,356.7 329.8,357.2 330.9,358.3 332.0,359.6 333.2,360.7 334.3,361.0 335.5,360.5 336.6,359.7 337.7,359.0 338.9,358.9 340.0,359.5 341.1,360.4 342.3,361.1 343.4,361.4 344.5,361.2 345.7,361.1 346.8,361.4 348.0,362.3 349.1,363.4 350.2,364.4 351.4,364.8 352.5,364.5 353.6,363.9 354.8,363.5 355.9,363.7 357.1,364.3 358.2,365.1 359.3,365.6 360.5,365.5 361.6,365.1 362.7,364.8 363.9,365.0 365.0,365.9 366.2,367.1 367.3,368.0 368.4,368.2 369.6,367.6 370.7,366.5 371.8,365.6 373.0,365.2 374.1,365.2 375.2,365.5 376.4,365.5 377.5,365.2 378.7,364.7 379.8,364.6 380.9,365.1 382.1,366.2 383.2,367.4 384.3,368.1 385.5,367.7 386.6,366.2 387.8,364.2 388.9,362.4 390.0,361.0 391.2,360.2 392.3,359.7 393.4,359.2 394.6,358.4 395.7,357.7 396.9,357.3 398.0,357.4 399.1,357.9 400.3,358.2 401.4,357.8 402.5,356.3 403.7,354.1 404.8,351.6 405.9,349.7 407.1,348.7 408.2,348.6 409.4,349.0 410.5,349.3 411.6,349.2 412.8,349.0 413.9,348.8 415.0,348.9"/>
<path class="ax" d="M226.3,298.1H415.8"/>
<path class="ax" d="M264.2,276.5V376.9"/>
<path class="ax" d="M226.3,298.1V300.5"/>
<text class="tk" x="226.3" y="307.8" text-anchor="middle">-200</text>
<path class="ax" d="M302.1,298.1V300.5"/>
<text class="tk" x="302.1" y="307.8" text-anchor="middle">200</text>
<path class="ax" d="M340.0,298.1V300.5"/>
<text class="tk" x="340.0" y="307.8" text-anchor="middle">400</text>
<path class="ax" d="M377.9,298.1V300.5"/>
<text class="tk" x="377.9" y="307.8" text-anchor="middle">600</text>
<path class="ax" d="M415.8,298.1V300.5"/>
<text class="tk" x="415.8" y="307.8" text-anchor="middle">800</text>
<path class="ax" d="M262.4,280.2H264.2"/>
<text class="ty" transform="translate(261.9,283.0) scale(0.89,1)" text-anchor="end">-2.5</text>
<path class="ax" d="M262.4,316.0H264.2"/>
<text class="ty" transform="translate(261.9,318.8) scale(0.89,1)" text-anchor="end">2.5</text>
<path class="ax" d="M262.4,333.9H264.2"/>
<text class="ty" transform="translate(261.9,336.7) scale(0.89,1)" text-anchor="end">5</text>
<path class="ax" d="M262.4,351.8H264.2"/>
<text class="ty" transform="translate(261.9,354.6) scale(0.89,1)" text-anchor="end">7.5</text>
<path class="ax" d="M262.4,369.7H264.2"/>
<text class="ty" transform="translate(261.9,372.5) scale(0.89,1)" text-anchor="end">10</text>
<text class="t" x="265.8" y="279.0">CPz</text>
<text class="xl" x="420.0" y="293.6" text-anchor="end">latency (ms)</text>
<text class="yl" transform="translate(249.1,350.3) rotate(-90)" text-anchor="middle">Amplitude(uV)</text></g>
<g><rect x="546.6" y="299.3" width="24.4" height="82.0" fill="#f0f0f0"/>
<rect x="592.4" y="299.3" width="37.5" height="82.0" fill="#f0f0f0"/>
<path class="cv" stroke="#5a91c6" d="M441.4,297.8 442.5,299.5 443.7,300.7 444.8,300.8 445.9,299.8 447.1,298.2 448.2,297.0 449.4,296.6 450.5,297.2 451.6,298.2 452.8,298.9 453.9,298.8 455.0,297.8 456.2,296.5 457.3,295.6 458.5,295.8 459.6,296.9 460.7,298.2 461.9,298.8 463.0,298.2 464.1,296.5 465.3,294.5 466.4,293.2 467.6,293.4 468.7,295.0 469.8,297.2 471.0,298.9 472.1,299.1 473.2,297.7 474.4,295.3 475.5,293.1 476.6,292.2 477.8,292.9 478.9,294.7 480.1,296.6 481.2,297.6 482.3,297.4 483.5,296.0 484.6,294.5 485.7,293.6 486.9,293.8 488.0,294.8 489.2,295.9 490.3,296.5 491.4,296.3 492.6,295.8 493.7,295.7 494.8,296.5 496.0,298.6 497.1,301.5 498.2,304.5 499.4,307.0 500.5,308.7 501.7,310.2 502.8,309.8 503.9,307.4 505.1,305.7 506.2,307.5 507.3,313.8 508.5,319.3 509.6,323.0 510.8,325.4 511.9,326.7 513.0,327.9 514.2,329.2 515.3,331.7 516.4,335.7 517.6,340.2 518.7,344.8 519.9,349.1 521.0,353.3 522.1,357.0 523.3,359.1 524.4,360.2 525.5,361.0 526.7,361.3 527.8,361.2 528.9,361.0 530.1,361.0 531.2,361.5 532.4,362.6 533.5,363.9 534.6,365.0 535.8,365.5 536.9,365.3 538.0,364.8 539.2,364.4 540.3,364.7 541.5,365.8 542.6,367.5 543.7,369.1 544.9,370.1 546.0,370.3 547.1,369.8 548.3,369.2 549.4,368.8 550.6,368.8 551.7,368.8 552.8,368.7 554.0,368.2 555.1,367.3 556.2,366.5 557.4,366.3 558.5,366.6 559.6,367.3 560.8,367.7 561.9,367.3 563.1,366.0 564.2,364.2 565.3,362.6 566.5,362.0 567.6,362.7 568.7,364.4 569.9,366.3 571.0,367.5 572.2,367.3 573.3,366.1 574.4,364.4 575.6,363.2 576.7,363.2 577.8,364.3 579.0,366.0 580.1,367.2 581.3,367.5 582.4,366.7 583.5,365.5 584.7,364.6 585.8,364.7 586.9,365.5 588.1,366.6 589.2,367.2 590.3,366.7 591.5,365.3 592.6,363.6 593.8,362.7 594.9,363.0 596.0,364.5 597.2,366.3 598.3,367.4 599.4,366.9 600.6,364.8 601.7,361.9 602.9,359.3 604.0,358.0 605.1,358.3 606.3,359.6 607.4,360.7 608.5,360.7 609.7,359.2 610.8,356.6 612.0,353.9 613.1,352.1 614.2,351.6 615.4,352.2 616.5,352.9 617.6,353.0 618.8,352.0 619.9,350.2 621.0,348.3 622.2,347.0 623.3,346.5 624.5,346.6 625.6,346.4 626.7,345.3 627.9,342.0 629.0,337.3 630.1,334.7"/>
<path class="cv" stroke="#008c1e" d="M441.4,299.2 442.5,300.2 443.7,300.6 444.8,299.9 445.9,298.8 447.1,298.5 448.2,299.2 449.4,300.2 450.5,300.4 451.6,299.5 452.8,298.3 453.9,297.6 455.0,297.5 456.2,297.3 457.3,296.7 458.5,295.9 459.6,295.4 460.7,295.2 461.9,294.7 463.0,293.9 464.1,293.1 465.3,292.8 466.4,292.9 467.6,292.6 468.7,291.7 469.8,290.5 471.0,290.5 472.1,291.8 473.2,293.4 474.4,294.6 475.5,294.4 476.6,293.3 477.8,292.6 478.9,293.2 480.1,294.7 481.2,295.9 482.3,295.9 483.5,295.2 484.6,294.8 485.7,295.0 486.9,295.2 488.0,294.8 489.2,293.8 490.3,293.0 491.4,292.6 492.6,292.7 493.7,292.8 494.8,293.1 496.0,294.0 497.1,295.4 498.2,296.8 499.4,297.6 500.5,297.8 501.7,298.0 502.8,299.2 503.9,300.9 505.1,302.7 506.2,305.1 507.3,308.8 508.5,313.6 509.6,318.7 510.8,323.9 511.9,327.5 513.0,329.3 514.2,330.5 515.3,332.3 516.4,336.3 517.6,341.3 518.7,346.0 519.9,350.1 521.0,354.2 522.1,358.8 523.3,362.2 524.4,363.8 525.5,364.5 526.7,364.2 527.8,364.2 528.9,364.5 530.1,364.3 531.2,363.5 532.4,362.6 533.5,362.1 534.6,362.1 535.8,361.5 536.9,359.7 538.0,357.6 539.2,356.8 540.3,357.8 541.5,359.7 542.6,360.7 543.7,360.0 544.9,358.8 546.0,358.8 547.1,360.4 548.3,362.3 549.4,362.8 550.6,361.7 551.7,360.2 552.8,359.7 554.0,360.2 555.1,360.7 556.2,360.3 557.4,359.5 558.5,359.1 559.6,359.4 560.8,359.9 561.9,360.0 563.1,360.2 564.2,360.7 565.3,361.7 566.5,362.3 567.6,361.6 568.7,360.2 569.9,359.4 571.0,359.8 572.2,360.8 573.3,360.8 574.4,359.4 575.6,357.6 576.7,357.3 577.8,358.9 579.0,361.0 580.1,361.9 581.3,361.3 582.4,360.3 583.5,360.5 584.7,361.8 585.8,363.0 586.9,362.9 588.1,361.7 589.2,360.6 590.3,360.2 591.5,360.4 592.6,360.3 593.8,359.8 594.9,359.3 596.0,359.2 597.2,358.9 598.3,357.9 599.4,356.2 600.6,354.9 601.7,354.5 602.9,354.7 604.0,354.0 605.1,351.9 606.3,349.4 607.4,348.2 608.5,348.7 609.7,349.8 610.8,349.8 612.0,348.2 613.1,346.4 614.2,345.7 615.4,346.5 616.5,347.1 617.6,346.2 618.8,343.6 619.9,340.7 621.0,338.8 622.2,337.8 623.3,336.7 624.5,335.1 625.6,333.6 626.7,332.9 627.9,332.8 629.0,332.6 630.1,332.3"/>
<path class="cv" stroke="#005a14" d="M441.4,300.4 442.5,300.6 443.7,300.3 444.8,299.0 445.9,297.4 447.1,296.7 448.2,297.4 449.4,298.8 450.5,299.3 451.6,298.5 452.8,297.2 453.9,296.7 455.0,297.0 456.2,297.3 457.3,297.3 458.5,297.0 459.6,296.9 460.7,296.7 461.9,295.8 463.0,294.5 464.1,293.7 465.3,294.1 466.4,295.1 467.6,295.6 468.7,295.0 469.8,294.1 471.0,293.9 472.1,294.4 473.2,294.8 474.4,294.5 475.5,293.9 476.6,293.6 477.8,293.4 478.9,292.2 480.1,290.1 481.2,288.5 482.3,288.0 483.5,288.6 484.6,289.4 485.7,289.7 486.9,289.8 488.0,290.1 489.2,290.7 490.3,291.1 491.4,291.0 492.6,291.0 493.7,291.9 494.8,293.6 496.0,295.1 497.1,295.6 498.2,295.4 499.4,295.6 500.5,297.0 501.7,298.8 502.8,300.5 503.9,302.0 505.1,304.0 506.2,307.3 507.3,311.9 508.5,316.5 509.6,320.1 510.8,324.3 511.9,328.5 513.0,331.8 514.2,333.3 515.3,333.6 516.4,335.3 517.6,339.4 518.7,344.9 519.9,350.9 521.0,356.3 522.1,361.5 523.3,365.1 524.4,366.6 525.5,366.3 526.7,365.5 527.8,365.5 528.9,366.4 530.1,367.1 531.2,365.8 532.4,362.7 533.5,359.6 534.6,358.5 535.8,359.4 536.9,360.5 538.0,360.7 539.2,360.2 540.3,360.0 541.5,359.8 542.6,359.0 543.7,357.9 544.9,357.5 546.0,358.2 547.1,359.1 548.3,358.6 549.4,356.7 550.6,355.0 551.7,354.9 552.8,356.2 554.0,357.4 555.1,357.4 556.2,357.0 557.4,357.3 558.5,358.1 559.6,358.3 560.8,357.5 561.9,356.6 563.1,356.7 564.2,357.6 565.3,358.1 566.5,357.3 567.6,356.2 568.7,356.1 569.9,356.8 571.0,357.3 572.2,357.1 573.3,356.7 574.4,357.3 575.6,358.6 576.7,359.0 577.8,358.0 579.0,356.5 580.1,356.4 581.3,357.9 582.4,359.8 583.5,360.4 584.7,359.9 585.8,359.4 586.9,359.4 588.1,359.6 589.2,359.5 590.3,359.7 591.5,361.0 592.6,362.7 593.8,363.1 594.9,361.3 596.0,358.4 597.2,356.7 598.3,357.1 599.4,358.3 600.6,358.4 601.7,356.9 602.9,355.1 604.0,353.8 605.1,353.2 606.3,352.6 607.4,352.3 608.5,352.7 609.7,353.6 610.8,353.4 612.0,351.2 613.1,348.1 614.2,346.2 615.4,346.6 616.5,348.0 617.6,348.3 618.8,346.9 619.9,344.9 621.0,343.8 622.2,343.5 623.3,343.3 624.5,342.9 625.6,342.8 626.7,343.1 627.9,343.0 629.0,341.4 630.1,339.1"/>
<path class="cv" stroke="#889f05" d="M441.4,297.6 442.5,298.3 443.7,299.3 444.8,300.2 445.9,300.5 447.1,300.2 448.2,299.4 449.4,298.5 450.5,297.7 451.6,297.3 452.8,297.2 453.9,297.3 455.0,297.4 456.2,297.3 457.3,297.0 458.5,296.5 459.6,296.2 460.7,296.2 461.9,296.4 463.0,296.9 464.1,297.3 465.3,297.3 466.4,296.8 467.6,295.9 468.7,294.7 469.8,293.7 471.0,293.2 472.1,293.4 473.2,294.3 474.4,295.4 475.5,296.3 476.6,296.6 477.8,296.2 478.9,295.3 480.1,294.1 481.2,293.1 482.3,292.7 483.5,293.0 484.6,293.6 485.7,294.1 486.9,294.1 488.0,293.4 489.2,292.0 490.3,290.3 491.4,288.6 492.6,288.8 493.7,291.8 494.8,294.1 496.0,296.2 497.1,297.9 498.2,299.2 499.4,299.8 500.5,300.0 501.7,299.6 502.8,299.5 503.9,300.0 505.1,301.7 506.2,305.1 507.3,310.4 508.5,316.1 509.6,320.4 510.8,323.7 511.9,325.8 513.0,326.9 514.2,327.8 515.3,328.8 516.4,331.4 517.6,335.4 518.7,340.1 519.9,345.3 521.0,350.3 522.1,355.2 523.3,358.1 524.4,359.1 525.5,359.2 526.7,358.5 527.8,358.0 528.9,358.1 530.1,358.5 531.2,359.1 532.4,359.8 533.5,360.4 534.6,361.0 535.8,361.3 536.9,361.5 538.0,361.5 539.2,361.5 540.3,361.4 541.5,361.4 542.6,361.6 543.7,362.0 544.9,362.5 546.0,363.1 547.1,363.4 548.3,363.6 549.4,363.4 550.6,363.1 551.7,362.8 552.8,362.6 554.0,362.9 555.1,363.4 556.2,364.0 557.4,364.6 558.5,364.8 559.6,364.5 560.8,363.7 561.9,362.6 563.1,361.7 564.2,361.2 565.3,361.5 566.5,362.4 567.6,363.7 568.7,364.9 569.9,365.8 571.0,366.0 572.2,365.5 573.3,364.6 574.4,363.6 575.6,363.0 576.7,363.1 577.8,363.8 579.0,365.0 580.1,366.3 581.3,367.2 582.4,367.6 583.5,367.4 584.7,366.8 585.8,366.2 586.9,365.7 588.1,365.4 589.2,365.2 590.3,364.8 591.5,364.3 592.6,363.5 593.8,362.8 594.9,362.1 596.0,361.8 597.2,361.9 598.3,362.3 599.4,362.7 600.6,362.8 601.7,362.3 602.9,361.2 604.0,359.6 605.1,357.9 606.3,356.5 607.4,355.7 608.5,355.5 609.7,355.7 610.8,355.9 612.0,355.8 613.1,355.0 614.2,353.6 615.4,351.9 616.5,350.2 617.6,349.0 618.8,348.4 619.9,348.5 621.0,348.7 622.2,348.8 623.3,348.4 624.5,347.3 625.6,345.7 626.7,344.1 627.9,342.9 629.0,342.5 630.1,343.1"/>
<path class="cv" stroke="#f0c850" d="M441.4,298.8 442.5,297.2 443.7,296.6 444.8,297.5 445.9,298.9 447.1,299.7 448.2,299.6 449.4,299.0 450.5,298.4 451.6,297.8 452.8,297.1 453.9,296.6 455.0,296.7 456.2,297.5 457.3,298.1 458.5,297.7 459.6,296.6 460.7,295.9 461.9,296.3 463.0,297.1 464.1,297.2 465.3,296.2 466.4,295.0 467.6,295.0 468.7,296.3 469.8,297.4 471.0,297.0 472.1,295.3 473.2,294.1 474.4,294.5 475.5,296.0 476.6,297.1 477.8,296.6 478.9,295.0 480.1,293.9 481.2,294.1 482.3,295.0 483.5,295.7 484.6,295.7 485.7,295.6 486.9,295.7 488.0,295.7 489.2,295.0 490.3,293.9 491.4,292.9 492.6,292.6 493.7,292.9 494.8,293.5 496.0,294.4 497.1,295.8 498.2,297.6 499.4,299.2 500.5,299.6 501.7,298.9 502.8,298.1 503.9,298.6 505.1,300.8 506.2,304.1 507.3,307.8 508.5,312.2 509.6,315.8 510.8,319.3 511.9,322.7 513.0,325.0 514.2,326.3 515.3,327.0 516.4,329.2 517.6,333.7 518.7,339.1 519.9,344.1 521.0,347.9 522.1,351.2 523.3,353.9 524.4,355.5 525.5,356.6 526.7,357.2 527.8,357.8 528.9,358.8 530.1,359.6 531.2,359.6 532.4,358.7 533.5,357.4 534.6,356.9 535.8,357.0 536.9,357.4 538.0,357.4 539.2,357.7 540.3,358.9 541.5,360.7 542.6,361.8 543.7,360.9 544.9,358.5 546.0,356.6 547.1,356.9 548.3,358.9 549.4,360.9 550.6,361.4 551.7,360.6 552.8,360.0 554.0,360.3 555.1,360.9 556.2,360.7 557.4,359.6 558.5,358.6 559.6,359.0 560.8,360.5 561.9,362.1 563.1,362.7 564.2,362.4 565.3,361.8 566.5,361.5 567.6,361.3 568.7,361.1 569.9,361.3 571.0,362.1 572.2,363.2 573.3,363.7 574.4,363.1 575.6,362.1 576.7,361.9 577.8,362.9 579.0,363.9 580.1,363.9 581.3,362.9 582.4,362.0 583.5,362.6 584.7,364.0 585.8,364.7 586.9,363.8 588.1,362.1 589.2,361.3 590.3,362.1 591.5,363.6 592.6,363.9 593.8,362.5 594.9,360.6 596.0,359.7 597.2,360.0 598.3,360.7 599.4,360.9 600.6,360.3 601.7,359.7 602.9,359.3 604.0,358.8 605.1,357.7 606.3,356.3 607.4,355.3 608.5,355.0 609.7,354.9 610.8,354.6 612.0,354.0 613.1,353.7 614.2,353.6 615.4,353.0 616.5,351.2 617.6,348.6 618.8,346.8 619.9,346.9 621.0,348.6 622.2,349.8 623.3,349.0 624.5,346.8 625.6,344.6 626.7,343.7 627.9,343.4 629.0,342.6 630.1,341.4"/>
<path class="cv" stroke="#ee9a10" d="M441.4,299.2 442.5,299.6 443.7,299.8 444.8,299.3 445.9,298.2 447.1,296.9 448.2,296.3 449.4,296.8 450.5,298.1 451.6,299.3 452.8,299.5 453.9,298.6 455.0,297.3 456.2,296.3 457.3,296.4 458.5,297.1 459.6,297.6 460.7,297.4 461.9,296.3 463.0,295.2 464.1,295.0 465.3,295.9 466.4,297.3 467.6,298.1 468.7,297.6 469.8,295.9 471.0,294.2 472.1,293.5 473.2,294.2 474.4,295.7 475.5,296.9 476.6,296.8 477.8,295.8 478.9,294.8 480.1,294.6 481.2,295.5 482.3,296.6 483.5,296.9 484.6,295.7 485.7,293.8 486.9,292.4 488.0,292.5 489.2,293.9 490.3,295.5 491.4,296.3 492.6,295.9 493.7,294.9 494.8,294.3 496.0,294.7 497.1,295.7 498.2,296.9 499.4,297.3 500.5,296.9 501.7,296.0 502.8,295.7 503.9,296.7 505.1,299.1 506.2,302.5 507.3,305.8 508.5,309.7 509.6,313.3 510.8,316.3 511.9,319.4 513.0,322.3 514.2,324.7 515.3,326.2 516.4,327.3 517.6,329.6 518.7,333.2 519.9,338.1 521.0,343.8 522.1,349.3 523.3,353.7 524.4,355.4 525.5,355.4 526.7,355.0 527.8,354.8 528.9,355.3 530.1,355.8 531.2,355.8 532.4,355.3 533.5,354.9 534.6,355.2 535.8,356.3 536.9,357.5 538.0,358.1 539.2,357.8 540.3,356.8 541.5,355.8 542.6,355.5 543.7,356.0 544.9,356.8 546.0,357.5 547.1,357.8 548.3,357.6 549.4,357.4 550.6,357.4 551.7,357.6 552.8,357.9 554.0,357.8 555.1,357.5 556.2,357.2 557.4,357.1 558.5,357.5 559.6,358.3 560.8,359.2 561.9,359.8 563.1,360.1 564.2,360.2 565.3,360.0 566.5,359.9 567.6,359.7 568.7,359.7 569.9,360.1 571.0,360.8 572.2,361.7 573.3,362.6 574.4,363.3 575.6,363.7 576.7,363.8 577.8,363.8 579.0,363.8 580.1,363.6 581.3,363.1 582.4,362.3 583.5,361.6 584.7,361.3 585.8,361.8 586.9,362.9 588.1,364.1 589.2,364.8 590.3,364.6 591.5,363.6 592.6,362.5 593.8,361.8 594.9,361.4 596.0,361.1 597.2,360.3 598.3,359.2 599.4,358.1 600.6,357.8 601.7,358.4 602.9,359.7 604.0,360.7 605.1,360.5 606.3,359.0 607.4,356.9 608.5,355.1 609.7,354.3 610.8,354.2 612.0,354.2 613.1,353.5 614.2,352.2 615.4,351.0 616.5,350.6 617.6,351.3 618.8,352.5 619.9,353.0 621.0,352.0 622.2,349.8 623.3,347.4 624.5,346.0 625.6,345.9 626.7,346.7 627.9,347.1 629.0,346.5 630.1,345.3"/>
<path class="ax" d="M441.4,298.1H630.9"/>
<path class="ax" d="M479.3,276.5V376.9"/>
<path class="ax" d="M441.4,298.1V300.5"/>
<text class="tk" x="441.4" y="307.8" text-anchor="middle">-200</text>
<path class="ax" d="M517.2,298.1V300.5"/>
<text class="tk" x="517.2" y="307.8" text-anchor="middle">200</text>
<path class="ax" d="M555.1,298.1V300.5"/>
<text class="tk" x="555.1" y="307.8" text-anchor="middle">400</text>
<path class="ax" d="M593.0,298.1V300.5"/>
<text class="tk" x="593.0" y="307.8" text-anchor="middle">600</text>
<path class="ax" d="M630.9,298.1V300.5"/>
<text class="tk" x="630.9" y="307.8" text-anchor="middle">800</text>
<path class="ax" d="M477.5,280.2H479.3"/>
<text class="ty" transform="translate(477.0,283.0) scale(0.89,1)" text-anchor="end">-2.5</text>
<path class="ax" d="M477.5,316.0H479.3"/>
<text class="ty" transform="translate(477.0,318.8) scale(0.89,1)" text-anchor="end">2.5</text>
<path class="ax" d="M477.5,333.9H479.3"/>
<text class="ty" transform="translate(477.0,336.7) scale(0.89,1)" text-anchor="end">5</text>
<path class="ax" d="M477.5,351.8H479.3"/>
<text class="ty" transform="translate(477.0,354.6) scale(0.89,1)" text-anchor="end">7.5</text>
<path class="ax" d="M477.5,369.7H479.3"/>
<text class="ty" transform="translate(477.0,372.5) scale(0.89,1)" text-anchor="end">10</text>
<text class="t" x="480.9" y="279.0">CP2</text>
<text class="xl" x="635.1" y="293.6" text-anchor="end">latency (ms)</text>
<text class="yl" transform="translate(464.2,350.3) rotate(-90)" text-anchor="middle">Amplitude(uV)</text></g>
<g><rect x="113.5" y="420.0" width="24.4" height="82.0" fill="#f0f0f0"/>
<rect x="159.3" y="420.0" width="37.5" height="82.0" fill="#f0f0f0"/>
<path class="cv" stroke="#5a91c6" d="M8.3,418.9 9.4,418.2 10.6,418.6 11.7,419.8 12.8,420.6 14.0,420.0 15.1,418.3 16.3,417.0 17.4,417.2 18.5,418.3 19.7,419.2 20.8,419.2 21.9,418.8 23.1,418.7 24.2,418.8 25.4,418.5 26.5,417.7 27.6,416.9 28.8,416.7 29.9,416.9 31.0,416.5 32.2,415.4 33.3,414.6 34.5,415.3 35.6,417.3 36.7,419.2 37.9,419.7 39.0,418.5 40.1,416.9 41.3,415.6 42.4,415.0 43.5,414.4 44.7,414.2 45.8,414.6 47.0,415.8 48.1,416.9 49.2,416.9 50.4,416.1 51.5,415.5 52.6,415.9 53.8,417.1 54.9,417.5 56.1,416.7 57.2,415.6 58.3,415.3 59.5,415.9 60.6,416.6 61.7,417.4 62.9,419.3 64.0,421.8 65.2,424.7 66.3,427.7 67.4,431.6 68.6,435.0 69.7,433.1 70.8,430.7 72.0,431.5 73.1,432.9 74.2,434.3 75.4,436.8 76.5,438.9 77.7,441.0 78.8,443.3 79.9,445.3 81.1,448.4 82.2,452.6 83.3,458.0 84.5,464.3 85.6,469.8 86.8,474.7 87.9,479.2 89.0,483.1 90.2,485.2 91.3,484.6 92.4,483.0 93.6,482.3 94.7,483.0 95.8,484.2 97.0,484.8 98.1,484.3 99.3,483.3 100.4,482.5 101.5,482.1 102.7,481.6 103.8,481.4 104.9,482.0 106.1,483.7 107.2,485.6 108.4,486.5 109.5,486.0 110.6,485.2 111.8,485.5 112.9,487.0 114.0,488.5 115.2,488.9 116.3,488.6 117.5,488.3 118.6,488.5 119.7,488.7 120.9,488.2 122.0,487.3 123.1,486.5 124.3,485.9 125.4,485.0 126.5,483.4 127.7,481.4 128.8,480.4 130.0,480.9 131.1,481.9 132.2,482.0 133.4,480.5 134.5,478.2 135.6,476.3 136.8,475.4 137.9,474.9 139.1,474.6 140.2,474.7 141.3,475.4 142.5,476.4 143.6,476.7 144.7,476.0 145.9,475.0 147.0,474.9 148.2,475.5 149.3,475.9 150.4,475.1 151.6,473.3 152.7,472.0 153.8,471.9 155.0,472.8 156.1,473.4 157.2,473.5 158.4,473.3 159.5,473.4 160.7,473.6 161.8,473.4 162.9,473.1 164.1,473.4 165.2,474.8 166.3,476.4 167.5,476.6 168.6,474.9 169.8,472.4 170.9,470.6 172.0,470.1 173.2,470.3 174.3,470.1 175.4,469.6 176.6,469.2 177.7,469.0 178.9,468.4 180.0,467.0 181.1,465.2 182.3,463.7 183.4,462.9 184.5,462.0 185.7,460.2 186.8,457.9 187.9,456.5 189.1,456.7 190.2,458.0 191.4,458.7 192.5,458.0 193.6,456.1 194.8,454.0 195.9,451.7 197.0,449.2"/>
<path class="cv" stroke="#008c1e" d="M8.3,420.6 9.4,420.7 10.6,420.8 11.7,420.8 12.8,420.7 14.0,420.5 15.1,420.2 16.3,419.9 17.4,419.5 18.5,419.1 19.7,418.8 20.8,418.5 21.9,418.3 23.1,418.1 24.2,417.8 25.4,417.4 26.5,416.9 27.6,416.3 28.8,415.5 29.9,414.5 31.0,413.7 32.2,413.0 33.3,412.4 34.5,411.9 35.6,411.7 36.7,411.8 37.9,412.5 39.0,413.5 40.1,414.1 41.3,414.8 42.4,415.0 43.5,414.8 44.7,414.2 45.8,413.9 47.0,414.2 48.1,415.0 49.2,415.9 50.4,416.4 51.5,416.5 52.6,416.2 53.8,415.8 54.9,415.2 56.1,414.4 57.2,413.5 58.3,412.9 59.5,412.8 60.6,413.5 61.7,415.3 62.9,418.1 64.0,421.4 65.2,424.4 66.3,426.7 67.4,427.8 68.6,426.6 69.7,423.3 70.8,420.7 72.0,420.8 73.1,422.5 74.2,425.2 75.4,429.6 76.5,433.9 77.7,436.8 78.8,439.4 79.9,441.7 81.1,444.4 82.2,448.5 83.3,453.5 84.5,460.0 85.6,467.3 86.8,473.7 87.9,479.6 89.0,484.4 90.2,488.1 91.3,489.7 92.4,489.9 93.6,489.8 94.7,489.8 95.8,489.4 97.0,488.4 98.1,486.4 99.3,483.9 100.4,481.7 101.5,480.5 102.7,479.8 103.8,479.7 104.9,480.1 106.1,480.7 107.2,481.5 108.4,482.4 109.5,483.1 110.6,483.5 111.8,483.8 112.9,484.1 114.0,484.6 115.2,485.1 116.3,485.5 117.5,485.9 118.6,486.0 119.7,485.8 120.9,485.5 122.0,484.8 123.1,484.0 124.3,482.9 125.4,481.5 126.5,480.1 127.7,478.9 128.8,478.1 130.0,477.7 131.1,477.7 132.2,477.9 133.4,478.2 134.5,478.4 135.6,478.3 136.8,478.0 137.9,477.4 139.1,476.6 140.2,475.7 141.3,474.9 142.5,474.3 143.6,474.1 144.7,474.1 145.9,474.4 147.0,474.8 148.2,475.1 149.3,475.3 150.4,475.1 151.6,474.7 152.7,473.9 153.8,473.0 155.0,472.2 156.1,471.5 157.2,471.2 158.4,471.3 159.5,471.7 160.7,472.2 161.8,472.8 162.9,473.2 164.1,473.2 165.2,472.8 166.3,471.9 167.5,470.8 168.6,469.5 169.8,468.3 170.9,467.2 172.0,466.5 173.2,466.1 174.3,465.9 175.4,465.8 176.6,465.6 177.7,465.2 178.9,464.4 180.0,463.3 181.1,461.8 182.3,460.2 183.4,458.4 184.5,456.8 185.7,455.3 186.8,454.2 187.9,453.3 189.1,452.6 190.2,452.0 191.4,451.4 192.5,450.6 193.6,449.6 194.8,448.4 195.9,446.9 197.0,445.3"/>
<path class="cv" stroke="#005a14" d="M8.3,420.6 9.4,420.7 10.6,420.6 11.7,420.0 12.8,419.2 14.0,418.8 15.1,419.0 16.3,419.3 17.4,419.2 18.5,418.3 19.7,417.1 20.8,416.6 21.9,417.4 23.1,418.7 24.2,419.5 25.4,418.9 26.5,417.2 27.6,415.6 28.8,415.0 29.9,415.5 31.0,416.2 32.2,416.3 33.3,415.7 34.5,415.0 35.6,414.7 36.7,414.8 37.9,415.2 39.0,415.3 40.1,415.3 41.3,415.4 42.4,415.4 43.5,415.0 44.7,413.8 45.8,411.4 47.0,409.4 48.1,408.9 49.2,409.6 50.4,410.6 51.5,411.1 52.6,410.7 53.8,410.1 54.9,410.0 56.1,410.7 57.2,412.0 58.3,412.8 59.5,412.8 60.6,413.0 61.7,414.2 62.9,416.6 64.0,419.6 65.2,422.3 66.3,424.1 67.4,424.9 68.6,424.5 69.7,422.9 70.8,422.0 72.0,422.8 73.1,424.3 74.2,426.4 75.4,430.2 76.5,434.8 77.7,437.8 78.8,439.9 79.9,441.6 81.1,443.8 82.2,448.1 83.3,454.0 84.5,461.3 85.6,469.2 86.8,475.8 87.9,481.9 89.0,487.4 90.2,491.8 91.3,493.2 92.4,491.9 93.6,489.8 94.7,488.8 95.8,489.2 97.0,490.4 98.1,490.7 99.3,488.7 100.4,485.2 101.5,481.9 102.7,480.6 103.8,481.0 104.9,481.6 106.1,481.2 107.2,479.7 108.4,477.9 109.5,476.8 110.6,476.4 111.8,476.5 112.9,476.5 114.0,476.8 115.2,477.5 116.3,478.5 117.5,478.9 118.6,478.2 119.7,476.8 120.9,475.7 122.0,475.9 123.1,477.4 124.3,478.6 125.4,478.4 126.5,476.6 127.7,474.8 128.8,474.5 130.0,476.0 131.1,478.1 132.2,479.3 133.4,478.7 134.5,477.1 135.6,475.8 136.8,475.5 137.9,475.6 139.1,475.5 140.2,474.7 141.3,474.0 142.5,473.8 143.6,474.3 144.7,474.8 145.9,474.6 147.0,473.9 148.2,473.5 149.3,473.9 150.4,474.7 151.6,475.0 152.7,474.1 153.8,472.4 155.0,471.2 156.1,471.1 157.2,472.0 158.4,472.7 159.5,472.6 160.7,472.0 161.8,471.7 162.9,472.4 164.1,473.3 165.2,473.4 166.3,471.9 167.5,469.7 168.6,468.1 169.8,467.9 170.9,468.5 172.0,468.6 173.2,467.5 174.3,465.6 175.4,464.2 176.6,464.3 177.7,465.5 178.9,466.4 180.0,466.2 181.1,464.7 182.3,463.0 183.4,461.7 184.5,460.7 185.7,459.7 186.8,458.6 187.9,457.8 189.1,457.7 190.2,458.0 191.4,457.8 192.5,456.6 193.6,454.6 194.8,453.1 195.9,453.0 197.0,453.9"/>
<path class="cv" stroke="#889f05" d="M8.3,421.2 9.4,419.4 10.6,418.3 11.7,418.5 12.8,419.2 14.0,419.4 15.1,419.0 16.3,419.0 17.4,419.7 18.5,420.3 19.7,419.6 20.8,417.9 21.9,416.4 23.1,416.4 24.2,417.5 25.4,418.4 26.5,418.3 27.6,417.7 28.8,417.5 29.9,417.7 31.0,417.6 32.2,416.5 33.3,415.0 34.5,414.6 35.6,415.5 36.7,416.6 37.9,416.7 39.0,415.8 40.1,415.0 41.3,415.3 42.4,416.1 43.5,416.4 44.7,415.8 45.8,415.1 47.0,415.2 48.1,415.7 49.2,415.5 50.4,414.1 51.5,412.5 52.6,412.0 53.8,412.7 54.9,413.5 56.1,413.5 57.2,413.0 58.3,412.8 59.5,413.2 60.6,414.1 61.7,415.1 62.9,416.3 64.0,418.1 65.2,421.0 66.3,424.1 67.4,426.1 68.6,425.0 69.7,421.3 70.8,418.9 72.0,420.2 73.1,423.1 74.2,425.7 75.4,428.6 76.5,431.9 77.7,434.5 78.8,436.7 79.9,438.2 81.1,439.7 82.2,443.0 83.3,448.3 84.5,455.5 85.6,463.2 86.8,469.2 87.9,474.3 89.0,478.6 90.2,481.7 91.3,482.3 92.4,480.6 93.6,479.1 94.7,479.0 95.8,480.2 97.0,481.5 98.1,481.7 99.3,480.7 100.4,479.6 101.5,479.0 102.7,478.7 103.8,477.7 104.9,476.1 106.1,475.3 107.2,475.8 108.4,476.9 109.5,477.3 110.6,476.8 111.8,476.5 112.9,477.4 114.0,479.2 115.2,480.6 116.3,480.7 117.5,479.9 118.6,479.3 119.7,479.0 120.9,478.4 122.0,476.8 123.1,475.1 124.3,474.6 125.4,475.9 126.5,477.8 127.7,478.7 128.8,478.3 130.0,477.4 131.1,477.0 132.2,476.8 133.4,475.9 134.5,474.4 135.6,473.2 136.8,473.4 137.9,474.6 139.1,475.5 140.2,475.1 141.3,474.0 142.5,473.6 143.6,474.3 144.7,475.1 145.9,475.0 147.0,474.2 148.2,473.7 149.3,474.0 150.4,474.3 151.6,473.8 152.7,472.5 153.8,471.6 155.0,472.2 156.1,473.8 157.2,474.8 158.4,474.4 159.5,473.3 160.7,472.5 161.8,472.2 162.9,471.8 164.1,470.7 165.2,469.4 166.3,469.3 167.5,470.2 168.6,471.2 169.8,470.8 170.9,469.1 172.0,467.3 173.2,466.6 174.3,466.4 175.4,466.0 176.6,464.9 177.7,464.1 178.9,464.1 180.0,464.6 181.1,464.3 182.3,462.6 183.4,460.5 184.5,459.3 185.7,459.3 186.8,459.3 187.9,458.2 189.1,456.4 190.2,454.9 191.4,454.3 192.5,453.9 193.6,452.9 194.8,451.3 195.9,450.2 197.0,450.1"/>
<path class="cv" stroke="#f0c850" d="M8.3,418.7 9.4,419.0 10.6,419.4 11.7,419.5 12.8,419.1 14.0,418.8 15.1,419.0 16.3,419.6 17.4,419.9 18.5,419.4 19.7,418.2 20.8,417.0 21.9,416.8 23.1,417.7 24.2,418.9 25.4,419.1 26.5,418.1 27.6,416.7 28.8,416.1 29.9,416.7 31.0,417.7 32.2,418.0 33.3,417.0 34.5,415.7 35.6,415.3 36.7,416.3 37.9,417.8 39.0,418.3 40.1,417.3 41.3,415.4 42.4,414.3 43.5,414.9 44.7,416.5 45.8,417.6 47.0,417.1 48.1,415.5 49.2,414.5 50.4,414.9 51.5,416.5 52.6,417.6 53.8,417.1 54.9,415.3 56.1,413.7 57.2,413.5 58.3,414.6 59.5,415.6 60.6,416.0 61.7,416.3 62.9,417.3 64.0,419.6 65.2,422.8 66.3,425.7 67.4,427.3 68.6,425.6 69.7,421.7 70.8,419.3 72.0,420.6 73.1,423.6 74.2,426.5 75.4,429.0 76.5,432.1 77.7,434.6 78.8,437.1 79.9,439.9 81.1,442.2 82.2,444.7 83.3,448.0 84.5,452.8 85.6,459.9 86.8,467.0 87.9,473.4 89.0,478.2 90.2,481.3 91.3,483.1 92.4,483.4 93.6,483.3 94.7,482.8 95.8,481.7 97.0,480.1 98.1,478.9 99.3,478.3 100.4,478.0 101.5,477.8 102.7,477.3 103.8,476.5 104.9,475.9 106.1,475.6 107.2,475.6 108.4,475.7 109.5,475.8 110.6,476.0 111.8,476.4 112.9,476.8 114.0,476.9 115.2,476.7 116.3,476.4 117.5,476.2 118.6,476.4 119.7,476.6 120.9,476.6 122.0,476.3 123.1,476.0 124.3,476.0 125.4,476.4 126.5,476.5 127.7,475.8 128.8,474.5 130.0,473.4 131.1,473.3 132.2,474.2 133.4,475.3 134.5,475.4 135.6,474.4 136.8,473.1 137.9,472.5 139.1,472.9 140.2,473.5 141.3,473.4 142.5,472.4 143.6,471.3 144.7,471.3 145.9,472.5 147.0,474.0 148.2,474.3 149.3,472.9 150.4,470.8 151.6,469.7 152.7,470.3 153.8,472.0 155.0,473.1 156.1,472.8 157.2,471.5 158.4,470.6 159.5,471.0 160.7,472.2 161.8,472.6 162.9,471.5 164.1,469.5 165.2,468.3 166.3,468.8 167.5,470.6 168.6,471.9 169.8,471.2 170.9,468.8 172.0,466.1 173.2,464.7 174.3,464.8 175.4,465.2 176.6,464.7 177.7,463.2 178.9,461.8 180.0,461.6 181.1,462.5 182.3,463.3 183.4,462.6 184.5,460.3 185.7,457.6 186.8,456.2 187.9,456.6 189.1,457.7 190.2,458.2 191.4,457.2 192.5,455.4 193.6,453.8 194.8,453.2 195.9,453.1 197.0,452.6"/>
<path class="cv" stroke="#ee9a10" d="M8.3,420.2 9.4,419.8 10.6,419.3 11.7,419.0 12.8,418.9 14.0,419.0 15.1,419.1 16.3,419.2 17.4,419.1 18.5,418.6 19.7,418.0 20.8,417.4 21.9,417.1 23.1,417.2 24.2,417.7 25.4,418.4 26.5,418.9 27.6,419.0 28.8,418.7 29.9,417.8 31.0,416.8 32.2,415.9 33.3,415.4 34.5,415.3 35.6,415.7 36.7,416.3 37.9,416.7 39.0,417.0 40.1,417.0 41.3,416.8 42.4,416.6 43.5,416.4 44.7,416.3 45.8,416.3 47.0,416.3 48.1,416.1 49.2,415.8 50.4,415.5 51.5,415.2 52.6,415.1 53.8,415.2 54.9,415.4 56.1,415.5 57.2,415.4 58.3,415.2 59.5,415.2 60.6,415.6 61.7,416.8 62.9,418.7 64.0,421.0 65.2,423.2 66.3,424.8 67.4,425.2 68.6,423.3 69.7,419.4 70.8,416.7 72.0,417.2 73.1,419.7 74.2,423.2 75.4,427.1 76.5,432.0 77.7,436.1 78.8,438.5 79.9,440.2 81.1,441.3 82.2,443.0 83.3,446.0 84.5,450.3 85.6,456.6 86.8,463.7 87.9,470.4 89.0,476.6 90.2,481.7 91.3,485.4 92.4,486.9 93.6,486.5 94.7,485.5 95.8,483.9 97.0,481.9 98.1,479.7 99.3,477.3 100.4,475.0 101.5,473.6 102.7,473.4 103.8,474.3 104.9,475.8 106.1,477.4 107.2,478.7 108.4,479.2 109.5,478.9 110.6,477.9 111.8,476.8 112.9,475.9 114.0,475.5 115.2,475.7 116.3,476.4 117.5,477.1 118.6,477.6 119.7,477.7 120.9,477.4 122.0,476.8 123.1,476.2 124.3,475.7 125.4,475.5 126.5,475.5 127.7,475.6 128.8,475.6 130.0,475.5 131.1,475.3 132.2,475.1 133.4,474.9 134.5,474.7 135.6,474.6 136.8,474.3 137.9,473.9 139.1,473.5 140.2,473.0 141.3,472.8 142.5,472.9 143.6,473.3 144.7,474.0 145.9,474.7 147.0,475.1 148.2,474.9 149.3,474.1 150.4,472.9 151.6,471.6 152.7,470.6 153.8,470.1 155.0,470.3 156.1,470.9 157.2,471.8 158.4,472.4 159.5,472.8 160.7,472.6 161.8,472.2 162.9,471.5 164.1,470.9 165.2,470.4 166.3,470.1 167.5,469.7 168.6,469.2 169.8,468.6 170.9,468.0 172.0,467.4 173.2,466.9 174.3,466.7 175.4,466.8 176.6,466.8 177.7,466.7 178.9,466.3 180.0,465.5 181.1,464.4 182.3,463.2 183.4,462.1 184.5,461.1 185.7,460.3 186.8,459.5 187.9,458.8 189.1,457.9 190.2,457.1 191.4,456.4 192.5,455.9 193.6,455.8 194.8,455.9 195.9,456.1 197.0,456.0"/>
<path class="ax" d="M8.3,418.8H197.8"/>
<path class="ax" d="M46.2,397.2V497.6"/>
<path class="ax" d="M8.3,418.8V421.2"/>
<text class="tk" x="8.3" y="428.5" text-anchor="middle">-200</text>
<path class="ax" d="M84.1,418.8V421.2"/>
<text class="tk" x="84.1" y="428.5" text-anchor="middle">200</text>
<path class="ax" d="M122.0,418.8V421.2"/>
<text class="tk" x="122.0" y="428.5" text-anchor="middle">400</text>
<path class="ax" d="M159.9,418.8V421.2"/>
<text class="tk" x="159.9" y="428.5" text-anchor="middle">600</text>
<path class="ax" d="M197.8,418.8V421.2"/>
<text class="tk" x="197.8" y="428.5" text-anchor="middle">800</text>
<path class="ax" d="M44.4,400.9H46.2"/>
<text class="ty" transform="translate(43.9,403.7) scale(0.89,1)" text-anchor="end">-2.5</text>
<path class="ax" d="M44.4,436.7H46.2"/>
<text class="ty" transform="translate(43.9,439.5) scale(0.89,1)" text-anchor="end">2.5</text>
<path class="ax" d="M44.4,454.6H46.2"/>
<text class="ty" transform="translate(43.9,457.4) scale(0.89,1)" text-anchor="end">5</text>
<path class="ax" d="M44.4,472.5H46.2"/>
<text class="ty" transform="translate(43.9,475.3) scale(0.89,1)" text-anchor="end">7.5</text>
<path class="ax" d="M44.4,490.4H46.2"/>
<text class="ty" transform="translate(43.9,493.2) scale(0.89,1)" text-anchor="end">10</text>
<text class="t" x="47.8" y="399.7">P1</text>
<text class="xl" x="202.0" y="414.3" text-anchor="end">latency (ms)</text>
<text class="yl" transform="translate(31.1,471.0) rotate(-90)" text-anchor="middle">Amplitude(uV)</text></g>
<g><rect x="330.9" y="420.0" width="24.4" height="82.0" fill="#f0f0f0"/>
<rect x="376.7" y="420.0" width="37.5" height="82.0" fill="#f0f0f0"/>
<path class="cv" stroke="#5a91c6" d="M225.7,419.0 226.8,419.4 228.0,420.2 229.1,420.2 230.2,419.3 231.4,418.2 232.5,418.2 233.7,418.8 234.8,419.1 235.9,418.5 237.1,417.6 238.2,417.5 239.3,418.5 240.5,419.2 241.6,418.9 242.8,417.9 243.9,417.4 245.0,417.7 246.2,418.1 247.3,417.5 248.4,416.2 249.6,415.3 250.7,415.5 251.9,416.4 253.0,416.9 254.1,416.5 255.3,416.1 256.4,416.6 257.5,417.8 258.7,418.3 259.8,417.5 260.9,416.2 262.1,415.5 263.2,415.7 264.4,415.8 265.5,415.1 266.6,414.0 267.8,413.8 268.9,414.9 270.0,416.4 271.2,417.0 272.3,416.8 273.5,416.7 274.6,417.2 275.7,417.9 276.9,417.9 278.0,417.1 279.1,416.7 280.3,417.5 281.4,419.7 282.6,422.1 283.7,424.1 284.8,426.0 286.0,427.7 287.1,426.6 288.2,424.4 289.4,424.3 290.5,427.4 291.6,432.0 292.8,435.9 293.9,438.5 295.1,440.1 296.2,441.1 297.3,442.2 298.5,445.5 299.6,450.6 300.7,456.7 301.9,463.4 303.0,469.6 304.2,475.9 305.3,481.5 306.4,485.5 307.6,486.6 308.7,485.6 309.8,484.5 311.0,484.1 312.1,483.6 313.2,482.5 314.4,481.3 315.5,480.7 316.7,481.5 317.8,482.7 318.9,483.5 320.1,483.5 321.2,483.5 322.3,484.3 323.5,485.4 324.6,485.7 325.8,485.0 326.9,484.2 328.0,484.2 329.2,485.1 330.3,485.9 331.4,485.9 332.6,485.8 333.7,486.4 334.9,487.9 336.0,489.0 337.1,488.8 338.3,487.4 339.4,486.2 340.5,485.7 341.7,485.1 342.8,483.7 343.9,481.7 345.1,480.3 346.2,480.2 347.4,480.9 348.5,481.3 349.6,480.9 350.8,480.4 351.9,480.7 353.0,481.5 354.2,481.8 355.3,480.7 356.5,479.1 357.6,478.1 358.7,478.1 359.9,478.2 361.0,477.6 362.1,476.5 363.3,476.2 364.4,477.1 365.6,478.2 366.7,478.5 367.8,477.8 369.0,477.0 370.1,476.9 371.2,477.2 372.4,476.8 373.5,475.4 374.6,474.0 375.8,473.6 376.9,474.2 378.1,474.9 379.2,474.7 380.3,474.3 381.5,474.6 382.6,475.8 383.7,476.7 384.9,476.5 386.0,475.3 387.2,474.2 388.3,474.0 389.4,473.9 390.6,473.1 391.7,471.3 392.8,469.8 394.0,469.4 395.1,469.7 396.2,469.5 397.4,468.3 398.5,466.9 399.7,466.3 400.8,466.5 401.9,466.4 403.1,465.1 404.2,463.3 405.3,462.1 406.5,461.8 407.6,461.5 408.8,460.2 409.9,458.2 411.0,456.6 412.2,456.2 413.3,456.3 414.4,455.8"/>
<path class="cv" stroke="#008c1e" d="M225.7,420.7 226.8,421.0 228.0,421.0 229.1,420.8 230.2,420.7 231.4,420.7 232.5,420.7 233.7,420.3 234.8,419.6 235.9,418.9 237.1,418.4 238.2,418.1 239.3,418.0 240.5,417.7 241.6,417.4 242.8,417.1 243.9,417.1 245.0,417.2 246.2,416.7 247.3,415.6 248.4,414.0 249.6,412.4 250.7,411.3 251.9,411.0 253.0,411.5 254.1,412.1 255.3,413.0 256.4,413.5 257.5,413.7 258.7,414.2 259.8,414.8 260.9,415.0 262.1,414.9 263.2,414.8 264.4,415.2 265.5,415.8 266.6,416.2 267.8,415.9 268.9,415.0 270.0,414.1 271.2,413.8 272.3,414.4 273.5,415.3 274.6,416.0 275.7,415.9 276.9,415.0 278.0,413.9 279.1,413.4 280.3,414.4 281.4,416.6 282.6,419.4 283.7,422.0 284.8,424.1 286.0,424.9 287.1,422.1 288.2,418.2 289.4,417.4 290.5,420.2 291.6,424.7 292.8,429.6 293.9,433.3 295.1,436.4 296.2,439.1 297.3,440.9 298.5,443.3 299.6,447.3 300.7,452.9 301.9,460.3 303.0,467.8 304.2,474.2 305.3,479.1 306.4,482.7 307.6,485.1 308.7,486.0 309.8,486.3 311.0,486.5 312.1,486.5 313.2,486.1 314.4,485.2 315.5,483.4 316.7,481.0 317.8,478.5 318.9,476.8 320.1,476.4 321.2,477.2 322.3,478.7 323.5,479.9 324.6,480.3 325.8,479.9 326.9,479.3 328.0,479.5 329.2,480.7 330.3,482.8 331.4,484.7 332.6,485.5 333.7,485.0 334.9,483.6 336.0,482.2 337.1,481.1 338.3,480.6 339.4,480.7 340.5,481.2 341.7,482.0 342.8,482.9 343.9,483.2 345.1,482.4 346.2,480.4 347.4,478.0 348.5,476.1 349.6,475.5 350.8,476.4 351.9,477.9 353.0,479.0 354.2,479.2 355.3,478.5 356.5,477.5 357.6,476.9 358.7,476.7 359.9,476.5 361.0,476.1 362.1,475.4 363.3,474.9 364.4,474.7 365.6,474.8 366.7,474.7 367.8,474.3 369.0,474.0 370.1,474.0 371.2,474.5 372.4,475.1 373.5,475.2 374.6,474.4 375.8,473.1 376.9,472.1 378.1,471.9 379.2,472.4 380.3,473.0 381.5,472.9 382.6,471.8 383.7,470.3 384.9,468.9 386.0,468.0 387.2,467.6 388.3,467.0 389.4,466.0 390.6,464.6 391.7,463.0 392.8,461.4 394.0,459.9 395.1,458.5 396.2,457.3 397.4,456.7 398.5,457.1 399.7,458.1 400.8,458.9 401.9,458.5 403.1,456.5 404.2,453.5 405.3,450.6 406.5,449.0 407.6,448.6 408.8,448.7 409.9,448.6 411.0,447.8 412.2,446.7 413.3,445.9 414.4,446.1"/>
<path class="cv" stroke="#005a14" d="M225.7,420.5 226.8,420.7 228.0,420.2 229.1,419.6 230.2,419.5 231.4,419.8 232.5,419.4 233.7,418.4 234.8,417.6 235.9,418.1 237.1,419.3 238.2,419.8 239.3,418.9 240.5,417.3 241.6,416.2 242.8,416.0 243.9,416.2 245.0,416.3 246.2,416.6 247.3,417.2 248.4,417.6 249.6,417.0 250.7,415.2 251.9,413.5 253.0,413.4 254.1,414.8 255.3,416.3 256.4,416.6 257.5,415.8 258.7,414.7 259.8,414.0 260.9,413.3 262.1,412.4 263.2,411.3 264.4,411.0 265.5,411.8 266.6,411.8 267.8,410.6 268.9,409.1 270.0,408.7 271.2,409.7 272.3,410.9 273.5,411.4 274.6,411.3 275.7,411.4 276.9,412.2 278.0,413.1 279.1,413.8 280.3,414.8 281.4,416.7 282.6,419.3 283.7,421.4 284.8,422.2 286.0,421.7 287.1,419.6 288.2,418.1 289.4,419.3 290.5,422.3 291.6,426.4 292.8,431.2 293.9,434.8 295.1,437.9 296.2,440.5 297.3,442.2 298.5,444.9 299.6,449.6 300.7,455.2 301.9,461.4 303.0,467.6 304.2,473.8 305.3,480.7 306.4,486.8 307.6,490.3 308.7,490.4 309.8,489.2 311.0,488.5 312.1,488.4 313.2,487.8 314.4,486.5 315.5,485.3 316.7,484.5 317.8,483.5 318.9,481.5 320.1,479.3 321.2,478.3 322.3,479.2 323.5,480.8 324.6,481.1 325.8,479.8 326.9,478.4 328.0,478.6 329.2,480.0 330.3,480.9 331.4,480.9 332.6,480.6 333.7,480.7 334.9,480.8 336.0,479.9 337.1,478.5 338.3,478.3 339.4,480.0 340.5,482.1 341.7,482.4 342.8,480.3 343.9,477.6 345.1,476.4 346.2,476.9 347.4,477.9 348.5,478.5 349.6,479.0 350.8,479.6 351.9,479.7 353.0,478.4 354.2,476.1 355.3,474.9 356.5,476.1 357.6,478.6 358.7,480.2 359.9,479.4 361.0,477.2 362.1,475.6 363.3,475.1 364.4,475.0 365.6,474.8 366.7,474.9 367.8,476.0 369.0,477.3 370.1,477.1 371.2,475.3 372.4,473.5 373.5,473.3 374.6,474.7 375.8,475.9 376.9,475.7 378.1,474.9 379.2,474.9 380.3,475.9 381.5,476.3 382.6,475.4 383.7,473.9 384.9,473.2 386.0,473.3 387.2,473.2 388.3,472.1 389.4,470.9 390.6,470.8 391.7,471.3 392.8,470.9 394.0,468.7 395.1,465.9 396.2,464.6 397.4,465.4 398.5,466.5 399.7,466.4 400.8,465.0 401.9,463.5 403.1,462.3 404.2,461.1 405.3,459.3 406.5,458.1 407.6,458.5 408.8,460.0 409.9,460.6 411.0,459.0 412.2,455.9 413.3,453.9 414.4,453.8"/>
<path class="cv" stroke="#889f05" d="M225.7,418.6 226.8,419.5 228.0,420.5 229.1,421.1 230.2,420.9 231.4,420.0 232.5,418.9 233.7,418.0 234.8,417.7 235.9,418.1 237.1,418.9 238.2,419.7 239.3,419.8 240.5,419.3 241.6,418.1 242.8,416.8 243.9,415.8 245.0,415.4 246.2,415.7 247.3,416.5 248.4,417.2 249.6,417.7 250.7,417.6 251.9,417.2 253.0,416.6 254.1,416.1 255.3,415.9 256.4,415.9 257.5,415.8 258.7,415.6 259.8,415.1 260.9,414.5 262.1,413.9 263.2,413.8 264.4,414.1 265.5,414.8 266.6,415.8 267.8,416.5 268.9,416.7 270.0,416.2 271.2,415.0 272.3,413.2 273.5,411.5 274.6,410.0 275.7,408.7 276.9,408.9 278.0,411.2 279.1,413.7 280.3,416.1 281.4,418.6 282.6,420.8 283.7,422.5 284.8,423.7 286.0,423.2 287.1,418.3 288.2,414.4 289.4,416.0 290.5,419.7 291.6,424.4 292.8,429.5 293.9,433.0 295.1,435.6 296.2,438.0 297.3,439.9 298.5,442.4 299.6,446.3 300.7,451.3 301.9,457.5 303.0,464.0 304.2,469.4 305.3,473.9 306.4,477.3 307.6,479.7 308.7,480.8 309.8,481.2 311.0,481.8 312.1,482.2 313.2,482.1 314.4,481.2 315.5,479.4 316.7,476.8 317.8,474.3 318.9,472.8 320.1,472.7 321.2,473.8 322.3,475.3 323.5,476.5 324.6,477.1 325.8,477.1 326.9,476.6 328.0,476.4 329.2,476.8 330.3,477.8 331.4,478.8 332.6,479.6 333.7,479.7 334.9,479.1 336.0,478.0 337.1,476.9 338.3,476.2 339.4,476.3 340.5,476.9 341.7,477.7 342.8,478.1 343.9,477.9 345.1,477.2 346.2,476.3 347.4,475.8 348.5,475.9 349.6,476.7 350.8,477.8 351.9,478.6 353.0,478.8 354.2,478.0 355.3,476.6 356.5,474.9 357.6,473.7 358.7,473.3 359.9,473.8 361.0,474.9 362.1,476.1 363.3,476.9 364.4,477.2 365.6,476.9 366.7,476.2 367.8,475.5 369.0,475.0 370.1,474.6 371.2,474.2 372.4,473.9 373.5,473.4 374.6,472.8 375.8,472.5 376.9,472.5 378.1,473.0 379.2,473.9 380.3,474.9 381.5,475.6 382.6,475.8 383.7,475.2 384.9,474.1 386.0,472.7 387.2,471.2 388.3,470.0 389.4,469.2 390.6,468.9 391.7,469.0 392.8,469.3 394.0,469.6 395.1,469.7 396.2,469.4 397.4,468.7 398.5,467.5 399.7,465.9 400.8,464.3 401.9,462.7 403.1,461.5 404.2,460.6 405.3,460.1 406.5,459.7 407.6,459.2 408.8,458.5 409.9,457.7 411.0,456.7 412.2,455.8 413.3,455.1 414.4,454.7"/>
<path class="cv" stroke="#f0c850" d="M225.7,418.6 226.8,417.8 228.0,418.1 229.1,418.9 230.2,419.5 231.4,419.4 232.5,419.4 233.7,420.0 234.8,420.7 235.9,420.6 237.1,419.3 238.2,417.4 239.3,416.0 240.5,415.8 241.6,416.3 242.8,416.6 243.9,416.7 245.0,417.1 246.2,418.3 247.3,419.6 248.4,420.2 249.6,419.2 250.7,417.5 251.9,416.0 253.0,415.4 254.1,415.2 255.3,414.8 256.4,414.2 257.5,414.3 258.7,415.5 259.8,417.3 260.9,418.5 262.1,418.3 263.2,417.4 264.4,416.7 265.5,416.4 266.6,416.2 267.8,415.4 268.9,414.3 270.0,413.7 271.2,414.3 272.3,415.8 273.5,416.9 274.6,417.0 275.7,416.8 276.9,416.7 278.0,415.5 279.1,416.1 280.3,417.4 281.4,418.5 282.6,420.0 283.7,421.8 284.8,423.6 286.0,423.8 287.1,420.1 288.2,415.6 289.4,415.2 290.5,418.6 291.6,423.1 292.8,428.2 293.9,431.8 295.1,434.3 296.2,437.0 297.3,439.7 298.5,441.9 299.6,444.7 300.7,448.4 301.9,453.6 303.0,460.4 304.2,466.6 305.3,472.0 306.4,476.0 307.6,479.4 308.7,481.7 309.8,483.0 311.0,483.2 312.1,482.5 313.2,481.1 314.4,480.0 315.5,479.5 316.7,479.0 317.8,477.8 318.9,476.3 320.1,475.5 321.2,476.0 322.3,477.0 323.5,477.6 324.6,477.2 325.8,476.6 326.9,476.6 328.0,477.3 329.2,478.0 330.3,478.0 331.4,477.7 332.6,477.9 333.7,479.1 334.9,480.3 336.0,480.7 337.1,479.8 338.3,478.5 339.4,477.7 340.5,477.5 341.7,477.3 342.8,476.5 343.9,475.8 345.1,475.9 346.2,477.2 347.4,478.8 348.5,479.6 349.6,479.2 350.8,478.2 351.9,477.4 353.0,476.8 354.2,475.8 355.3,474.2 356.5,472.5 357.6,472.0 358.7,472.9 359.9,474.5 361.0,475.8 362.1,476.1 363.3,476.1 364.4,476.3 365.6,476.4 366.7,475.8 367.8,474.1 369.0,472.1 370.1,470.9 371.2,471.1 372.4,472.0 373.5,472.7 374.6,472.9 375.8,473.1 376.9,473.8 378.1,474.7 379.2,474.9 380.3,473.9 381.5,472.3 382.6,471.4 383.7,471.4 384.9,471.9 386.0,471.8 387.2,471.2 388.3,470.5 389.4,470.5 390.6,470.6 391.7,470.1 392.8,468.5 394.0,466.5 395.1,465.2 396.2,464.9 397.4,465.1 398.5,464.8 399.7,464.0 400.8,463.3 401.9,463.1 403.1,463.2 404.2,462.4 405.3,460.3 406.5,457.8 407.6,455.9 408.8,455.0 409.9,454.6 411.0,453.9 412.2,453.0 413.3,452.6 414.4,453.2"/>
<path class="cv" stroke="#ee9a10" d="M225.7,420.8 226.8,421.4 228.0,421.4 229.1,420.7 230.2,419.7 231.4,418.6 232.5,417.9 233.7,417.6 234.8,417.8 235.9,418.2 237.1,418.6 238.2,418.6 239.3,418.3 240.5,417.8 241.6,417.5 242.8,417.5 243.9,418.0 245.0,418.6 246.2,418.9 247.3,418.5 248.4,417.4 249.6,416.0 250.7,414.9 251.9,414.5 253.0,415.0 254.1,416.1 255.3,417.2 256.4,418.0 257.5,418.0 258.7,417.4 259.8,416.7 260.9,416.1 262.1,415.9 263.2,415.9 264.4,415.8 265.5,415.6 266.6,415.2 267.8,414.8 268.9,414.8 270.0,415.2 271.2,415.8 272.3,416.5 273.5,417.0 274.6,417.3 275.7,417.3 276.9,417.2 278.0,416.1 279.1,416.3 280.3,417.4 281.4,418.5 282.6,419.6 283.7,420.7 284.8,421.8 286.0,422.0 287.1,418.5 288.2,414.9 289.4,416.2 290.5,419.5 291.6,422.8 292.8,426.9 293.9,431.1 295.1,434.4 296.2,437.3 297.3,439.9 298.5,441.4 299.6,443.3 300.7,446.5 301.9,451.0 303.0,457.9 304.2,465.5 305.3,472.9 306.4,478.9 307.6,482.6 308.7,483.8 309.8,482.7 311.0,480.8 312.1,480.0 313.2,480.1 314.4,480.6 315.5,480.9 316.7,480.2 317.8,478.4 318.9,476.3 320.1,475.1 321.2,475.3 322.3,476.4 323.5,477.7 324.6,478.4 325.8,478.1 326.9,477.2 328.0,476.0 329.2,475.4 330.3,475.7 331.4,476.7 332.6,477.8 333.7,478.6 334.9,479.0 336.0,479.0 337.1,478.9 338.3,478.9 339.4,478.9 340.5,478.6 341.7,478.0 342.8,477.2 343.9,476.5 345.1,476.3 346.2,476.6 347.4,477.4 348.5,478.1 349.6,478.4 350.8,478.0 351.9,477.4 353.0,476.9 354.2,476.8 355.3,477.1 356.5,477.4 357.6,477.2 358.7,476.3 359.9,474.9 361.0,473.6 362.1,473.1 363.3,473.6 364.4,475.0 365.6,476.5 366.7,477.5 367.8,477.4 369.0,476.4 370.1,474.9 371.2,473.7 372.4,473.2 373.5,473.4 374.6,473.9 375.8,474.2 376.9,474.0 378.1,473.3 379.2,472.6 380.3,472.2 381.5,472.3 382.6,472.9 383.7,473.7 384.9,474.1 386.0,473.9 387.2,472.9 388.3,471.4 389.4,469.8 390.6,468.4 391.7,467.6 392.8,467.6 394.0,468.0 395.1,468.6 396.2,469.0 397.4,468.8 398.5,468.0 399.7,466.8 400.8,465.6 401.9,464.6 403.1,464.1 404.2,463.7 405.3,463.1 406.5,462.0 407.6,460.3 408.8,458.4 409.9,456.8 411.0,456.0 412.2,456.1 413.3,457.0 414.4,458.4"/>
<path class="ax" d="M225.7,418.8H415.2"/>
<path class="ax" d="M263.6,397.2V497.6"/>
<path class="ax" d="M225.7,418.8V421.2"/>
<text class="tk" x="225.7" y="428.5" text-anchor="middle">-200</text>
<path class="ax" d="M301.5,418.8V421.2"/>
<text class="tk" x="301.5" y="428.5" text-anchor="middle">200</text>
<path class="ax" d="M339.4,418.8V421.2"/>
<text class="tk" x="339.4" y="428.5" text-anchor="middle">400</text>
<path class="ax" d="M377.3,418.8V421.2"/>
<text class="tk" x="377.3" y="428.5" text-anchor="middle">600</text>
<path class="ax" d="M415.2,418.8V421.2"/>
<text class="tk" x="415.2" y="428.5" text-anchor="middle">800</text>
<path class="ax" d="M261.8,400.9H263.6"/>
<text class="ty" transform="translate(261.3,403.7) scale(0.89,1)" text-anchor="end">-2.5</text>
<path class="ax" d="M261.8,436.7H263.6"/>
<text class="ty" transform="translate(261.3,439.5) scale(0.89,1)" text-anchor="end">2.5</text>
<path class="ax" d="M261.8,454.6H263.6"/>
<text class="ty" transform="translate(261.3,457.4) scale(0.89,1)" text-anchor="end">5</text>
<path class="ax" d="M261.8,472.5H263.6"/>
<text class="ty" transform="translate(261.3,475.3) scale(0.89,1)" text-anchor="end">7.5</text>
<path class="ax" d="M261.8,490.4H263.6"/>
<text class="ty" transform="translate(261.3,493.2) scale(0.89,1)" text-anchor="end">10</text>
<text class="t" x="265.2" y="399.7">Pz</text>
<text class="xl" x="419.4" y="414.3" text-anchor="end">latency (ms)</text>
<text class="yl" transform="translate(248.5,471.0) rotate(-90)" text-anchor="middle">Amplitude(uV)</text></g>
<g><rect x="546.5" y="420.0" width="24.4" height="82.0" fill="#f0f0f0"/>
<rect x="592.3" y="420.0" width="37.5" height="82.0" fill="#f0f0f0"/>
<path class="cv" stroke="#5a91c6" d="M441.3,419.7 442.4,418.6 443.6,418.3 444.7,418.9 445.8,419.8 447.0,420.0 448.1,419.4 449.3,418.8 450.4,418.7 451.5,419.2 452.7,419.4 453.8,418.7 454.9,417.3 456.1,416.2 457.2,416.1 458.4,417.2 459.5,418.3 460.6,418.7 461.8,418.2 462.9,417.5 464.0,417.3 465.2,417.6 466.3,417.6 467.5,416.9 468.6,415.6 469.7,414.7 470.9,414.9 472.0,416.1 473.1,417.2 474.3,417.5 475.4,416.8 476.5,416.1 477.7,415.9 478.8,416.4 480.0,416.7 481.1,416.4 482.2,415.4 483.4,414.8 484.5,415.0 485.6,416.0 486.8,416.8 487.9,416.6 489.1,415.7 490.2,415.1 491.3,415.4 492.5,416.5 493.6,417.6 494.7,418.7 495.9,420.6 497.0,423.0 498.1,426.1 499.3,430.0 500.4,433.4 501.6,431.3 502.7,426.9 503.8,425.1 505.0,426.6 506.1,430.0 507.2,434.9 508.4,438.6 509.5,440.3 510.7,441.6 511.8,443.2 512.9,444.8 514.1,446.7 515.2,448.5 516.3,451.0 517.5,455.4 518.6,460.7 519.8,466.5 520.9,472.2 522.0,477.3 523.2,481.2 524.3,483.5 525.4,484.4 526.6,485.2 527.7,485.3 528.8,484.4 530.0,482.8 531.1,481.3 532.3,480.5 533.4,480.6 534.5,480.9 535.7,480.8 536.8,480.3 537.9,480.3 539.1,481.1 540.2,482.5 541.4,483.6 542.5,483.9 543.6,483.5 544.8,483.3 545.9,483.6 547.0,484.1 548.2,483.9 549.3,482.6 550.5,480.7 551.6,479.4 552.7,479.4 553.9,480.2 555.0,481.0 556.1,481.0 557.3,480.4 558.4,480.0 559.5,480.0 560.7,480.0 561.8,479.2 563.0,477.2 564.1,474.9 565.2,473.4 566.4,473.4 567.5,474.6 568.6,475.8 569.8,476.5 570.9,476.7 572.1,477.0 573.2,477.8 574.3,478.4 575.5,478.0 576.6,476.5 577.7,474.4 578.9,473.1 580.0,472.9 581.2,473.7 582.3,474.4 583.4,474.4 584.6,474.2 585.7,474.3 586.8,475.0 588.0,476.0 589.1,476.2 590.2,475.3 591.4,473.9 592.5,472.9 593.7,472.8 594.8,473.0 595.9,472.8 597.1,471.7 598.2,470.3 599.3,469.6 600.5,469.9 601.6,470.8 602.8,471.4 603.9,471.2 605.0,470.4 606.2,470.0 607.3,470.0 608.4,469.9 609.6,468.7 610.7,466.4 611.9,463.8 613.0,461.9 614.1,461.3 615.3,461.6 616.4,461.8 617.5,461.4 618.7,460.8 619.8,460.6 620.9,460.8 622.1,460.7 623.2,459.3 624.4,456.7 625.5,453.5 626.6,450.9 627.8,448.2 628.9,445.3 630.0,444.1"/>
<path class="cv" stroke="#008c1e" d="M441.3,419.7 442.4,419.7 443.6,420.0 444.7,420.4 445.8,420.6 447.0,420.4 448.1,420.0 449.3,419.5 450.4,419.1 451.5,418.9 452.7,419.1 453.8,419.4 454.9,419.6 456.1,419.5 457.2,418.9 458.4,417.8 459.5,416.4 460.6,415.0 461.8,413.7 462.9,412.8 464.0,412.5 465.2,412.7 466.3,413.0 467.5,413.2 468.6,413.2 469.7,413.1 470.9,413.4 472.0,413.7 473.1,413.8 474.3,414.1 475.4,414.4 476.5,414.3 477.7,414.0 478.8,413.9 480.0,414.2 481.1,414.9 482.2,415.6 483.4,416.0 484.5,416.0 485.6,416.0 486.8,415.9 487.9,415.7 489.1,415.2 490.2,414.6 491.3,414.0 492.5,413.6 493.6,413.9 494.7,415.1 495.9,417.2 497.0,419.7 498.1,422.3 499.3,424.8 500.4,426.6 501.6,425.2 502.7,422.2 503.8,420.4 505.0,421.8 506.1,425.0 507.2,428.8 508.4,432.5 509.5,434.2 510.7,435.0 511.8,435.9 512.9,437.2 514.1,439.4 515.2,442.7 516.3,447.3 517.5,453.5 518.6,460.4 519.8,466.3 520.9,471.5 522.0,476.2 523.2,480.3 524.3,483.2 525.4,483.9 526.6,483.7 527.7,483.3 528.8,482.7 530.0,481.8 531.1,480.3 532.3,478.5 533.4,476.8 534.5,475.9 535.7,476.0 536.8,476.8 537.9,477.9 539.1,479.1 540.2,479.7 541.4,479.5 542.5,478.7 543.6,477.4 544.8,476.2 545.9,475.5 547.0,475.5 548.2,476.3 549.3,477.5 550.5,478.9 551.6,479.8 552.7,480.1 553.9,479.6 555.0,478.6 556.1,477.3 557.3,476.1 558.4,475.2 559.5,474.9 560.7,474.8 561.8,474.9 563.0,474.9 564.1,474.6 565.2,474.3 566.4,473.9 567.5,473.7 568.6,473.8 569.8,474.3 570.9,474.9 572.1,475.4 573.2,475.6 574.3,475.4 575.5,474.6 576.6,473.4 577.7,472.0 578.9,470.8 580.0,470.0 581.2,469.6 582.3,469.6 583.4,470.0 584.6,470.6 585.7,471.3 586.8,471.9 588.0,472.3 589.1,472.3 590.2,472.0 591.4,471.2 592.5,470.0 593.7,468.5 594.8,467.1 595.9,465.8 597.1,464.9 598.2,464.5 599.3,464.5 600.5,464.8 601.6,465.0 602.8,464.9 603.9,464.4 605.0,463.4 606.2,462.1 607.3,460.8 608.4,459.6 609.6,458.8 610.7,458.2 611.9,457.7 613.0,457.0 614.1,456.0 615.3,454.7 616.4,453.2 617.5,451.9 618.7,450.8 619.8,450.1 620.9,449.7 622.1,449.6 623.2,449.3 624.4,448.5 625.5,447.0 626.6,445.2 627.8,443.2 628.9,441.4 630.0,440.1"/>
<path class="cv" stroke="#005a14" d="M441.3,420.7 442.4,418.7 443.6,417.8 444.7,418.5 445.8,419.7 447.0,420.1 448.1,419.7 449.3,419.1 450.4,419.1 451.5,419.4 452.7,419.2 453.8,418.4 454.9,417.4 456.1,416.8 457.2,416.7 458.4,416.8 459.5,416.7 460.6,416.6 461.8,416.5 462.9,416.3 464.0,416.0 465.2,416.0 466.3,416.3 467.5,416.7 468.6,416.4 469.7,415.0 470.9,413.5 472.0,413.0 473.1,413.9 474.3,415.2 475.4,415.4 476.5,414.5 477.7,413.5 478.8,412.6 480.0,412.1 481.1,411.4 482.2,409.8 483.4,408.3 484.5,408.3 485.6,409.7 486.8,411.3 487.9,411.6 489.1,411.0 490.2,410.5 491.3,410.8 492.5,412.2 493.6,414.2 494.7,415.9 495.9,417.4 497.0,418.9 498.1,420.9 499.3,423.1 500.4,424.4 501.6,423.4 502.7,420.5 503.8,418.6 505.0,419.7 506.1,422.7 507.2,426.8 508.4,431.6 509.5,433.8 510.7,434.3 511.8,434.9 512.9,436.7 514.1,440.0 515.2,444.1 516.3,447.7 517.5,451.9 518.6,457.4 519.8,463.7 520.9,470.6 522.0,476.6 523.2,480.9 524.3,483.4 525.4,484.2 526.6,484.6 527.7,484.9 528.8,484.0 530.0,482.2 531.1,480.9 532.3,480.3 533.4,479.9 534.5,478.9 535.7,477.0 536.8,475.1 537.9,473.7 539.1,473.0 540.2,473.2 541.4,474.1 542.5,475.5 543.6,476.6 544.8,476.7 545.9,475.7 547.0,474.7 548.2,474.7 549.3,475.4 550.5,475.5 551.6,474.4 552.7,473.2 553.9,473.4 555.0,475.1 556.1,476.5 557.3,476.2 558.4,474.6 559.5,473.7 560.7,474.7 561.8,476.5 563.0,476.9 564.1,475.0 565.2,472.5 566.4,471.4 567.5,472.2 568.6,473.6 569.8,474.3 570.9,474.1 572.1,473.8 573.2,473.9 574.3,473.8 575.5,472.9 576.6,471.5 577.7,470.2 578.9,469.4 580.0,469.2 581.2,469.2 582.3,469.8 583.4,470.6 584.6,471.1 585.7,470.7 586.8,469.6 588.0,469.2 589.1,470.0 590.2,471.3 591.4,471.4 592.5,469.6 593.7,467.5 594.8,467.1 595.9,468.6 597.1,470.3 598.2,470.5 599.3,469.2 600.5,468.0 601.6,468.1 602.8,468.5 603.9,467.4 605.0,464.6 606.2,461.7 607.3,460.7 608.4,461.6 609.6,462.8 610.7,462.8 611.9,461.5 613.0,459.9 614.1,458.9 615.3,458.2 616.4,457.4 617.5,456.6 618.7,455.9 619.8,455.0 620.9,454.0 622.1,452.9 623.2,452.5 624.4,453.0 625.5,453.5 626.6,453.2 627.8,452.4 628.9,452.1 630.0,452.7"/>
<path class="cv" stroke="#889f05" d="M441.3,421.9 442.4,420.4 443.6,419.1 444.7,418.3 445.8,418.1 447.0,418.2 448.1,418.4 449.3,418.5 450.4,418.5 451.5,418.4 452.7,418.4 453.8,418.7 454.9,419.1 456.1,419.5 457.2,419.5 458.4,419.0 459.5,418.0 460.6,416.9 461.8,415.8 462.9,415.2 464.0,415.1 465.2,415.3 466.3,415.8 467.5,416.3 468.6,416.6 469.7,416.8 470.9,416.9 472.0,417.0 473.1,417.1 474.3,416.9 475.4,416.4 476.5,415.4 477.7,414.2 478.8,413.0 480.0,412.4 481.1,412.6 482.2,413.7 483.4,415.2 484.5,416.7 485.6,417.2 486.8,416.5 487.9,414.6 489.1,412.4 490.2,410.8 491.3,410.1 492.5,410.6 493.6,412.3 494.7,414.9 495.9,417.8 497.0,420.6 498.1,422.9 499.3,424.8 500.4,425.6 501.6,422.7 502.7,418.3 503.8,415.6 505.0,417.2 506.1,420.9 507.2,424.5 508.4,428.0 509.5,429.8 510.7,431.1 511.8,432.7 512.9,434.7 514.1,437.2 515.2,440.6 516.3,444.4 517.5,449.6 518.6,455.5 519.8,460.6 520.9,465.5 522.0,470.2 523.2,474.7 524.3,478.0 525.4,479.1 526.6,479.0 527.7,478.8 528.8,478.7 530.0,478.6 531.1,478.3 532.3,477.1 533.4,475.3 534.5,473.5 535.7,472.2 536.8,471.2 537.9,470.7 539.1,471.0 540.2,472.1 541.4,473.7 542.5,475.2 543.6,476.4 544.8,477.0 545.9,476.9 547.0,476.4 548.2,475.9 549.3,475.7 550.5,475.9 551.6,476.2 552.7,476.4 553.9,476.2 555.0,475.3 556.1,474.2 557.3,473.1 558.4,472.6 559.5,472.9 560.7,474.0 561.8,475.4 563.0,476.6 564.1,477.1 565.2,476.7 566.4,475.6 567.5,474.1 568.6,472.8 569.8,472.0 570.9,472.0 572.1,472.4 573.2,473.1 574.3,473.7 575.5,474.0 576.6,474.0 577.7,473.8 578.9,473.6 580.0,473.3 581.2,473.0 582.3,472.4 583.4,471.8 584.6,471.0 585.7,470.4 586.8,470.1 588.0,470.4 589.1,471.0 590.2,471.8 591.4,472.4 592.5,472.5 593.7,472.2 594.8,471.6 595.9,470.9 597.1,470.4 598.2,470.2 599.3,470.2 600.5,469.9 601.6,469.3 602.8,468.1 603.9,466.6 605.0,465.2 606.2,464.2 607.3,464.0 608.4,464.3 609.6,464.8 610.7,465.0 611.9,464.4 613.0,462.9 614.1,460.7 615.3,458.4 616.4,456.5 617.5,455.5 618.7,455.4 619.8,455.7 620.9,456.0 622.1,455.8 623.2,454.9 624.4,453.5 625.5,451.8 626.6,450.3 627.8,449.7 628.9,450.0 630.0,450.3"/>
<path class="cv" stroke="#f0c850" d="M441.3,420.3 442.4,419.7 443.6,418.4 444.7,417.6 445.8,418.1 447.0,419.2 448.1,419.9 449.3,419.7 450.4,419.1 451.5,419.0 452.7,419.4 453.8,419.6 454.9,418.7 456.1,417.1 457.2,416.0 458.4,416.1 459.5,417.0 460.6,417.7 461.8,417.5 462.9,417.1 464.0,417.2 465.2,418.0 466.3,418.4 467.5,417.8 468.6,416.4 469.7,415.3 470.9,415.4 472.0,416.1 473.1,416.6 474.3,416.3 475.4,415.7 476.5,415.8 477.7,416.6 478.8,417.2 480.0,416.8 481.1,415.6 482.2,414.8 483.4,415.1 484.5,416.1 485.6,416.7 486.8,416.3 487.9,415.5 489.1,415.0 490.2,415.2 491.3,415.2 492.5,414.8 493.6,414.4 494.7,415.2 495.9,417.5 497.0,420.4 498.1,423.0 499.3,424.8 500.4,425.5 501.6,423.1 502.7,419.6 503.8,417.3 505.0,417.8 506.1,419.9 507.2,422.6 508.4,427.2 509.5,431.0 510.7,433.4 511.8,434.7 512.9,436.1 514.1,437.7 515.2,440.6 516.3,443.9 517.5,447.8 518.6,452.8 519.8,457.8 520.9,463.2 522.0,469.0 523.2,474.4 524.3,478.3 525.4,480.3 526.6,480.4 527.7,480.7 528.8,480.5 530.0,479.4 531.1,477.7 532.3,476.1 533.4,475.4 534.5,475.5 535.7,475.6 536.8,475.0 537.9,474.3 539.1,474.4 540.2,475.3 541.4,476.0 542.5,475.7 543.6,474.7 544.8,474.0 545.9,474.4 547.0,475.6 548.2,476.4 549.3,476.3 550.5,475.9 551.6,476.1 552.7,476.9 553.9,477.5 555.0,476.9 556.1,475.4 557.3,474.3 558.4,474.2 559.5,474.9 560.7,475.4 561.8,475.2 563.0,474.8 564.1,475.0 565.2,476.0 566.4,476.6 567.5,476.1 568.6,474.6 569.8,473.3 570.9,473.0 572.1,473.4 573.2,473.6 574.3,473.1 575.5,472.4 576.6,472.5 577.7,473.3 578.9,474.0 580.0,473.7 581.2,472.4 582.3,471.3 583.4,471.3 584.6,471.9 585.7,472.2 586.8,471.6 588.0,470.9 589.1,470.9 590.2,471.7 591.4,472.4 592.5,472.0 593.7,470.8 594.8,469.9 595.9,470.0 597.1,470.7 598.2,471.1 599.3,470.5 600.5,469.5 601.6,469.0 602.8,469.1 603.9,468.9 605.0,467.6 606.2,465.4 607.3,463.4 608.4,462.6 609.6,462.7 610.7,462.6 611.9,461.8 613.0,460.8 614.1,460.5 615.3,460.9 616.4,461.0 617.5,459.8 618.7,457.5 619.8,455.3 620.9,454.1 622.1,453.5 623.2,452.8 624.4,451.5 625.5,450.2 626.6,449.8 627.8,450.6 628.9,451.7 630.0,451.6"/>
<path class="cv" stroke="#ee9a10" d="M441.3,418.4 442.4,419.1 443.6,419.6 444.7,419.3 445.8,418.6 447.0,418.3 448.1,418.9 449.3,419.8 450.4,420.1 451.5,419.5 452.7,418.6 453.8,418.1 454.9,418.1 456.1,417.9 457.2,417.0 458.4,416.0 459.5,415.9 460.6,417.2 461.8,419.1 462.9,420.0 464.0,419.2 465.2,417.0 466.3,415.1 467.5,414.4 468.6,415.0 469.7,416.0 470.9,416.7 472.0,417.3 473.1,417.9 474.3,418.3 475.4,417.9 476.5,416.3 477.7,414.2 478.8,413.1 480.0,413.9 481.1,415.9 482.2,417.7 483.4,418.0 484.5,417.0 485.6,415.7 486.8,415.1 487.9,415.3 489.1,415.4 490.2,415.1 491.3,414.8 492.5,415.0 493.6,415.9 494.7,417.2 495.9,418.5 497.0,419.6 498.1,420.9 499.3,422.7 500.4,424.0 501.6,421.3 502.7,415.9 503.8,411.9 505.0,412.7 506.1,416.9 507.2,422.0 508.4,426.9 509.5,431.0 510.7,433.1 511.8,434.6 512.9,436.3 514.1,437.8 515.2,439.2 516.3,441.0 517.5,443.9 518.6,449.4 519.8,456.2 520.9,462.5 522.0,467.8 523.2,472.2 524.3,476.0 525.4,479.2 526.6,480.6 527.7,480.6 528.8,479.4 530.0,477.5 531.1,476.0 532.3,475.3 533.4,475.4 534.5,475.5 535.7,475.4 536.8,475.4 537.9,475.9 539.1,476.7 540.2,476.9 541.4,475.9 542.5,474.2 543.6,473.2 544.8,474.0 545.9,476.4 547.0,478.7 548.2,479.7 549.3,478.9 550.5,477.3 551.6,476.1 552.7,475.5 553.9,475.2 555.0,475.2 556.1,475.5 557.3,476.8 558.4,478.4 559.5,479.3 560.7,478.5 561.8,476.4 563.0,474.2 564.1,473.5 565.2,474.4 566.4,475.7 567.5,476.4 568.6,475.9 569.8,475.1 570.9,474.7 572.1,474.8 573.2,474.8 574.3,474.2 575.5,473.5 576.6,473.2 577.7,473.7 578.9,474.2 580.0,473.8 581.2,472.6 582.3,471.5 583.4,471.5 584.6,472.7 585.7,473.9 586.8,473.9 588.0,472.6 589.1,471.0 590.2,470.2 591.4,470.4 592.5,470.9 593.7,471.0 594.8,470.6 595.9,470.3 597.1,470.5 598.2,470.7 599.3,470.1 600.5,468.6 601.6,467.0 602.8,466.3 603.9,466.7 605.0,467.1 606.2,466.5 607.3,464.8 608.4,463.0 609.6,462.3 610.7,462.8 611.9,463.4 613.0,463.2 614.1,461.9 615.3,460.2 616.4,459.0 617.5,458.1 618.7,457.3 619.8,456.3 620.9,455.5 622.1,455.6 623.2,456.3 624.4,456.5 625.5,455.1 626.6,452.1 627.8,449.1 628.9,447.6 630.0,448.3"/>
<path class="ax" d="M441.3,418.8H630.8"/>
<path class="ax" d="M479.2,397.2V497.6"/>
<path class="ax" d="M441.3,418.8V421.2"/>
<text class="tk" x="441.3" y="428.5" text-anchor="middle">-200</text>
<path class="ax" d="M517.1,418.8V421.2"/>
<text class="tk" x="517.1" y="428.5" text-anchor="middle">200</text>
<path class="ax" d="M555.0,418.8V421.2"/>
<text class="tk" x="555.0" y="428.5" text-anchor="middle">400</text>
<path class="ax" d="M592.9,418.8V421.2"/>
<text class="tk" x="592.9" y="428.5" text-anchor="middle">600</text>
<path class="ax" d="M630.8,418.8V421.2"/>
<text class="tk" x="630.8" y="428.5" text-anchor="middle">800</text>
<path class="ax" d="M477.4,400.9H479.2"/>
<text class="ty" transform="translate(476.9,403.7) scale(0.89,1)" text-anchor="end">-2.5</text>
<path class="ax" d="M477.4,436.7H479.2"/>
<text class="ty" transform="translate(476.9,439.5) scale(0.89,1)" text-anchor="end">2.5</text>
<path class="ax" d="M477.4,454.6H479.2"/>
<text class="ty" transform="translate(476.9,457.4) scale(0.89,1)" text-anchor="end">5</text>
<path class="ax" d="M477.4,472.5H479.2"/>
<text class="ty" transform="translate(476.9,475.3) scale(0.89,1)" text-anchor="end">7.5</text>
<path class="ax" d="M477.4,490.4H479.2"/>
<text class="ty" transform="translate(476.9,493.2) scale(0.89,1)" text-anchor="end">10</text>
<text class="t" x="480.8" y="399.7">P2</text>
<text class="xl" x="635.0" y="414.3" text-anchor="end">latency (ms)</text>
<text class="yl" transform="translate(464.1,471.0) rotate(-90)" text-anchor="middle">Amplitude(uV)</text></g>
</svg></body></html>
